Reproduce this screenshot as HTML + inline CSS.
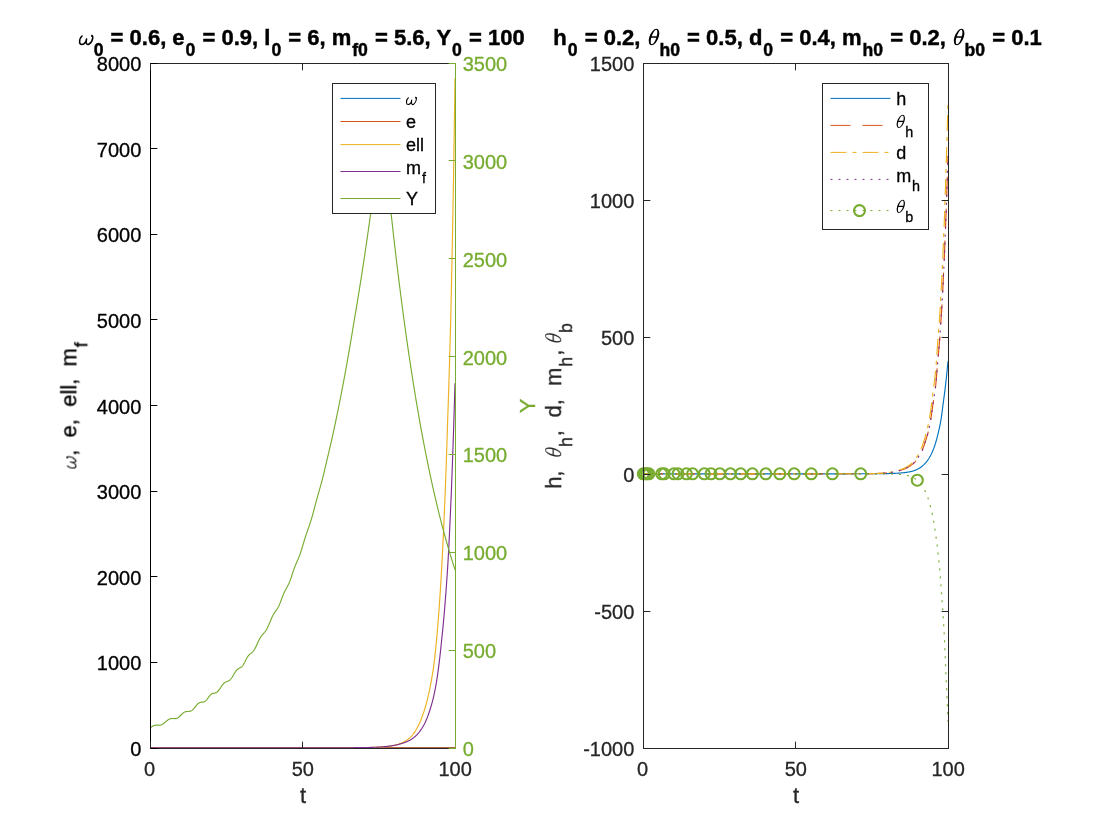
<!DOCTYPE html>
<html><head><meta charset="utf-8"><title>figure</title>
<style>html,body{margin:0;padding:0;background:#fff;}svg{display:block;will-change:transform;}text{font-family:"Liberation Sans",sans-serif;}</style></head><body>
<svg width="1120" height="840" viewBox="0 0 1120 840">
<rect x="0" y="0" width="1120" height="840" fill="#fff"/>
<defs><clipPath id="c1"><rect x="150.00" y="63.00" width="306.00" height="686.00"/></clipPath>
<clipPath id="c2"><rect x="643.00" y="63.00" width="306.00" height="686.00"/></clipPath>
<filter id="ga" color-interpolation-filters="sRGB" filterUnits="userSpaceOnUse" x="0" y="0" width="1120" height="840"><feOffset dx="0" dy="0"/></filter></defs>
<g clip-path="url(#c1)"><g fill="none" stroke-width="1.15" stroke-linejoin="round">
<polyline stroke="#0072BD" points="150.00,747.75 150.25,747.75 150.51,747.75 150.76,747.75 151.02,747.75 151.27,747.75 151.53,747.75 151.78,747.75 152.03,747.75 152.29,747.75 152.54,747.75 152.80,747.75 153.05,747.75 153.30,747.75 153.56,747.75 153.81,747.75 154.07,747.75 154.32,747.75 154.57,747.75 154.83,747.75 155.08,747.75 155.34,747.75 155.59,747.75 155.85,747.75 156.10,747.75 156.35,747.75 156.61,747.75 156.86,747.75 157.12,747.75 157.37,747.75 157.62,747.75 157.88,747.75 158.13,747.75 158.39,747.75 158.64,747.75 158.90,747.75 159.15,747.75 159.40,747.75 159.66,747.75 159.91,747.75 160.17,747.75 160.42,747.75 160.68,747.75 160.93,747.75 161.18,747.75 161.44,747.75 161.69,747.75 161.95,747.75 162.20,747.75 162.45,747.75 162.71,747.75 162.96,747.75 163.22,747.75 163.47,747.75 163.72,747.75 163.98,747.75 164.23,747.75 164.49,747.75 164.74,747.75 165.00,747.75 165.25,747.75 165.50,747.75 165.76,747.75 166.01,747.75 166.27,747.75 166.52,747.75 166.78,747.75 167.03,747.75 167.28,747.75 167.54,747.75 167.79,747.75 168.05,747.75 168.30,747.75 168.55,747.75 168.81,747.75 169.06,747.75 169.32,747.75 169.57,747.75 169.82,747.75 170.08,747.75 170.33,747.75 170.59,747.75 170.84,747.75 171.10,747.75 171.35,747.75 171.60,747.75 171.86,747.75 172.11,747.75 172.37,747.75 172.62,747.75 172.88,747.75 173.13,747.75 173.38,747.75 173.64,747.75 173.89,747.75 174.15,747.75 174.40,747.75 174.65,747.75 174.91,747.75 175.16,747.75 175.42,747.75 175.67,747.75 175.93,747.75 176.18,747.75 176.43,747.75 176.69,747.75 176.94,747.75 177.20,747.75 177.45,747.75 177.70,747.75 177.96,747.75 178.21,747.75 178.47,747.75 178.72,747.75 178.97,747.75 179.23,747.75 179.48,747.75 179.74,747.75 179.99,747.75 180.25,747.75 180.50,747.75 180.75,747.75 181.01,747.75 181.26,747.75 181.52,747.75 181.77,747.75 182.03,747.75 182.28,747.75 182.53,747.75 182.79,747.75 183.04,747.75 183.30,747.75 183.55,747.75 183.80,747.75 184.06,747.75 184.31,747.75 184.57,747.75 184.82,747.75 185.07,747.75 185.33,747.75 185.58,747.75 185.84,747.75 186.09,747.75 186.35,747.75 186.60,747.75 186.85,747.75 187.11,747.75 187.36,747.75 187.62,747.75 187.87,747.75 188.12,747.75 188.38,747.75 188.63,747.75 188.89,747.75 189.14,747.75 189.40,747.75 189.65,747.75 189.90,747.75 190.16,747.75 190.41,747.75 190.67,747.75 190.92,747.75 191.18,747.75 191.43,747.75 191.68,747.75 191.94,747.75 192.19,747.75 192.45,747.75 192.70,747.75 192.95,747.75 193.21,747.75 193.46,747.75 193.72,747.75 193.97,747.75 194.22,747.75 194.48,747.75 194.73,747.75 194.99,747.75 195.24,747.75 195.50,747.75 195.75,747.75 196.00,747.75 196.26,747.75 196.51,747.75 196.77,747.75 197.02,747.75 197.28,747.75 197.53,747.75 197.78,747.75 198.04,747.75 198.29,747.75 198.55,747.75 198.80,747.75 199.05,747.75 199.31,747.75 199.56,747.75 199.82,747.75 200.07,747.75 200.32,747.75 200.58,747.75 200.83,747.75 201.09,747.75 201.34,747.75 201.60,747.75 201.85,747.75 202.10,747.75 202.36,747.75 202.61,747.75 202.87,747.75 203.12,747.75 203.38,747.75 203.63,747.75 203.88,747.75 204.14,747.75 204.39,747.75 204.65,747.75 204.90,747.75 205.15,747.75 205.41,747.75 205.66,747.75 205.92,747.75 206.17,747.75 206.43,747.75 206.68,747.75 206.93,747.75 207.19,747.75 207.44,747.75 207.70,747.75 207.95,747.75 208.20,747.75 208.46,747.75 208.71,747.75 208.97,747.75 209.22,747.75 209.47,747.75 209.73,747.75 209.98,747.75 210.24,747.75 210.49,747.75 210.75,747.75 211.00,747.75 211.25,747.75 211.51,747.75 211.76,747.75 212.02,747.75 212.27,747.75 212.53,747.75 212.78,747.75 213.03,747.75 213.29,747.75 213.54,747.75 213.80,747.75 214.05,747.75 214.30,747.75 214.56,747.75 214.81,747.75 215.07,747.75 215.32,747.75 215.57,747.75 215.83,747.75 216.08,747.75 216.34,747.75 216.59,747.75 216.85,747.75 217.10,747.75 217.35,747.75 217.61,747.75 217.86,747.75 218.12,747.75 218.37,747.75 218.62,747.75 218.88,747.75 219.13,747.75 219.39,747.75 219.64,747.75 219.90,747.75 220.15,747.75 220.40,747.75 220.66,747.75 220.91,747.75 221.17,747.75 221.42,747.75 221.68,747.75 221.93,747.75 222.18,747.75 222.44,747.75 222.69,747.75 222.95,747.75 223.20,747.75 223.45,747.75 223.71,747.75 223.96,747.75 224.22,747.75 224.47,747.75 224.72,747.75 224.98,747.75 225.23,747.75 225.49,747.75 225.74,747.75 226.00,747.75 226.25,747.75 226.50,747.75 226.76,747.75 227.01,747.75 227.27,747.75 227.52,747.75 227.78,747.75 228.03,747.75 228.28,747.75 228.54,747.75 228.79,747.75 229.05,747.75 229.30,747.75 229.55,747.75 229.81,747.75 230.06,747.75 230.32,747.75 230.57,747.75 230.82,747.75 231.08,747.75 231.33,747.75 231.59,747.75 231.84,747.75 232.10,747.75 232.35,747.75 232.60,747.75 232.86,747.75 233.11,747.75 233.37,747.75 233.62,747.75 233.88,747.75 234.13,747.75 234.38,747.75 234.64,747.75 234.89,747.75 235.15,747.75 235.40,747.75 235.65,747.75 235.91,747.75 236.16,747.75 236.42,747.75 236.67,747.75 236.93,747.75 237.18,747.75 237.43,747.75 237.69,747.75 237.94,747.75 238.20,747.75 238.45,747.75 238.70,747.75 238.96,747.75 239.21,747.75 239.47,747.75 239.72,747.75 239.97,747.75 240.23,747.75 240.48,747.75 240.74,747.75 240.99,747.75 241.25,747.75 241.50,747.75 241.75,747.75 242.01,747.75 242.26,747.75 242.52,747.75 242.77,747.75 243.02,747.75 243.28,747.75 243.53,747.75 243.79,747.75 244.04,747.75 244.30,747.75 244.55,747.75 244.80,747.75 245.06,747.75 245.31,747.75 245.57,747.75 245.82,747.75 246.07,747.75 246.33,747.75 246.58,747.75 246.84,747.75 247.09,747.75 247.35,747.75 247.60,747.75 247.85,747.75 248.11,747.75 248.36,747.75 248.62,747.75 248.87,747.75 249.12,747.75 249.38,747.75 249.63,747.75 249.89,747.75 250.14,747.75 250.40,747.75 250.65,747.75 250.90,747.75 251.16,747.75 251.41,747.75 251.67,747.75 251.92,747.75 252.18,747.75 252.43,747.75 252.68,747.75 252.94,747.75 253.19,747.75 253.45,747.75 253.70,747.75 253.95,747.75 254.21,747.75 254.46,747.75 254.72,747.75 254.97,747.75 255.22,747.75 255.48,747.75 255.73,747.75 255.99,747.75 256.24,747.75 256.50,747.75 256.75,747.75 257.00,747.75 257.26,747.75 257.51,747.75 257.77,747.75 258.02,747.75 258.27,747.75 258.53,747.75 258.78,747.75 259.04,747.75 259.29,747.75 259.55,747.75 259.80,747.75 260.05,747.75 260.31,747.75 260.56,747.75 260.82,747.75 261.07,747.75 261.32,747.75 261.58,747.75 261.83,747.75 262.09,747.75 262.34,747.75 262.60,747.75 262.85,747.75 263.10,747.75 263.36,747.75 263.61,747.75 263.87,747.75 264.12,747.75 264.38,747.75 264.63,747.75 264.88,747.75 265.14,747.75 265.39,747.75 265.65,747.75 265.90,747.75 266.15,747.75 266.41,747.75 266.66,747.75 266.92,747.75 267.17,747.75 267.43,747.75 267.68,747.75 267.93,747.75 268.19,747.75 268.44,747.75 268.70,747.75 268.95,747.75 269.20,747.75 269.46,747.75 269.71,747.75 269.97,747.75 270.22,747.75 270.48,747.75 270.73,747.75 270.98,747.75 271.24,747.75 271.49,747.75 271.75,747.75 272.00,747.75 272.25,747.75 272.51,747.75 272.76,747.75 273.02,747.75 273.27,747.75 273.52,747.75 273.78,747.75 274.03,747.75 274.29,747.75 274.54,747.75 274.80,747.75 275.05,747.75 275.30,747.75 275.56,747.75 275.81,747.75 276.07,747.75 276.32,747.75 276.57,747.75 276.83,747.75 277.08,747.75 277.34,747.75 277.59,747.75 277.85,747.75 278.10,747.75 278.35,747.75 278.61,747.75 278.86,747.75 279.12,747.75 279.37,747.75 279.62,747.75 279.88,747.75 280.13,747.75 280.39,747.75 280.64,747.75 280.90,747.75 281.15,747.75 281.40,747.75 281.66,747.75 281.91,747.75 282.17,747.75 282.42,747.75 282.68,747.75 282.93,747.75 283.18,747.75 283.44,747.75 283.69,747.75 283.95,747.75 284.20,747.75 284.45,747.75 284.71,747.75 284.96,747.75 285.22,747.75 285.47,747.75 285.73,747.75 285.98,747.75 286.23,747.75 286.49,747.75 286.74,747.75 287.00,747.75 287.25,747.75 287.50,747.75 287.76,747.75 288.01,747.75 288.27,747.75 288.52,747.75 288.77,747.75 289.03,747.75 289.28,747.75 289.54,747.75 289.79,747.75 290.05,747.75 290.30,747.75 290.55,747.75 290.81,747.75 291.06,747.75 291.32,747.75 291.57,747.75 291.83,747.75 292.08,747.75 292.33,747.75 292.59,747.75 292.84,747.75 293.10,747.75 293.35,747.75 293.60,747.75 293.86,747.75 294.11,747.75 294.37,747.75 294.62,747.75 294.88,747.75 295.13,747.75 295.38,747.75 295.64,747.75 295.89,747.75 296.15,747.75 296.40,747.75 296.65,747.75 296.91,747.75 297.16,747.75 297.42,747.75 297.67,747.75 297.92,747.75 298.18,747.75 298.43,747.75 298.69,747.75 298.94,747.75 299.20,747.75 299.45,747.75 299.70,747.75 299.96,747.75 300.21,747.75 300.47,747.75 300.72,747.75 300.98,747.75 301.23,747.75 301.48,747.75 301.74,747.75 301.99,747.75 302.25,747.75 302.50,747.75 302.75,747.75 303.01,747.75 303.26,747.75 303.52,747.75 303.77,747.75 304.02,747.75 304.28,747.75 304.53,747.75 304.79,747.75 305.04,747.75 305.30,747.75 305.55,747.75 305.80,747.75 306.06,747.75 306.31,747.75 306.57,747.75 306.82,747.75 307.08,747.75 307.33,747.75 307.58,747.75 307.84,747.75 308.09,747.75 308.35,747.75 308.60,747.75 308.85,747.75 309.11,747.75 309.36,747.75 309.62,747.75 309.87,747.75 310.12,747.75 310.38,747.75 310.63,747.75 310.89,747.75 311.14,747.75 311.40,747.75 311.65,747.75 311.90,747.75 312.16,747.75 312.41,747.75 312.67,747.75 312.92,747.75 313.18,747.75 313.43,747.75 313.68,747.75 313.94,747.75 314.19,747.75 314.45,747.75 314.70,747.75 314.95,747.75 315.21,747.75 315.46,747.75 315.72,747.75 315.97,747.75 316.23,747.75 316.48,747.75 316.73,747.75 316.99,747.75 317.24,747.75 317.50,747.75 317.75,747.75 318.00,747.75 318.26,747.75 318.51,747.75 318.77,747.75 319.02,747.75 319.27,747.75 319.53,747.75 319.78,747.75 320.04,747.75 320.29,747.75 320.55,747.75 320.80,747.75 321.05,747.75 321.31,747.75 321.56,747.75 321.82,747.75 322.07,747.75 322.32,747.75 322.58,747.75 322.83,747.75 323.09,747.75 323.34,747.75 323.60,747.75 323.85,747.75 324.10,747.75 324.36,747.75 324.61,747.75 324.87,747.75 325.12,747.75 325.38,747.75 325.63,747.75 325.88,747.75 326.14,747.75 326.39,747.75 326.65,747.75 326.90,747.75 327.15,747.75 327.41,747.75 327.66,747.75 327.92,747.75 328.17,747.75 328.42,747.75 328.68,747.75 328.93,747.75 329.19,747.75 329.44,747.75 329.70,747.75 329.95,747.75 330.20,747.75 330.46,747.75 330.71,747.75 330.97,747.75 331.22,747.75 331.48,747.75 331.73,747.75 331.98,747.75 332.24,747.75 332.49,747.75 332.75,747.75 333.00,747.75 333.25,747.75 333.51,747.75 333.76,747.75 334.02,747.75 334.27,747.75 334.52,747.75 334.78,747.75 335.03,747.75 335.29,747.75 335.54,747.75 335.80,747.75 336.05,747.75 336.30,747.75 336.56,747.75 336.81,747.75 337.07,747.75 337.32,747.75 337.57,747.75 337.83,747.75 338.08,747.75 338.34,747.75 338.59,747.75 338.85,747.75 339.10,747.75 339.35,747.75 339.61,747.75 339.86,747.75 340.12,747.75 340.37,747.75 340.62,747.75 340.88,747.75 341.13,747.75 341.39,747.75 341.64,747.75 341.90,747.75 342.15,747.75 342.40,747.75 342.66,747.75 342.91,747.75 343.17,747.75 343.42,747.75 343.68,747.75 343.93,747.75 344.18,747.75 344.44,747.75 344.69,747.75 344.95,747.75 345.20,747.75 345.45,747.75 345.71,747.75 345.96,747.75 346.22,747.75 346.47,747.75 346.73,747.75 346.98,747.75 347.23,747.75 347.49,747.75 347.74,747.75 348.00,747.75 348.25,747.75 348.50,747.75 348.76,747.75 349.01,747.75 349.27,747.75 349.52,747.75 349.77,747.75 350.03,747.75 350.28,747.75 350.54,747.75 350.79,747.75 351.05,747.75 351.30,747.75 351.55,747.75 351.81,747.75 352.06,747.75 352.32,747.75 352.57,747.75 352.83,747.75 353.08,747.75 353.33,747.75 353.59,747.75 353.84,747.75 354.10,747.75 354.35,747.75 354.60,747.75 354.86,747.75 355.11,747.75 355.37,747.75 355.62,747.75 355.88,747.75 356.13,747.75 356.38,747.75 356.64,747.75 356.89,747.75 357.15,747.75 357.40,747.75 357.65,747.75 357.91,747.75 358.16,747.75 358.42,747.75 358.67,747.75 358.93,747.75 359.18,747.75 359.43,747.75 359.69,747.75 359.94,747.75 360.20,747.75 360.45,747.75 360.70,747.75 360.96,747.75 361.21,747.75 361.47,747.75 361.72,747.75 361.98,747.75 362.23,747.75 362.48,747.75 362.74,747.75 362.99,747.75 363.25,747.75 363.50,747.75 363.75,747.75 364.01,747.75 364.26,747.75 364.52,747.75 364.77,747.75 365.02,747.75 365.28,747.75 365.53,747.75 365.79,747.75 366.04,747.75 366.30,747.75 366.55,747.75 366.80,747.75 367.06,747.75 367.31,747.75 367.57,747.75 367.82,747.75 368.07,747.75 368.33,747.75 368.58,747.75 368.84,747.75 369.09,747.75 369.35,747.75 369.60,747.75 369.85,747.75 370.11,747.75 370.36,747.75 370.62,747.75 370.87,747.75 371.12,747.75 371.38,747.75 371.63,747.75 371.89,747.75 372.14,747.75 372.40,747.75 372.65,747.75 372.90,747.75 373.16,747.75 373.41,747.75 373.67,747.75 373.92,747.75 374.17,747.75 374.43,747.75 374.68,747.75 374.94,747.75 375.19,747.75 375.45,747.75 375.70,747.75 375.95,747.75 376.21,747.75 376.46,747.75 376.72,747.75 376.97,747.75 377.23,747.75 377.48,747.75 377.73,747.75 377.99,747.75 378.24,747.75 378.50,747.75 378.75,747.75 379.00,747.75 379.26,747.75 379.51,747.75 379.77,747.75 380.02,747.75 380.27,747.75 380.53,747.75 380.78,747.75 381.04,747.75 381.29,747.75 381.55,747.75 381.80,747.75 382.05,747.75 382.31,747.75 382.56,747.75 382.82,747.75 383.07,747.75 383.33,747.75 383.58,747.75 383.83,747.75 384.09,747.75 384.34,747.75 384.60,747.75 384.85,747.75 385.10,747.75 385.36,747.75 385.61,747.75 385.87,747.75 386.12,747.75 386.38,747.75 386.63,747.75 386.88,747.75 387.14,747.75 387.39,747.75 387.65,747.75 387.90,747.75 388.15,747.75 388.41,747.75 388.66,747.75 388.92,747.75 389.17,747.75 389.43,747.75 389.68,747.75 389.93,747.75 390.19,747.75 390.44,747.75 390.70,747.75 390.95,747.75 391.20,747.75 391.46,747.75 391.71,747.75 391.97,747.75 392.22,747.75 392.48,747.75 392.73,747.75 392.98,747.75 393.24,747.75 393.49,747.75 393.75,747.75 394.00,747.75 394.25,747.75 394.51,747.75 394.76,747.75 395.02,747.75 395.27,747.75 395.52,747.75 395.78,747.75 396.03,747.75 396.29,747.75 396.54,747.75 396.80,747.75 397.05,747.75 397.30,747.75 397.56,747.75 397.81,747.75 398.07,747.75 398.32,747.75 398.57,747.75 398.83,747.75 399.08,747.75 399.34,747.75 399.59,747.75 399.85,747.75 400.10,747.75 400.35,747.75 400.61,747.75 400.86,747.75 401.12,747.75 401.37,747.75 401.62,747.75 401.88,747.75 402.13,747.75 402.39,747.75 402.64,747.75 402.90,747.75 403.15,747.75 403.40,747.75 403.66,747.75 403.91,747.75 404.17,747.75 404.42,747.75 404.67,747.75 404.93,747.75 405.18,747.75 405.44,747.75 405.69,747.75 405.95,747.75 406.20,747.75 406.45,747.75 406.71,747.75 406.96,747.75 407.22,747.75 407.47,747.75 407.72,747.75 407.98,747.75 408.23,747.75 408.49,747.75 408.74,747.75 409.00,747.75 409.25,747.75 409.50,747.75 409.76,747.75 410.01,747.75 410.27,747.75 410.52,747.75 410.77,747.75 411.03,747.75 411.28,747.75 411.54,747.75 411.79,747.75 412.05,747.75 412.30,747.75 412.55,747.75 412.81,747.75 413.06,747.75 413.32,747.75 413.57,747.75 413.82,747.75 414.08,747.75 414.33,747.75 414.59,747.75 414.84,747.75 415.10,747.75 415.35,747.75 415.60,747.75 415.86,747.75 416.11,747.75 416.37,747.75 416.62,747.75 416.88,747.75 417.13,747.75 417.38,747.75 417.64,747.75 417.89,747.75 418.15,747.75 418.40,747.75 418.65,747.75 418.91,747.75 419.16,747.75 419.42,747.75 419.67,747.75 419.93,747.75 420.18,747.75 420.43,747.75 420.69,747.75 420.94,747.75 421.20,747.75 421.45,747.75 421.70,747.75 421.96,747.75 422.21,747.75 422.47,747.75 422.72,747.75 422.98,747.75 423.23,747.75 423.48,747.75 423.74,747.75 423.99,747.75 424.25,747.75 424.50,747.75 424.75,747.75 425.01,747.75 425.26,747.75 425.52,747.75 425.77,747.75 426.03,747.75 426.28,747.75 426.53,747.75 426.79,747.75 427.04,747.75 427.30,747.75 427.55,747.75 427.80,747.75 428.06,747.75 428.31,747.75 428.57,747.75 428.82,747.75 429.07,747.75 429.33,747.75 429.58,747.75 429.84,747.75 430.09,747.75 430.35,747.75 430.60,747.75 430.85,747.75 431.11,747.75 431.36,747.75 431.62,747.75 431.87,747.75 432.12,747.75 432.38,747.75 432.63,747.75 432.89,747.75 433.14,747.75 433.40,747.75 433.65,747.75 433.90,747.75 434.16,747.75 434.41,747.75 434.67,747.75 434.92,747.75 435.18,747.75 435.43,747.75 435.68,747.75 435.94,747.75 436.19,747.75 436.45,747.75 436.70,747.75 436.95,747.75 437.21,747.75 437.46,747.75 437.72,747.75 437.97,747.75 438.22,747.75 438.48,747.75 438.73,747.75 438.99,747.75 439.24,747.75 439.50,747.75 439.75,747.75 440.00,747.75 440.26,747.75 440.51,747.75 440.77,747.75 441.02,747.75 441.27,747.75 441.53,747.75 441.78,747.75 442.04,747.75 442.29,747.75 442.55,747.75 442.80,747.75 443.05,747.75 443.31,747.75 443.56,747.75 443.82,747.75 444.07,747.75 444.32,747.75 444.58,747.75 444.83,747.75 445.09,747.75 445.34,747.75 445.60,747.75 445.85,747.75 446.10,747.75 446.36,747.75 446.61,747.75 446.87,747.75 447.12,747.75 447.38,747.75 447.63,747.75 447.88,747.75 448.14,747.75 448.39,747.75 448.65,747.75 448.90,747.75 449.15,747.75 449.41,747.75 449.66,747.75 449.92,747.75 450.17,747.75 450.43,747.75 450.68,747.75 450.93,747.75 451.19,747.75 451.44,747.75 451.70,747.75 451.95,747.75 452.20,747.75 452.46,747.75 452.71,747.75 452.97,747.75 453.22,747.75 453.48,747.75 453.73,747.75 453.98,747.75 454.24,747.75 454.49,747.75 454.75,747.75 455.00,747.75"/>
<polyline stroke="#D95319" points="150.00,747.72 150.25,747.72 150.51,747.72 150.76,747.72 151.02,747.72 151.27,747.72 151.53,747.72 151.78,747.72 152.03,747.72 152.29,747.72 152.54,747.72 152.80,747.72 153.05,747.72 153.30,747.72 153.56,747.72 153.81,747.72 154.07,747.72 154.32,747.72 154.57,747.72 154.83,747.72 155.08,747.72 155.34,747.72 155.59,747.72 155.85,747.72 156.10,747.72 156.35,747.72 156.61,747.72 156.86,747.72 157.12,747.72 157.37,747.72 157.62,747.72 157.88,747.72 158.13,747.72 158.39,747.72 158.64,747.72 158.90,747.72 159.15,747.72 159.40,747.72 159.66,747.72 159.91,747.72 160.17,747.72 160.42,747.72 160.68,747.72 160.93,747.72 161.18,747.72 161.44,747.72 161.69,747.72 161.95,747.72 162.20,747.72 162.45,747.72 162.71,747.72 162.96,747.72 163.22,747.72 163.47,747.72 163.72,747.72 163.98,747.72 164.23,747.72 164.49,747.72 164.74,747.72 165.00,747.72 165.25,747.72 165.50,747.72 165.76,747.72 166.01,747.72 166.27,747.72 166.52,747.72 166.78,747.72 167.03,747.72 167.28,747.72 167.54,747.72 167.79,747.72 168.05,747.72 168.30,747.72 168.55,747.72 168.81,747.72 169.06,747.72 169.32,747.72 169.57,747.72 169.82,747.72 170.08,747.72 170.33,747.72 170.59,747.72 170.84,747.72 171.10,747.72 171.35,747.72 171.60,747.72 171.86,747.72 172.11,747.72 172.37,747.72 172.62,747.72 172.88,747.72 173.13,747.72 173.38,747.72 173.64,747.72 173.89,747.72 174.15,747.72 174.40,747.72 174.65,747.72 174.91,747.72 175.16,747.72 175.42,747.72 175.67,747.72 175.93,747.72 176.18,747.72 176.43,747.72 176.69,747.72 176.94,747.72 177.20,747.72 177.45,747.72 177.70,747.72 177.96,747.72 178.21,747.72 178.47,747.72 178.72,747.72 178.97,747.72 179.23,747.72 179.48,747.72 179.74,747.72 179.99,747.72 180.25,747.72 180.50,747.72 180.75,747.72 181.01,747.72 181.26,747.72 181.52,747.72 181.77,747.72 182.03,747.72 182.28,747.72 182.53,747.72 182.79,747.72 183.04,747.72 183.30,747.72 183.55,747.72 183.80,747.72 184.06,747.72 184.31,747.72 184.57,747.72 184.82,747.72 185.07,747.72 185.33,747.72 185.58,747.72 185.84,747.72 186.09,747.72 186.35,747.72 186.60,747.72 186.85,747.72 187.11,747.72 187.36,747.72 187.62,747.72 187.87,747.72 188.12,747.72 188.38,747.72 188.63,747.72 188.89,747.72 189.14,747.72 189.40,747.72 189.65,747.72 189.90,747.72 190.16,747.72 190.41,747.72 190.67,747.72 190.92,747.72 191.18,747.72 191.43,747.72 191.68,747.72 191.94,747.72 192.19,747.72 192.45,747.72 192.70,747.72 192.95,747.72 193.21,747.72 193.46,747.72 193.72,747.72 193.97,747.72 194.22,747.72 194.48,747.72 194.73,747.72 194.99,747.72 195.24,747.72 195.50,747.72 195.75,747.72 196.00,747.72 196.26,747.72 196.51,747.72 196.77,747.72 197.02,747.72 197.28,747.72 197.53,747.72 197.78,747.72 198.04,747.72 198.29,747.72 198.55,747.72 198.80,747.72 199.05,747.72 199.31,747.72 199.56,747.72 199.82,747.72 200.07,747.72 200.32,747.72 200.58,747.72 200.83,747.72 201.09,747.72 201.34,747.72 201.60,747.72 201.85,747.72 202.10,747.72 202.36,747.72 202.61,747.72 202.87,747.72 203.12,747.72 203.38,747.72 203.63,747.72 203.88,747.72 204.14,747.72 204.39,747.72 204.65,747.72 204.90,747.72 205.15,747.72 205.41,747.72 205.66,747.72 205.92,747.72 206.17,747.72 206.43,747.72 206.68,747.72 206.93,747.72 207.19,747.72 207.44,747.72 207.70,747.72 207.95,747.72 208.20,747.72 208.46,747.72 208.71,747.72 208.97,747.72 209.22,747.72 209.47,747.72 209.73,747.72 209.98,747.72 210.24,747.72 210.49,747.72 210.75,747.72 211.00,747.72 211.25,747.72 211.51,747.72 211.76,747.72 212.02,747.72 212.27,747.72 212.53,747.72 212.78,747.72 213.03,747.72 213.29,747.72 213.54,747.72 213.80,747.72 214.05,747.72 214.30,747.72 214.56,747.72 214.81,747.72 215.07,747.72 215.32,747.72 215.57,747.72 215.83,747.72 216.08,747.72 216.34,747.72 216.59,747.72 216.85,747.72 217.10,747.72 217.35,747.72 217.61,747.72 217.86,747.72 218.12,747.72 218.37,747.72 218.62,747.72 218.88,747.72 219.13,747.72 219.39,747.72 219.64,747.72 219.90,747.72 220.15,747.72 220.40,747.72 220.66,747.72 220.91,747.72 221.17,747.72 221.42,747.72 221.68,747.72 221.93,747.72 222.18,747.72 222.44,747.72 222.69,747.72 222.95,747.72 223.20,747.72 223.45,747.72 223.71,747.72 223.96,747.72 224.22,747.72 224.47,747.72 224.72,747.72 224.98,747.72 225.23,747.72 225.49,747.72 225.74,747.72 226.00,747.72 226.25,747.72 226.50,747.72 226.76,747.72 227.01,747.72 227.27,747.72 227.52,747.72 227.78,747.72 228.03,747.72 228.28,747.72 228.54,747.72 228.79,747.72 229.05,747.72 229.30,747.72 229.55,747.72 229.81,747.72 230.06,747.72 230.32,747.72 230.57,747.72 230.82,747.72 231.08,747.72 231.33,747.72 231.59,747.72 231.84,747.72 232.10,747.72 232.35,747.72 232.60,747.72 232.86,747.72 233.11,747.72 233.37,747.72 233.62,747.72 233.88,747.72 234.13,747.72 234.38,747.72 234.64,747.72 234.89,747.72 235.15,747.72 235.40,747.72 235.65,747.72 235.91,747.72 236.16,747.72 236.42,747.72 236.67,747.72 236.93,747.72 237.18,747.72 237.43,747.72 237.69,747.72 237.94,747.72 238.20,747.72 238.45,747.72 238.70,747.72 238.96,747.72 239.21,747.72 239.47,747.72 239.72,747.72 239.97,747.72 240.23,747.72 240.48,747.72 240.74,747.72 240.99,747.72 241.25,747.72 241.50,747.72 241.75,747.72 242.01,747.72 242.26,747.72 242.52,747.72 242.77,747.72 243.02,747.72 243.28,747.72 243.53,747.72 243.79,747.72 244.04,747.72 244.30,747.72 244.55,747.72 244.80,747.72 245.06,747.72 245.31,747.72 245.57,747.72 245.82,747.72 246.07,747.72 246.33,747.72 246.58,747.72 246.84,747.72 247.09,747.72 247.35,747.72 247.60,747.72 247.85,747.72 248.11,747.72 248.36,747.72 248.62,747.72 248.87,747.72 249.12,747.72 249.38,747.72 249.63,747.72 249.89,747.72 250.14,747.72 250.40,747.72 250.65,747.72 250.90,747.72 251.16,747.72 251.41,747.72 251.67,747.72 251.92,747.72 252.18,747.72 252.43,747.72 252.68,747.72 252.94,747.72 253.19,747.72 253.45,747.72 253.70,747.72 253.95,747.72 254.21,747.72 254.46,747.72 254.72,747.72 254.97,747.72 255.22,747.72 255.48,747.72 255.73,747.72 255.99,747.72 256.24,747.72 256.50,747.72 256.75,747.72 257.00,747.72 257.26,747.72 257.51,747.72 257.77,747.72 258.02,747.72 258.27,747.72 258.53,747.72 258.78,747.72 259.04,747.72 259.29,747.72 259.55,747.72 259.80,747.72 260.05,747.72 260.31,747.72 260.56,747.72 260.82,747.72 261.07,747.72 261.32,747.72 261.58,747.72 261.83,747.72 262.09,747.72 262.34,747.72 262.60,747.72 262.85,747.72 263.10,747.72 263.36,747.72 263.61,747.72 263.87,747.72 264.12,747.72 264.38,747.72 264.63,747.72 264.88,747.72 265.14,747.72 265.39,747.72 265.65,747.72 265.90,747.72 266.15,747.72 266.41,747.72 266.66,747.72 266.92,747.72 267.17,747.72 267.43,747.72 267.68,747.72 267.93,747.72 268.19,747.72 268.44,747.72 268.70,747.72 268.95,747.72 269.20,747.72 269.46,747.72 269.71,747.72 269.97,747.72 270.22,747.72 270.48,747.72 270.73,747.72 270.98,747.72 271.24,747.72 271.49,747.72 271.75,747.72 272.00,747.72 272.25,747.72 272.51,747.72 272.76,747.72 273.02,747.72 273.27,747.72 273.52,747.72 273.78,747.72 274.03,747.72 274.29,747.72 274.54,747.72 274.80,747.72 275.05,747.72 275.30,747.72 275.56,747.72 275.81,747.72 276.07,747.72 276.32,747.72 276.57,747.72 276.83,747.72 277.08,747.72 277.34,747.72 277.59,747.72 277.85,747.72 278.10,747.72 278.35,747.72 278.61,747.72 278.86,747.72 279.12,747.72 279.37,747.72 279.62,747.72 279.88,747.72 280.13,747.72 280.39,747.72 280.64,747.72 280.90,747.72 281.15,747.72 281.40,747.72 281.66,747.72 281.91,747.72 282.17,747.72 282.42,747.72 282.68,747.72 282.93,747.72 283.18,747.72 283.44,747.72 283.69,747.72 283.95,747.72 284.20,747.72 284.45,747.72 284.71,747.72 284.96,747.72 285.22,747.72 285.47,747.72 285.73,747.72 285.98,747.72 286.23,747.72 286.49,747.72 286.74,747.72 287.00,747.72 287.25,747.72 287.50,747.72 287.76,747.72 288.01,747.72 288.27,747.72 288.52,747.72 288.77,747.72 289.03,747.72 289.28,747.72 289.54,747.72 289.79,747.72 290.05,747.72 290.30,747.72 290.55,747.72 290.81,747.72 291.06,747.72 291.32,747.72 291.57,747.72 291.83,747.72 292.08,747.72 292.33,747.72 292.59,747.72 292.84,747.72 293.10,747.72 293.35,747.72 293.60,747.72 293.86,747.72 294.11,747.72 294.37,747.72 294.62,747.72 294.88,747.72 295.13,747.72 295.38,747.72 295.64,747.72 295.89,747.72 296.15,747.72 296.40,747.72 296.65,747.72 296.91,747.72 297.16,747.72 297.42,747.72 297.67,747.72 297.92,747.72 298.18,747.72 298.43,747.72 298.69,747.72 298.94,747.72 299.20,747.72 299.45,747.72 299.70,747.72 299.96,747.72 300.21,747.72 300.47,747.72 300.72,747.72 300.98,747.72 301.23,747.72 301.48,747.72 301.74,747.72 301.99,747.72 302.25,747.72 302.50,747.72 302.75,747.72 303.01,747.72 303.26,747.72 303.52,747.72 303.77,747.72 304.02,747.72 304.28,747.72 304.53,747.72 304.79,747.72 305.04,747.72 305.30,747.72 305.55,747.72 305.80,747.72 306.06,747.72 306.31,747.72 306.57,747.72 306.82,747.72 307.08,747.72 307.33,747.72 307.58,747.72 307.84,747.72 308.09,747.72 308.35,747.72 308.60,747.72 308.85,747.72 309.11,747.72 309.36,747.72 309.62,747.72 309.87,747.72 310.12,747.72 310.38,747.72 310.63,747.72 310.89,747.72 311.14,747.72 311.40,747.72 311.65,747.72 311.90,747.72 312.16,747.72 312.41,747.72 312.67,747.72 312.92,747.72 313.18,747.72 313.43,747.72 313.68,747.72 313.94,747.72 314.19,747.72 314.45,747.72 314.70,747.72 314.95,747.72 315.21,747.72 315.46,747.72 315.72,747.72 315.97,747.72 316.23,747.72 316.48,747.72 316.73,747.72 316.99,747.72 317.24,747.72 317.50,747.72 317.75,747.72 318.00,747.72 318.26,747.72 318.51,747.72 318.77,747.72 319.02,747.72 319.27,747.72 319.53,747.72 319.78,747.72 320.04,747.72 320.29,747.72 320.55,747.72 320.80,747.72 321.05,747.72 321.31,747.72 321.56,747.72 321.82,747.72 322.07,747.72 322.32,747.72 322.58,747.72 322.83,747.72 323.09,747.72 323.34,747.72 323.60,747.72 323.85,747.72 324.10,747.72 324.36,747.72 324.61,747.72 324.87,747.72 325.12,747.72 325.38,747.72 325.63,747.72 325.88,747.72 326.14,747.72 326.39,747.72 326.65,747.72 326.90,747.72 327.15,747.72 327.41,747.72 327.66,747.72 327.92,747.72 328.17,747.72 328.42,747.72 328.68,747.72 328.93,747.72 329.19,747.72 329.44,747.72 329.70,747.72 329.95,747.72 330.20,747.72 330.46,747.72 330.71,747.72 330.97,747.72 331.22,747.72 331.48,747.72 331.73,747.72 331.98,747.72 332.24,747.72 332.49,747.72 332.75,747.72 333.00,747.72 333.25,747.72 333.51,747.72 333.76,747.72 334.02,747.72 334.27,747.72 334.52,747.72 334.78,747.72 335.03,747.72 335.29,747.72 335.54,747.72 335.80,747.72 336.05,747.72 336.30,747.72 336.56,747.72 336.81,747.72 337.07,747.72 337.32,747.72 337.57,747.72 337.83,747.72 338.08,747.72 338.34,747.72 338.59,747.72 338.85,747.72 339.10,747.72 339.35,747.72 339.61,747.72 339.86,747.72 340.12,747.72 340.37,747.72 340.62,747.72 340.88,747.72 341.13,747.72 341.39,747.72 341.64,747.72 341.90,747.72 342.15,747.72 342.40,747.72 342.66,747.72 342.91,747.72 343.17,747.72 343.42,747.72 343.68,747.72 343.93,747.72 344.18,747.72 344.44,747.72 344.69,747.72 344.95,747.72 345.20,747.72 345.45,747.72 345.71,747.72 345.96,747.72 346.22,747.72 346.47,747.72 346.73,747.72 346.98,747.72 347.23,747.72 347.49,747.72 347.74,747.72 348.00,747.72 348.25,747.72 348.50,747.72 348.76,747.72 349.01,747.72 349.27,747.72 349.52,747.72 349.77,747.72 350.03,747.72 350.28,747.72 350.54,747.72 350.79,747.72 351.05,747.72 351.30,747.72 351.55,747.72 351.81,747.72 352.06,747.72 352.32,747.72 352.57,747.72 352.83,747.72 353.08,747.72 353.33,747.72 353.59,747.72 353.84,747.72 354.10,747.72 354.35,747.72 354.60,747.72 354.86,747.72 355.11,747.72 355.37,747.72 355.62,747.72 355.88,747.72 356.13,747.72 356.38,747.72 356.64,747.72 356.89,747.72 357.15,747.72 357.40,747.72 357.65,747.72 357.91,747.72 358.16,747.72 358.42,747.72 358.67,747.72 358.93,747.72 359.18,747.72 359.43,747.72 359.69,747.72 359.94,747.72 360.20,747.72 360.45,747.72 360.70,747.72 360.96,747.72 361.21,747.72 361.47,747.72 361.72,747.72 361.98,747.72 362.23,747.72 362.48,747.72 362.74,747.72 362.99,747.72 363.25,747.72 363.50,747.72 363.75,747.72 364.01,747.72 364.26,747.72 364.52,747.72 364.77,747.72 365.02,747.72 365.28,747.72 365.53,747.72 365.79,747.72 366.04,747.72 366.30,747.72 366.55,747.72 366.80,747.72 367.06,747.72 367.31,747.72 367.57,747.72 367.82,747.72 368.07,747.72 368.33,747.72 368.58,747.72 368.84,747.72 369.09,747.72 369.35,747.72 369.60,747.72 369.85,747.72 370.11,747.72 370.36,747.72 370.62,747.72 370.87,747.72 371.12,747.72 371.38,747.72 371.63,747.72 371.89,747.72 372.14,747.72 372.40,747.72 372.65,747.72 372.90,747.72 373.16,747.72 373.41,747.72 373.67,747.72 373.92,747.72 374.17,747.72 374.43,747.72 374.68,747.72 374.94,747.72 375.19,747.72 375.45,747.72 375.70,747.72 375.95,747.72 376.21,747.72 376.46,747.72 376.72,747.72 376.97,747.72 377.23,747.72 377.48,747.72 377.73,747.72 377.99,747.72 378.24,747.72 378.50,747.72 378.75,747.72 379.00,747.72 379.26,747.72 379.51,747.72 379.77,747.72 380.02,747.72 380.27,747.72 380.53,747.72 380.78,747.72 381.04,747.72 381.29,747.72 381.55,747.72 381.80,747.72 382.05,747.72 382.31,747.72 382.56,747.72 382.82,747.72 383.07,747.72 383.33,747.72 383.58,747.72 383.83,747.72 384.09,747.72 384.34,747.72 384.60,747.72 384.85,747.72 385.10,747.72 385.36,747.72 385.61,747.72 385.87,747.72 386.12,747.72 386.38,747.72 386.63,747.72 386.88,747.72 387.14,747.72 387.39,747.72 387.65,747.72 387.90,747.72 388.15,747.72 388.41,747.72 388.66,747.72 388.92,747.72 389.17,747.72 389.43,747.72 389.68,747.72 389.93,747.72 390.19,747.72 390.44,747.72 390.70,747.72 390.95,747.72 391.20,747.72 391.46,747.72 391.71,747.72 391.97,747.72 392.22,747.72 392.48,747.72 392.73,747.72 392.98,747.72 393.24,747.72 393.49,747.72 393.75,747.72 394.00,747.72 394.25,747.72 394.51,747.72 394.76,747.72 395.02,747.72 395.27,747.72 395.52,747.72 395.78,747.72 396.03,747.72 396.29,747.72 396.54,747.72 396.80,747.72 397.05,747.72 397.30,747.72 397.56,747.72 397.81,747.72 398.07,747.72 398.32,747.72 398.57,747.72 398.83,747.72 399.08,747.72 399.34,747.72 399.59,747.72 399.85,747.72 400.10,747.72 400.35,747.72 400.61,747.72 400.86,747.72 401.12,747.72 401.37,747.72 401.62,747.72 401.88,747.72 402.13,747.72 402.39,747.72 402.64,747.72 402.90,747.72 403.15,747.72 403.40,747.72 403.66,747.72 403.91,747.72 404.17,747.72 404.42,747.72 404.67,747.72 404.93,747.72 405.18,747.72 405.44,747.72 405.69,747.72 405.95,747.72 406.20,747.72 406.45,747.72 406.71,747.72 406.96,747.72 407.22,747.72 407.47,747.72 407.72,747.72 407.98,747.72 408.23,747.72 408.49,747.72 408.74,747.72 409.00,747.72 409.25,747.72 409.50,747.72 409.76,747.72 410.01,747.72 410.27,747.72 410.52,747.72 410.77,747.72 411.03,747.72 411.28,747.72 411.54,747.72 411.79,747.72 412.05,747.72 412.30,747.72 412.55,747.72 412.81,747.72 413.06,747.72 413.32,747.72 413.57,747.72 413.82,747.72 414.08,747.72 414.33,747.72 414.59,747.72 414.84,747.72 415.10,747.72 415.35,747.72 415.60,747.72 415.86,747.72 416.11,747.72 416.37,747.72 416.62,747.72 416.88,747.72 417.13,747.72 417.38,747.72 417.64,747.72 417.89,747.72 418.15,747.72 418.40,747.72 418.65,747.72 418.91,747.72 419.16,747.72 419.42,747.72 419.67,747.72 419.93,747.72 420.18,747.72 420.43,747.72 420.69,747.72 420.94,747.72 421.20,747.72 421.45,747.72 421.70,747.72 421.96,747.72 422.21,747.72 422.47,747.72 422.72,747.72 422.98,747.72 423.23,747.72 423.48,747.72 423.74,747.72 423.99,747.72 424.25,747.72 424.50,747.72 424.75,747.72 425.01,747.72 425.26,747.72 425.52,747.72 425.77,747.72 426.03,747.72 426.28,747.72 426.53,747.72 426.79,747.72 427.04,747.72 427.30,747.72 427.55,747.72 427.80,747.72 428.06,747.72 428.31,747.72 428.57,747.72 428.82,747.72 429.07,747.72 429.33,747.72 429.58,747.72 429.84,747.72 430.09,747.72 430.35,747.72 430.60,747.72 430.85,747.72 431.11,747.72 431.36,747.72 431.62,747.72 431.87,747.72 432.12,747.72 432.38,747.72 432.63,747.72 432.89,747.72 433.14,747.72 433.40,747.72 433.65,747.72 433.90,747.72 434.16,747.72 434.41,747.72 434.67,747.72 434.92,747.72 435.18,747.72 435.43,747.72 435.68,747.72 435.94,747.72 436.19,747.72 436.45,747.72 436.70,747.72 436.95,747.72 437.21,747.72 437.46,747.72 437.72,747.72 437.97,747.72 438.22,747.72 438.48,747.72 438.73,747.72 438.99,747.72 439.24,747.72 439.50,747.72 439.75,747.72 440.00,747.72 440.26,747.72 440.51,747.72 440.77,747.72 441.02,747.72 441.27,747.72 441.53,747.72 441.78,747.72 442.04,747.72 442.29,747.72 442.55,747.72 442.80,747.72 443.05,747.72 443.31,747.72 443.56,747.72 443.82,747.72 444.07,747.72 444.32,747.72 444.58,747.72 444.83,747.72 445.09,747.72 445.34,747.72 445.60,747.72 445.85,747.72 446.10,747.72 446.36,747.72 446.61,747.72 446.87,747.72 447.12,747.72 447.38,747.72 447.63,747.72 447.88,747.72 448.14,747.72 448.39,747.72 448.65,747.72 448.90,747.72 449.15,747.72 449.41,747.72 449.66,747.72 449.92,747.72 450.17,747.72 450.43,747.72 450.68,747.72 450.93,747.72 451.19,747.72 451.44,747.72 451.70,747.72 451.95,747.72 452.20,747.72 452.46,747.72 452.71,747.72 452.97,747.72 453.22,747.72 453.48,747.72 453.73,747.72 453.98,747.72 454.24,747.72 454.49,747.72 454.75,747.72 455.00,747.72"/>
<polyline stroke="#EDB120" points="150.00,747.80 150.25,747.80 150.51,747.80 150.76,747.80 151.02,747.80 151.27,747.80 151.53,747.80 151.78,747.80 152.03,747.80 152.29,747.80 152.54,747.80 152.80,747.80 153.05,747.80 153.30,747.80 153.56,747.80 153.81,747.80 154.07,747.80 154.32,747.80 154.57,747.80 154.83,747.80 155.08,747.80 155.34,747.80 155.59,747.80 155.85,747.80 156.10,747.80 156.35,747.80 156.61,747.80 156.86,747.80 157.12,747.80 157.37,747.80 157.62,747.80 157.88,747.80 158.13,747.80 158.39,747.80 158.64,747.80 158.90,747.80 159.15,747.80 159.40,747.80 159.66,747.80 159.91,747.80 160.17,747.80 160.42,747.80 160.68,747.80 160.93,747.80 161.18,747.80 161.44,747.80 161.69,747.80 161.95,747.80 162.20,747.80 162.45,747.80 162.71,747.80 162.96,747.80 163.22,747.80 163.47,747.80 163.72,747.80 163.98,747.80 164.23,747.80 164.49,747.80 164.74,747.80 165.00,747.80 165.25,747.80 165.50,747.80 165.76,747.80 166.01,747.80 166.27,747.80 166.52,747.80 166.78,747.80 167.03,747.80 167.28,747.80 167.54,747.80 167.79,747.80 168.05,747.80 168.30,747.80 168.55,747.80 168.81,747.80 169.06,747.80 169.32,747.80 169.57,747.80 169.82,747.80 170.08,747.80 170.33,747.80 170.59,747.80 170.84,747.80 171.10,747.80 171.35,747.80 171.60,747.80 171.86,747.80 172.11,747.80 172.37,747.80 172.62,747.80 172.88,747.80 173.13,747.80 173.38,747.80 173.64,747.80 173.89,747.80 174.15,747.80 174.40,747.80 174.65,747.80 174.91,747.80 175.16,747.80 175.42,747.80 175.67,747.80 175.93,747.80 176.18,747.80 176.43,747.80 176.69,747.80 176.94,747.80 177.20,747.80 177.45,747.80 177.70,747.80 177.96,747.80 178.21,747.80 178.47,747.80 178.72,747.80 178.97,747.80 179.23,747.80 179.48,747.80 179.74,747.80 179.99,747.80 180.25,747.80 180.50,747.80 180.75,747.80 181.01,747.80 181.26,747.80 181.52,747.80 181.77,747.80 182.03,747.80 182.28,747.80 182.53,747.80 182.79,747.80 183.04,747.80 183.30,747.80 183.55,747.80 183.80,747.80 184.06,747.80 184.31,747.80 184.57,747.80 184.82,747.80 185.07,747.80 185.33,747.80 185.58,747.80 185.84,747.80 186.09,747.80 186.35,747.80 186.60,747.80 186.85,747.80 187.11,747.80 187.36,747.80 187.62,747.80 187.87,747.80 188.12,747.80 188.38,747.80 188.63,747.80 188.89,747.80 189.14,747.80 189.40,747.80 189.65,747.80 189.90,747.80 190.16,747.80 190.41,747.80 190.67,747.80 190.92,747.80 191.18,747.80 191.43,747.80 191.68,747.80 191.94,747.80 192.19,747.80 192.45,747.80 192.70,747.80 192.95,747.80 193.21,747.80 193.46,747.80 193.72,747.80 193.97,747.80 194.22,747.80 194.48,747.80 194.73,747.80 194.99,747.80 195.24,747.80 195.50,747.80 195.75,747.80 196.00,747.80 196.26,747.80 196.51,747.80 196.77,747.80 197.02,747.80 197.28,747.80 197.53,747.80 197.78,747.80 198.04,747.80 198.29,747.80 198.55,747.80 198.80,747.80 199.05,747.80 199.31,747.80 199.56,747.80 199.82,747.80 200.07,747.80 200.32,747.80 200.58,747.80 200.83,747.80 201.09,747.80 201.34,747.80 201.60,747.80 201.85,747.80 202.10,747.80 202.36,747.80 202.61,747.80 202.87,747.80 203.12,747.80 203.38,747.80 203.63,747.80 203.88,747.80 204.14,747.80 204.39,747.80 204.65,747.80 204.90,747.80 205.15,747.80 205.41,747.80 205.66,747.80 205.92,747.80 206.17,747.80 206.43,747.80 206.68,747.80 206.93,747.80 207.19,747.80 207.44,747.80 207.70,747.80 207.95,747.80 208.20,747.80 208.46,747.80 208.71,747.80 208.97,747.80 209.22,747.80 209.47,747.80 209.73,747.80 209.98,747.80 210.24,747.80 210.49,747.80 210.75,747.80 211.00,747.80 211.25,747.80 211.51,747.80 211.76,747.80 212.02,747.80 212.27,747.80 212.53,747.80 212.78,747.80 213.03,747.80 213.29,747.80 213.54,747.80 213.80,747.80 214.05,747.80 214.30,747.80 214.56,747.80 214.81,747.80 215.07,747.80 215.32,747.80 215.57,747.80 215.83,747.80 216.08,747.80 216.34,747.80 216.59,747.80 216.85,747.80 217.10,747.80 217.35,747.80 217.61,747.80 217.86,747.80 218.12,747.80 218.37,747.80 218.62,747.80 218.88,747.80 219.13,747.80 219.39,747.80 219.64,747.80 219.90,747.80 220.15,747.80 220.40,747.80 220.66,747.80 220.91,747.80 221.17,747.80 221.42,747.80 221.68,747.80 221.93,747.80 222.18,747.80 222.44,747.80 222.69,747.80 222.95,747.80 223.20,747.80 223.45,747.80 223.71,747.80 223.96,747.80 224.22,747.80 224.47,747.80 224.72,747.80 224.98,747.80 225.23,747.80 225.49,747.80 225.74,747.80 226.00,747.80 226.25,747.80 226.50,747.80 226.76,747.80 227.01,747.80 227.27,747.80 227.52,747.80 227.78,747.80 228.03,747.80 228.28,747.80 228.54,747.80 228.79,747.80 229.05,747.80 229.30,747.80 229.55,747.80 229.81,747.80 230.06,747.80 230.32,747.80 230.57,747.80 230.82,747.80 231.08,747.80 231.33,747.80 231.59,747.80 231.84,747.80 232.10,747.80 232.35,747.80 232.60,747.80 232.86,747.80 233.11,747.80 233.37,747.80 233.62,747.80 233.88,747.80 234.13,747.80 234.38,747.80 234.64,747.80 234.89,747.80 235.15,747.80 235.40,747.80 235.65,747.80 235.91,747.80 236.16,747.80 236.42,747.80 236.67,747.80 236.93,747.80 237.18,747.80 237.43,747.80 237.69,747.80 237.94,747.80 238.20,747.80 238.45,747.80 238.70,747.80 238.96,747.80 239.21,747.80 239.47,747.80 239.72,747.80 239.97,747.80 240.23,747.80 240.48,747.80 240.74,747.80 240.99,747.80 241.25,747.80 241.50,747.80 241.75,747.80 242.01,747.80 242.26,747.80 242.52,747.80 242.77,747.80 243.02,747.80 243.28,747.80 243.53,747.80 243.79,747.80 244.04,747.80 244.30,747.80 244.55,747.80 244.80,747.80 245.06,747.80 245.31,747.80 245.57,747.80 245.82,747.80 246.07,747.80 246.33,747.80 246.58,747.80 246.84,747.80 247.09,747.80 247.35,747.80 247.60,747.80 247.85,747.80 248.11,747.80 248.36,747.80 248.62,747.80 248.87,747.80 249.12,747.80 249.38,747.80 249.63,747.80 249.89,747.80 250.14,747.80 250.40,747.80 250.65,747.80 250.90,747.80 251.16,747.80 251.41,747.80 251.67,747.80 251.92,747.80 252.18,747.80 252.43,747.80 252.68,747.80 252.94,747.80 253.19,747.80 253.45,747.80 253.70,747.80 253.95,747.80 254.21,747.80 254.46,747.80 254.72,747.80 254.97,747.80 255.22,747.80 255.48,747.80 255.73,747.80 255.99,747.80 256.24,747.80 256.50,747.80 256.75,747.80 257.00,747.80 257.26,747.80 257.51,747.80 257.77,747.80 258.02,747.80 258.27,747.80 258.53,747.80 258.78,747.80 259.04,747.80 259.29,747.80 259.55,747.80 259.80,747.80 260.05,747.80 260.31,747.80 260.56,747.80 260.82,747.80 261.07,747.80 261.32,747.80 261.58,747.80 261.83,747.80 262.09,747.80 262.34,747.80 262.60,747.80 262.85,747.80 263.10,747.80 263.36,747.80 263.61,747.80 263.87,747.80 264.12,747.80 264.38,747.80 264.63,747.80 264.88,747.80 265.14,747.80 265.39,747.80 265.65,747.80 265.90,747.80 266.15,747.80 266.41,747.80 266.66,747.80 266.92,747.80 267.17,747.80 267.43,747.80 267.68,747.80 267.93,747.80 268.19,747.80 268.44,747.80 268.70,747.80 268.95,747.80 269.20,747.80 269.46,747.80 269.71,747.80 269.97,747.80 270.22,747.80 270.48,747.80 270.73,747.80 270.98,747.80 271.24,747.80 271.49,747.80 271.75,747.80 272.00,747.80 272.25,747.80 272.51,747.80 272.76,747.80 273.02,747.80 273.27,747.80 273.52,747.80 273.78,747.80 274.03,747.80 274.29,747.80 274.54,747.80 274.80,747.80 275.05,747.80 275.30,747.80 275.56,747.80 275.81,747.80 276.07,747.80 276.32,747.80 276.57,747.80 276.83,747.80 277.08,747.80 277.34,747.80 277.59,747.80 277.85,747.80 278.10,747.80 278.35,747.80 278.61,747.80 278.86,747.80 279.12,747.80 279.37,747.80 279.62,747.80 279.88,747.80 280.13,747.80 280.39,747.80 280.64,747.80 280.90,747.80 281.15,747.80 281.40,747.80 281.66,747.80 281.91,747.80 282.17,747.80 282.42,747.80 282.68,747.80 282.93,747.80 283.18,747.80 283.44,747.80 283.69,747.80 283.95,747.80 284.20,747.80 284.45,747.80 284.71,747.80 284.96,747.80 285.22,747.80 285.47,747.80 285.73,747.80 285.98,747.80 286.23,747.80 286.49,747.80 286.74,747.80 287.00,747.80 287.25,747.80 287.50,747.80 287.76,747.80 288.01,747.80 288.27,747.80 288.52,747.80 288.77,747.80 289.03,747.80 289.28,747.80 289.54,747.80 289.79,747.80 290.05,747.80 290.30,747.80 290.55,747.80 290.81,747.80 291.06,747.80 291.32,747.80 291.57,747.80 291.83,747.80 292.08,747.80 292.33,747.80 292.59,747.80 292.84,747.80 293.10,747.80 293.35,747.80 293.60,747.80 293.86,747.80 294.11,747.80 294.37,747.80 294.62,747.80 294.88,747.80 295.13,747.80 295.38,747.80 295.64,747.80 295.89,747.80 296.15,747.80 296.40,747.80 296.65,747.80 296.91,747.80 297.16,747.80 297.42,747.80 297.67,747.80 297.92,747.80 298.18,747.80 298.43,747.80 298.69,747.80 298.94,747.80 299.20,747.80 299.45,747.80 299.70,747.80 299.96,747.80 300.21,747.80 300.47,747.80 300.72,747.80 300.98,747.80 301.23,747.80 301.48,747.80 301.74,747.80 301.99,747.80 302.25,747.80 302.50,747.80 302.75,747.80 303.01,747.80 303.26,747.80 303.52,747.80 303.77,747.80 304.02,747.80 304.28,747.80 304.53,747.80 304.79,747.80 305.04,747.80 305.30,747.80 305.55,747.80 305.80,747.80 306.06,747.80 306.31,747.80 306.57,747.80 306.82,747.80 307.08,747.80 307.33,747.80 307.58,747.80 307.84,747.80 308.09,747.80 308.35,747.80 308.60,747.80 308.85,747.80 309.11,747.80 309.36,747.80 309.62,747.80 309.87,747.80 310.12,747.80 310.38,747.80 310.63,747.80 310.89,747.80 311.14,747.80 311.40,747.80 311.65,747.80 311.90,747.80 312.16,747.80 312.41,747.80 312.67,747.80 312.92,747.80 313.18,747.80 313.43,747.80 313.68,747.80 313.94,747.80 314.19,747.80 314.45,747.80 314.70,747.80 314.95,747.80 315.21,747.80 315.46,747.80 315.72,747.80 315.97,747.80 316.23,747.80 316.48,747.80 316.73,747.80 316.99,747.80 317.24,747.80 317.50,747.80 317.75,747.80 318.00,747.80 318.26,747.80 318.51,747.80 318.77,747.80 319.02,747.80 319.27,747.80 319.53,747.80 319.78,747.80 320.04,747.80 320.29,747.80 320.55,747.80 320.80,747.80 321.05,747.80 321.31,747.80 321.56,747.80 321.82,747.80 322.07,747.80 322.32,747.80 322.58,747.80 322.83,747.80 323.09,747.80 323.34,747.80 323.60,747.80 323.85,747.80 324.10,747.80 324.36,747.80 324.61,747.79 324.87,747.79 325.12,747.79 325.38,747.79 325.63,747.79 325.88,747.79 326.14,747.79 326.39,747.79 326.65,747.79 326.90,747.79 327.15,747.79 327.41,747.79 327.66,747.79 327.92,747.79 328.17,747.79 328.42,747.79 328.68,747.79 328.93,747.79 329.19,747.79 329.44,747.79 329.70,747.79 329.95,747.79 330.20,747.79 330.46,747.79 330.71,747.79 330.97,747.79 331.22,747.79 331.48,747.79 331.73,747.79 331.98,747.79 332.24,747.79 332.49,747.79 332.75,747.79 333.00,747.79 333.25,747.79 333.51,747.79 333.76,747.79 334.02,747.79 334.27,747.79 334.52,747.79 334.78,747.79 335.03,747.79 335.29,747.79 335.54,747.79 335.80,747.79 336.05,747.79 336.30,747.79 336.56,747.79 336.81,747.79 337.07,747.78 337.32,747.78 337.57,747.78 337.83,747.78 338.08,747.78 338.34,747.78 338.59,747.78 338.85,747.78 339.10,747.78 339.35,747.78 339.61,747.78 339.86,747.78 340.12,747.78 340.37,747.78 340.62,747.78 340.88,747.78 341.13,747.78 341.39,747.78 341.64,747.78 341.90,747.78 342.15,747.78 342.40,747.78 342.66,747.77 342.91,747.77 343.17,747.77 343.42,747.77 343.68,747.77 343.93,747.77 344.18,747.77 344.44,747.77 344.69,747.77 344.95,747.77 345.20,747.77 345.45,747.77 345.71,747.77 345.96,747.77 346.22,747.77 346.47,747.76 346.73,747.76 346.98,747.76 347.23,747.76 347.49,747.76 347.74,747.76 348.00,747.76 348.25,747.76 348.50,747.76 348.76,747.76 349.01,747.76 349.27,747.75 349.52,747.75 349.77,747.75 350.03,747.75 350.28,747.75 350.54,747.75 350.79,747.75 351.05,747.75 351.30,747.75 351.55,747.74 351.81,747.74 352.06,747.74 352.32,747.74 352.57,747.74 352.83,747.74 353.08,747.74 353.33,747.74 353.59,747.73 353.84,747.73 354.10,747.73 354.35,747.73 354.60,747.73 354.86,747.73 355.11,747.72 355.37,747.72 355.62,747.72 355.88,747.72 356.13,747.72 356.38,747.71 356.64,747.71 356.89,747.71 357.15,747.71 357.40,747.71 357.65,747.70 357.91,747.70 358.16,747.70 358.42,747.70 358.67,747.70 358.93,747.69 359.18,747.69 359.43,747.69 359.69,747.69 359.94,747.68 360.20,747.68 360.45,747.68 360.70,747.67 360.96,747.67 361.21,747.67 361.47,747.67 361.72,747.66 361.98,747.66 362.23,747.66 362.48,747.65 362.74,747.65 362.99,747.65 363.25,747.64 363.50,747.64 363.75,747.64 364.01,747.63 364.26,747.63 364.52,747.62 364.77,747.62 365.02,747.62 365.28,747.61 365.53,747.61 365.79,747.60 366.04,747.60 366.30,747.59 366.55,747.59 366.80,747.58 367.06,747.58 367.31,747.57 367.57,747.57 367.82,747.56 368.07,747.56 368.33,747.55 368.58,747.55 368.84,747.54 369.09,747.54 369.35,747.53 369.60,747.52 369.85,747.52 370.11,747.51 370.36,747.50 370.62,747.50 370.87,747.49 371.12,747.48 371.38,747.48 371.63,747.47 371.89,747.46 372.14,747.45 372.40,747.45 372.65,747.44 372.90,747.43 373.16,747.42 373.41,747.41 373.67,747.40 373.92,747.39 374.17,747.38 374.43,747.37 374.68,747.36 374.94,747.35 375.19,747.34 375.45,747.33 375.70,747.32 375.95,747.31 376.21,747.30 376.46,747.29 376.72,747.28 376.97,747.27 377.23,747.25 377.48,747.24 377.73,747.23 377.99,747.22 378.24,747.20 378.50,747.19 378.75,747.17 379.00,747.16 379.26,747.15 379.51,747.13 379.77,747.12 380.02,747.10 380.27,747.08 380.53,747.07 380.78,747.05 381.04,747.03 381.29,747.02 381.55,747.00 381.80,746.98 382.05,746.96 382.31,746.94 382.56,746.92 382.82,746.90 383.07,746.88 383.33,746.86 383.58,746.84 383.83,746.82 384.09,746.79 384.34,746.77 384.60,746.75 384.85,746.72 385.10,746.70 385.36,746.67 385.61,746.65 385.87,746.62 386.12,746.59 386.38,746.57 386.63,746.54 386.88,746.51 387.14,746.48 387.39,746.45 387.65,746.42 387.90,746.39 388.15,746.35 388.41,746.32 388.66,746.29 388.92,746.25 389.17,746.22 389.43,746.18 389.68,746.14 389.93,746.10 390.19,746.07 390.44,746.03 390.70,745.98 390.95,745.94 391.20,745.90 391.46,745.86 391.71,745.81 391.97,745.77 392.22,745.72 392.48,745.67 392.73,745.62 392.98,745.57 393.24,745.52 393.49,745.47 393.75,745.42 394.00,745.36 394.25,745.31 394.51,745.25 394.76,745.19 395.02,745.13 395.27,745.07 395.52,745.01 395.78,744.94 396.03,744.88 396.29,744.81 396.54,744.74 396.80,744.67 397.05,744.60 397.30,744.53 397.56,744.45 397.81,744.38 398.07,744.30 398.32,744.22 398.57,744.14 398.83,744.05 399.08,743.97 399.34,743.88 399.59,743.79 399.85,743.70 400.10,743.60 400.35,743.51 400.61,743.41 400.86,743.31 401.12,743.21 401.37,743.10 401.62,742.99 401.88,742.88 402.13,742.77 402.39,742.65 402.64,742.54 402.90,742.41 403.15,742.29 403.40,742.16 403.66,742.03 403.91,741.90 404.17,741.76 404.42,741.62 404.67,741.48 404.93,741.33 405.18,741.18 405.44,741.03 405.69,740.87 405.95,740.71 406.20,740.55 406.45,740.38 406.71,740.21 406.96,740.03 407.22,739.86 407.47,739.67 407.72,739.48 407.98,739.29 408.23,739.09 408.49,738.89 408.74,738.69 409.00,738.48 409.25,738.26 409.50,738.04 409.76,737.81 410.01,737.58 410.27,737.34 410.52,737.09 410.77,736.84 411.03,736.58 411.28,736.31 411.54,736.04 411.79,735.76 412.05,735.47 412.30,735.18 412.55,734.87 412.81,734.57 413.06,734.25 413.32,733.93 413.57,733.60 413.82,733.26 414.08,732.91 414.33,732.56 414.59,732.20 414.84,731.82 415.10,731.44 415.35,731.05 415.60,730.65 415.86,730.25 416.11,729.83 416.37,729.40 416.62,728.96 416.88,728.52 417.13,728.06 417.38,727.60 417.64,727.12 417.89,726.63 418.15,726.13 418.40,725.62 418.65,725.10 418.91,724.56 419.16,724.01 419.42,723.45 419.67,722.88 419.93,722.29 420.18,721.69 420.43,721.07 420.69,720.44 420.94,719.79 421.20,719.13 421.45,718.46 421.70,717.76 421.96,717.07 422.21,716.41 422.47,715.73 422.72,715.04 422.98,714.34 423.23,713.62 423.48,712.88 423.74,712.13 423.99,711.37 424.25,710.58 424.50,709.78 424.75,708.96 425.01,708.13 425.26,707.28 425.52,706.40 425.77,705.51 426.03,704.60 426.28,703.68 426.53,702.73 426.79,701.77 427.04,700.79 427.30,699.79 427.55,698.77 427.80,697.73 428.06,696.67 428.31,695.58 428.57,694.47 428.82,693.34 429.07,692.18 429.33,691.00 429.58,689.79 429.84,688.56 430.09,687.30 430.35,686.02 430.60,684.70 430.85,683.36 431.11,682.00 431.36,680.60 431.62,679.17 431.87,677.71 432.12,676.23 432.38,674.71 432.63,673.15 432.89,671.57 433.14,669.95 433.40,668.30 433.65,666.61 433.90,664.63 434.16,662.53 434.41,660.37 434.67,658.15 434.92,655.88 435.18,653.55 435.43,651.17 435.68,648.72 435.94,646.21 436.19,643.63 436.45,640.97 436.70,638.23 436.95,635.42 437.21,632.53 437.46,629.57 437.72,626.53 437.97,623.42 438.22,620.22 438.48,616.94 438.73,613.58 438.99,610.14 439.24,606.60 439.50,602.97 439.75,599.25 440.00,595.44 440.26,591.52 440.51,587.51 440.77,583.39 441.02,579.17 441.27,574.84 441.53,570.39 441.78,565.84 442.04,561.16 442.29,556.37 442.55,551.45 442.80,546.41 443.05,541.23 443.31,535.92 443.56,530.48 443.82,524.90 444.07,519.17 444.32,513.30 444.58,507.27 444.83,501.09 445.09,494.75 445.34,488.25 445.60,481.58 445.85,474.75 446.10,467.73 446.36,460.53 446.61,453.15 446.87,445.58 447.12,437.82 447.38,429.85 447.63,421.69 447.88,414.10 448.14,406.53 448.39,398.80 448.65,390.88 448.90,382.79 449.15,374.52 449.41,366.06 449.66,357.40 449.92,348.55 450.17,339.50 450.43,330.25 450.68,320.78 450.93,309.77 451.19,298.34 451.44,286.62 451.70,274.60 451.95,262.26 452.20,249.59 452.46,236.60 452.71,223.27 452.97,209.59 453.22,195.56 453.48,181.16 453.73,165.71 453.98,149.21 454.24,132.24 454.49,114.79 454.75,96.84 455.00,78.38"/>
<polyline stroke="#7E2F8E" points="150.00,747.80 150.25,747.80 150.51,747.80 150.76,747.80 151.02,747.80 151.27,747.80 151.53,747.80 151.78,747.80 152.03,747.80 152.29,747.80 152.54,747.80 152.80,747.80 153.05,747.80 153.30,747.80 153.56,747.80 153.81,747.80 154.07,747.80 154.32,747.80 154.57,747.80 154.83,747.80 155.08,747.80 155.34,747.80 155.59,747.80 155.85,747.80 156.10,747.80 156.35,747.80 156.61,747.80 156.86,747.80 157.12,747.80 157.37,747.80 157.62,747.80 157.88,747.80 158.13,747.80 158.39,747.80 158.64,747.80 158.90,747.80 159.15,747.80 159.40,747.80 159.66,747.80 159.91,747.80 160.17,747.80 160.42,747.80 160.68,747.80 160.93,747.80 161.18,747.80 161.44,747.80 161.69,747.80 161.95,747.80 162.20,747.80 162.45,747.80 162.71,747.80 162.96,747.80 163.22,747.80 163.47,747.80 163.72,747.80 163.98,747.80 164.23,747.80 164.49,747.80 164.74,747.80 165.00,747.80 165.25,747.80 165.50,747.80 165.76,747.80 166.01,747.80 166.27,747.80 166.52,747.80 166.78,747.80 167.03,747.80 167.28,747.80 167.54,747.80 167.79,747.80 168.05,747.80 168.30,747.80 168.55,747.80 168.81,747.80 169.06,747.80 169.32,747.80 169.57,747.80 169.82,747.80 170.08,747.80 170.33,747.80 170.59,747.80 170.84,747.80 171.10,747.80 171.35,747.80 171.60,747.80 171.86,747.80 172.11,747.80 172.37,747.80 172.62,747.80 172.88,747.80 173.13,747.80 173.38,747.80 173.64,747.80 173.89,747.80 174.15,747.80 174.40,747.80 174.65,747.80 174.91,747.80 175.16,747.80 175.42,747.80 175.67,747.80 175.93,747.80 176.18,747.80 176.43,747.80 176.69,747.80 176.94,747.80 177.20,747.80 177.45,747.80 177.70,747.80 177.96,747.80 178.21,747.80 178.47,747.80 178.72,747.80 178.97,747.80 179.23,747.80 179.48,747.80 179.74,747.80 179.99,747.80 180.25,747.80 180.50,747.80 180.75,747.80 181.01,747.80 181.26,747.80 181.52,747.80 181.77,747.80 182.03,747.80 182.28,747.80 182.53,747.80 182.79,747.80 183.04,747.80 183.30,747.80 183.55,747.80 183.80,747.80 184.06,747.80 184.31,747.80 184.57,747.80 184.82,747.80 185.07,747.80 185.33,747.80 185.58,747.80 185.84,747.80 186.09,747.80 186.35,747.80 186.60,747.80 186.85,747.80 187.11,747.80 187.36,747.80 187.62,747.80 187.87,747.80 188.12,747.80 188.38,747.80 188.63,747.80 188.89,747.80 189.14,747.80 189.40,747.80 189.65,747.80 189.90,747.80 190.16,747.80 190.41,747.80 190.67,747.80 190.92,747.80 191.18,747.80 191.43,747.80 191.68,747.80 191.94,747.80 192.19,747.80 192.45,747.80 192.70,747.80 192.95,747.80 193.21,747.80 193.46,747.80 193.72,747.80 193.97,747.80 194.22,747.80 194.48,747.80 194.73,747.80 194.99,747.80 195.24,747.80 195.50,747.80 195.75,747.80 196.00,747.80 196.26,747.80 196.51,747.80 196.77,747.80 197.02,747.80 197.28,747.80 197.53,747.80 197.78,747.80 198.04,747.80 198.29,747.80 198.55,747.80 198.80,747.80 199.05,747.80 199.31,747.80 199.56,747.80 199.82,747.80 200.07,747.80 200.32,747.80 200.58,747.80 200.83,747.80 201.09,747.80 201.34,747.80 201.60,747.80 201.85,747.80 202.10,747.80 202.36,747.80 202.61,747.80 202.87,747.80 203.12,747.80 203.38,747.80 203.63,747.80 203.88,747.80 204.14,747.80 204.39,747.80 204.65,747.80 204.90,747.80 205.15,747.80 205.41,747.80 205.66,747.80 205.92,747.80 206.17,747.80 206.43,747.80 206.68,747.80 206.93,747.80 207.19,747.80 207.44,747.80 207.70,747.80 207.95,747.80 208.20,747.80 208.46,747.80 208.71,747.80 208.97,747.80 209.22,747.80 209.47,747.80 209.73,747.80 209.98,747.80 210.24,747.80 210.49,747.80 210.75,747.80 211.00,747.80 211.25,747.80 211.51,747.80 211.76,747.80 212.02,747.80 212.27,747.80 212.53,747.80 212.78,747.80 213.03,747.80 213.29,747.80 213.54,747.80 213.80,747.80 214.05,747.80 214.30,747.80 214.56,747.80 214.81,747.80 215.07,747.80 215.32,747.80 215.57,747.80 215.83,747.80 216.08,747.80 216.34,747.80 216.59,747.80 216.85,747.80 217.10,747.80 217.35,747.80 217.61,747.80 217.86,747.80 218.12,747.80 218.37,747.80 218.62,747.80 218.88,747.80 219.13,747.80 219.39,747.80 219.64,747.80 219.90,747.80 220.15,747.80 220.40,747.80 220.66,747.80 220.91,747.80 221.17,747.80 221.42,747.80 221.68,747.80 221.93,747.80 222.18,747.80 222.44,747.80 222.69,747.80 222.95,747.80 223.20,747.80 223.45,747.80 223.71,747.80 223.96,747.80 224.22,747.80 224.47,747.80 224.72,747.80 224.98,747.80 225.23,747.80 225.49,747.80 225.74,747.80 226.00,747.80 226.25,747.80 226.50,747.80 226.76,747.80 227.01,747.80 227.27,747.80 227.52,747.80 227.78,747.80 228.03,747.80 228.28,747.80 228.54,747.80 228.79,747.80 229.05,747.80 229.30,747.80 229.55,747.80 229.81,747.80 230.06,747.80 230.32,747.80 230.57,747.80 230.82,747.80 231.08,747.80 231.33,747.80 231.59,747.80 231.84,747.80 232.10,747.80 232.35,747.80 232.60,747.80 232.86,747.80 233.11,747.80 233.37,747.80 233.62,747.80 233.88,747.80 234.13,747.80 234.38,747.80 234.64,747.80 234.89,747.80 235.15,747.80 235.40,747.80 235.65,747.80 235.91,747.80 236.16,747.80 236.42,747.80 236.67,747.80 236.93,747.80 237.18,747.80 237.43,747.80 237.69,747.80 237.94,747.80 238.20,747.80 238.45,747.80 238.70,747.80 238.96,747.80 239.21,747.80 239.47,747.80 239.72,747.80 239.97,747.80 240.23,747.80 240.48,747.80 240.74,747.80 240.99,747.80 241.25,747.80 241.50,747.80 241.75,747.80 242.01,747.80 242.26,747.80 242.52,747.80 242.77,747.80 243.02,747.80 243.28,747.80 243.53,747.80 243.79,747.80 244.04,747.80 244.30,747.80 244.55,747.80 244.80,747.80 245.06,747.80 245.31,747.80 245.57,747.80 245.82,747.80 246.07,747.80 246.33,747.80 246.58,747.80 246.84,747.80 247.09,747.80 247.35,747.80 247.60,747.80 247.85,747.80 248.11,747.80 248.36,747.80 248.62,747.80 248.87,747.80 249.12,747.80 249.38,747.80 249.63,747.80 249.89,747.80 250.14,747.80 250.40,747.80 250.65,747.80 250.90,747.80 251.16,747.80 251.41,747.80 251.67,747.80 251.92,747.80 252.18,747.80 252.43,747.80 252.68,747.80 252.94,747.80 253.19,747.80 253.45,747.80 253.70,747.80 253.95,747.80 254.21,747.80 254.46,747.80 254.72,747.80 254.97,747.80 255.22,747.80 255.48,747.80 255.73,747.80 255.99,747.80 256.24,747.80 256.50,747.80 256.75,747.80 257.00,747.80 257.26,747.80 257.51,747.80 257.77,747.80 258.02,747.80 258.27,747.80 258.53,747.80 258.78,747.80 259.04,747.80 259.29,747.80 259.55,747.80 259.80,747.80 260.05,747.80 260.31,747.80 260.56,747.80 260.82,747.80 261.07,747.80 261.32,747.80 261.58,747.80 261.83,747.80 262.09,747.80 262.34,747.80 262.60,747.80 262.85,747.80 263.10,747.80 263.36,747.80 263.61,747.80 263.87,747.80 264.12,747.80 264.38,747.80 264.63,747.80 264.88,747.80 265.14,747.80 265.39,747.80 265.65,747.80 265.90,747.80 266.15,747.80 266.41,747.80 266.66,747.80 266.92,747.80 267.17,747.80 267.43,747.80 267.68,747.80 267.93,747.80 268.19,747.80 268.44,747.80 268.70,747.80 268.95,747.80 269.20,747.80 269.46,747.80 269.71,747.80 269.97,747.80 270.22,747.80 270.48,747.80 270.73,747.80 270.98,747.80 271.24,747.80 271.49,747.80 271.75,747.80 272.00,747.80 272.25,747.80 272.51,747.80 272.76,747.80 273.02,747.80 273.27,747.80 273.52,747.80 273.78,747.80 274.03,747.80 274.29,747.80 274.54,747.80 274.80,747.80 275.05,747.80 275.30,747.80 275.56,747.80 275.81,747.80 276.07,747.80 276.32,747.80 276.57,747.80 276.83,747.80 277.08,747.80 277.34,747.80 277.59,747.80 277.85,747.80 278.10,747.80 278.35,747.80 278.61,747.80 278.86,747.80 279.12,747.80 279.37,747.80 279.62,747.80 279.88,747.80 280.13,747.80 280.39,747.80 280.64,747.80 280.90,747.80 281.15,747.80 281.40,747.80 281.66,747.80 281.91,747.80 282.17,747.80 282.42,747.80 282.68,747.80 282.93,747.80 283.18,747.80 283.44,747.80 283.69,747.80 283.95,747.80 284.20,747.80 284.45,747.80 284.71,747.80 284.96,747.80 285.22,747.80 285.47,747.80 285.73,747.80 285.98,747.80 286.23,747.80 286.49,747.80 286.74,747.80 287.00,747.80 287.25,747.80 287.50,747.80 287.76,747.80 288.01,747.80 288.27,747.80 288.52,747.80 288.77,747.80 289.03,747.80 289.28,747.80 289.54,747.80 289.79,747.80 290.05,747.80 290.30,747.80 290.55,747.80 290.81,747.80 291.06,747.80 291.32,747.80 291.57,747.80 291.83,747.80 292.08,747.80 292.33,747.80 292.59,747.80 292.84,747.80 293.10,747.80 293.35,747.80 293.60,747.80 293.86,747.80 294.11,747.80 294.37,747.80 294.62,747.80 294.88,747.80 295.13,747.80 295.38,747.80 295.64,747.80 295.89,747.80 296.15,747.80 296.40,747.80 296.65,747.80 296.91,747.80 297.16,747.80 297.42,747.80 297.67,747.80 297.92,747.80 298.18,747.80 298.43,747.80 298.69,747.80 298.94,747.80 299.20,747.80 299.45,747.80 299.70,747.80 299.96,747.80 300.21,747.80 300.47,747.80 300.72,747.80 300.98,747.80 301.23,747.80 301.48,747.80 301.74,747.80 301.99,747.80 302.25,747.80 302.50,747.80 302.75,747.80 303.01,747.80 303.26,747.80 303.52,747.80 303.77,747.80 304.02,747.80 304.28,747.80 304.53,747.80 304.79,747.80 305.04,747.80 305.30,747.80 305.55,747.80 305.80,747.80 306.06,747.80 306.31,747.80 306.57,747.80 306.82,747.80 307.08,747.80 307.33,747.80 307.58,747.80 307.84,747.80 308.09,747.80 308.35,747.80 308.60,747.80 308.85,747.80 309.11,747.80 309.36,747.80 309.62,747.80 309.87,747.80 310.12,747.80 310.38,747.80 310.63,747.80 310.89,747.80 311.14,747.80 311.40,747.80 311.65,747.80 311.90,747.80 312.16,747.80 312.41,747.80 312.67,747.80 312.92,747.80 313.18,747.80 313.43,747.80 313.68,747.80 313.94,747.79 314.19,747.79 314.45,747.79 314.70,747.79 314.95,747.79 315.21,747.79 315.46,747.79 315.72,747.79 315.97,747.79 316.23,747.79 316.48,747.79 316.73,747.79 316.99,747.79 317.24,747.79 317.50,747.79 317.75,747.79 318.00,747.79 318.26,747.79 318.51,747.79 318.77,747.79 319.02,747.79 319.27,747.79 319.53,747.79 319.78,747.79 320.04,747.79 320.29,747.79 320.55,747.79 320.80,747.79 321.05,747.79 321.31,747.79 321.56,747.79 321.82,747.79 322.07,747.79 322.32,747.79 322.58,747.79 322.83,747.79 323.09,747.79 323.34,747.79 323.60,747.79 323.85,747.79 324.10,747.79 324.36,747.79 324.61,747.79 324.87,747.79 325.12,747.79 325.38,747.79 325.63,747.79 325.88,747.79 326.14,747.79 326.39,747.79 326.65,747.79 326.90,747.79 327.15,747.79 327.41,747.79 327.66,747.79 327.92,747.79 328.17,747.78 328.42,747.78 328.68,747.78 328.93,747.78 329.19,747.78 329.44,747.78 329.70,747.78 329.95,747.78 330.20,747.78 330.46,747.78 330.71,747.78 330.97,747.78 331.22,747.78 331.48,747.78 331.73,747.78 331.98,747.78 332.24,747.78 332.49,747.78 332.75,747.78 333.00,747.78 333.25,747.78 333.51,747.78 333.76,747.78 334.02,747.78 334.27,747.78 334.52,747.78 334.78,747.77 335.03,747.77 335.29,747.77 335.54,747.77 335.80,747.77 336.05,747.77 336.30,747.77 336.56,747.77 336.81,747.77 337.07,747.77 337.32,747.77 337.57,747.77 337.83,747.77 338.08,747.77 338.34,747.77 338.59,747.77 338.85,747.77 339.10,747.77 339.35,747.76 339.61,747.76 339.86,747.76 340.12,747.76 340.37,747.76 340.62,747.76 340.88,747.76 341.13,747.76 341.39,747.76 341.64,747.76 341.90,747.76 342.15,747.76 342.40,747.75 342.66,747.75 342.91,747.75 343.17,747.75 343.42,747.75 343.68,747.75 343.93,747.75 344.18,747.75 344.44,747.75 344.69,747.75 344.95,747.75 345.20,747.74 345.45,747.74 345.71,747.74 345.96,747.74 346.22,747.74 346.47,747.74 346.73,747.74 346.98,747.74 347.23,747.73 347.49,747.73 347.74,747.73 348.00,747.73 348.25,747.73 348.50,747.73 348.76,747.73 349.01,747.73 349.27,747.72 349.52,747.72 349.77,747.72 350.03,747.72 350.28,747.72 350.54,747.72 350.79,747.71 351.05,747.71 351.30,747.71 351.55,747.71 351.81,747.71 352.06,747.71 352.32,747.70 352.57,747.70 352.83,747.70 353.08,747.70 353.33,747.70 353.59,747.69 353.84,747.69 354.10,747.69 354.35,747.69 354.60,747.68 354.86,747.68 355.11,747.68 355.37,747.68 355.62,747.68 355.88,747.67 356.13,747.67 356.38,747.67 356.64,747.67 356.89,747.66 357.15,747.66 357.40,747.66 357.65,747.65 357.91,747.65 358.16,747.65 358.42,747.65 358.67,747.64 358.93,747.64 359.18,747.64 359.43,747.63 359.69,747.63 359.94,747.63 360.20,747.62 360.45,747.62 360.70,747.62 360.96,747.61 361.21,747.61 361.47,747.60 361.72,747.60 361.98,747.60 362.23,747.59 362.48,747.59 362.74,747.58 362.99,747.58 363.25,747.58 363.50,747.57 363.75,747.57 364.01,747.56 364.26,747.56 364.52,747.55 364.77,747.55 365.02,747.54 365.28,747.54 365.53,747.53 365.79,747.53 366.04,747.52 366.30,747.52 366.55,747.51 366.80,747.51 367.06,747.50 367.31,747.49 367.57,747.49 367.82,747.48 368.07,747.47 368.33,747.47 368.58,747.46 368.84,747.46 369.09,747.45 369.35,747.44 369.60,747.43 369.85,747.43 370.11,747.42 370.36,747.41 370.62,747.40 370.87,747.40 371.12,747.39 371.38,747.38 371.63,747.37 371.89,747.36 372.14,747.36 372.40,747.35 372.65,747.34 372.90,747.33 373.16,747.32 373.41,747.31 373.67,747.30 373.92,747.29 374.17,747.28 374.43,747.27 374.68,747.26 374.94,747.25 375.19,747.24 375.45,747.23 375.70,747.21 375.95,747.20 376.21,747.19 376.46,747.18 376.72,747.17 376.97,747.15 377.23,747.14 377.48,747.13 377.73,747.12 377.99,747.10 378.24,747.09 378.50,747.07 378.75,747.06 379.00,747.04 379.26,747.03 379.51,747.01 379.77,747.00 380.02,746.98 380.27,746.97 380.53,746.95 380.78,746.93 381.04,746.92 381.29,746.90 381.55,746.88 381.80,746.86 382.05,746.84 382.31,746.83 382.56,746.81 382.82,746.79 383.07,746.77 383.33,746.75 383.58,746.73 383.83,746.70 384.09,746.68 384.34,746.66 384.60,746.64 384.85,746.62 385.10,746.59 385.36,746.57 385.61,746.54 385.87,746.52 386.12,746.49 386.38,746.47 386.63,746.44 386.88,746.41 387.14,746.39 387.39,746.36 387.65,746.33 387.90,746.30 388.15,746.27 388.41,746.24 388.66,746.21 388.92,746.18 389.17,746.15 389.43,746.11 389.68,746.08 389.93,746.05 390.19,746.01 390.44,745.98 390.70,745.94 390.95,745.90 391.20,745.87 391.46,745.83 391.71,745.79 391.97,745.75 392.22,745.71 392.48,745.67 392.73,745.63 392.98,745.58 393.24,745.54 393.49,745.49 393.75,745.45 394.00,745.40 394.25,745.35 394.51,745.30 394.76,745.26 395.02,745.21 395.27,745.15 395.52,745.10 395.78,745.05 396.03,744.99 396.29,744.94 396.54,744.88 396.80,744.82 397.05,744.76 397.30,744.70 397.56,744.64 397.81,744.58 398.07,744.52 398.32,744.45 398.57,744.39 398.83,744.32 399.08,744.25 399.34,744.18 399.59,744.11 399.85,744.04 400.10,743.97 400.35,743.90 400.61,743.83 400.86,743.76 401.12,743.69 401.37,743.62 401.62,743.54 401.88,743.47 402.13,743.39 402.39,743.31 402.64,743.23 402.90,743.15 403.15,743.06 403.40,742.98 403.66,742.89 403.91,742.80 404.17,742.72 404.42,742.62 404.67,742.53 404.93,742.44 405.18,742.34 405.44,742.24 405.69,742.14 405.95,742.04 406.20,741.94 406.45,741.83 406.71,741.73 406.96,741.62 407.22,741.51 407.47,741.40 407.72,741.28 407.98,741.16 408.23,741.05 408.49,740.92 408.74,740.80 409.00,740.68 409.25,740.55 409.50,740.42 409.76,740.29 410.01,740.15 410.27,740.00 410.52,739.85 410.77,739.69 411.03,739.53 411.28,739.37 411.54,739.20 411.79,739.03 412.05,738.85 412.30,738.67 412.55,738.49 412.81,738.31 413.06,738.12 413.32,737.93 413.57,737.73 413.82,737.53 414.08,737.33 414.33,737.12 414.59,736.90 414.84,736.69 415.10,736.47 415.35,736.24 415.60,736.01 415.86,735.78 416.11,735.54 416.37,735.29 416.62,735.05 416.88,734.79 417.13,734.53 417.38,734.27 417.64,734.00 417.89,733.73 418.15,733.44 418.40,733.14 418.65,732.84 418.91,732.53 419.16,732.21 419.42,731.89 419.67,731.56 419.93,731.22 420.18,730.87 420.43,730.52 420.69,730.16 420.94,729.80 421.20,729.42 421.45,729.04 421.70,728.65 421.96,728.26 422.21,727.85 422.47,727.44 422.72,727.01 422.98,726.58 423.23,726.14 423.48,725.69 423.74,725.23 423.99,724.77 424.25,724.29 424.50,723.80 424.75,723.28 425.01,722.75 425.26,722.21 425.52,721.66 425.77,721.10 426.03,720.52 426.28,719.93 426.53,719.33 426.79,718.71 427.04,718.09 427.30,717.45 427.55,716.79 427.80,716.12 428.06,715.44 428.31,714.74 428.57,714.03 428.82,713.30 429.07,712.55 429.33,711.79 429.58,711.01 429.84,710.23 430.09,709.45 430.35,708.65 430.60,707.83 430.85,706.99 431.11,706.14 431.36,705.27 431.62,704.38 431.87,703.47 432.12,702.54 432.38,701.59 432.63,700.63 432.89,699.64 433.14,698.63 433.40,697.60 433.65,696.55 433.90,695.40 434.16,694.20 434.41,692.98 434.67,691.72 434.92,690.44 435.18,689.12 435.43,687.78 435.68,686.41 435.94,685.00 436.19,683.56 436.45,682.09 436.70,680.59 436.95,679.03 437.21,677.33 437.46,675.58 437.72,673.79 437.97,671.95 438.22,670.07 438.48,668.15 438.73,666.17 438.99,664.15 439.24,662.08 439.50,659.95 439.75,657.80 440.00,655.60 440.26,653.34 440.51,651.03 440.77,648.67 441.02,646.24 441.27,643.76 441.53,641.25 441.78,638.89 442.04,636.48 442.29,634.02 442.55,631.50 442.80,628.93 443.05,626.29 443.31,623.60 443.56,620.85 443.82,618.04 444.07,615.17 444.32,612.24 444.58,609.24 444.83,606.17 445.09,603.03 445.34,599.83 445.60,596.55 445.85,593.20 446.10,589.78 446.36,586.28 446.61,582.71 446.87,579.05 447.12,575.32 447.38,571.50 447.63,567.60 447.88,563.61 448.14,559.47 448.39,554.81 448.65,550.03 448.90,545.13 449.15,540.11 449.41,534.97 449.66,529.69 449.92,524.29 450.17,518.76 450.43,513.08 450.68,507.27 450.93,501.31 451.19,495.21 451.44,488.95 451.70,482.54 451.95,475.97 452.20,469.24 452.46,462.34 452.71,455.27 452.97,448.02 453.22,440.60 453.48,432.99 453.73,425.19 453.98,417.20 454.24,409.01 454.49,400.62 454.75,392.02 455.00,383.21"/>
<polyline stroke="#77AC30" points="150.00,728.18 150.25,727.96 150.51,727.74 150.76,727.53 151.02,727.33 151.27,727.13 151.53,726.94 151.78,726.76 152.03,726.58 152.29,726.42 152.54,726.26 152.80,726.12 153.05,725.99 153.30,725.86 153.56,725.75 153.81,725.65 154.07,725.56 154.32,725.48 154.57,725.41 154.83,725.35 155.08,725.30 155.34,725.25 155.59,725.22 155.85,725.19 156.10,725.17 156.35,725.15 156.61,725.13 156.86,725.12 157.12,725.11 157.37,725.10 157.62,725.13 157.88,725.15 158.13,725.18 158.39,725.19 158.64,725.21 158.90,725.21 159.15,725.21 159.40,725.21 159.66,725.19 159.91,725.16 160.17,725.13 160.42,725.08 160.68,725.02 160.93,724.95 161.18,724.87 161.44,724.78 161.69,724.67 161.95,724.55 162.20,724.42 162.45,724.28 162.71,724.13 162.96,723.97 163.22,723.79 163.47,723.61 163.72,723.42 163.98,723.22 164.23,723.02 164.49,722.81 164.74,722.59 165.00,722.37 165.25,722.15 165.50,721.93 165.76,721.71 166.01,721.49 166.27,721.27 166.52,721.05 166.78,720.84 167.03,720.63 167.28,720.43 167.54,720.24 167.79,720.06 168.05,719.88 168.30,719.72 168.55,719.56 168.81,719.42 169.06,719.29 169.32,719.17 169.57,719.06 169.82,718.96 170.08,718.87 170.33,718.79 170.59,718.73 170.84,718.67 171.10,718.62 171.35,718.59 171.60,718.56 171.86,718.54 172.11,718.53 172.37,718.52 172.62,718.51 172.88,718.51 173.13,718.52 173.38,718.52 173.64,718.54 173.89,718.56 174.15,718.58 174.40,718.59 174.65,718.60 174.91,718.61 175.16,718.60 175.42,718.58 175.67,718.56 175.93,718.52 176.18,718.47 176.43,718.40 176.69,718.32 176.94,718.22 177.20,718.11 177.45,717.99 177.70,717.85 177.96,717.69 178.21,717.52 178.47,717.34 178.72,717.14 178.97,716.94 179.23,716.72 179.48,716.49 179.74,716.25 179.99,716.01 180.25,715.76 180.50,715.50 180.75,715.25 181.01,714.99 181.26,714.73 181.52,714.48 181.77,714.23 182.03,713.99 182.28,713.75 182.53,713.52 182.79,713.30 183.04,713.09 183.30,712.89 183.55,712.70 183.80,712.53 184.06,712.37 184.31,712.23 184.57,712.10 184.82,711.98 185.07,711.88 185.33,711.79 185.58,711.72 185.84,711.65 186.09,711.60 186.35,711.57 186.60,711.54 186.85,711.52 187.11,711.50 187.36,711.50 187.62,711.49 187.87,711.49 188.12,711.50 188.38,711.48 188.63,711.47 188.89,711.45 189.14,711.42 189.40,711.39 189.65,711.35 189.90,711.30 190.16,711.23 190.41,711.15 190.67,711.06 190.92,710.95 191.18,710.83 191.43,710.68 191.68,710.53 191.94,710.35 192.19,710.16 192.45,709.95 192.70,709.72 192.95,709.48 193.21,709.23 193.46,708.96 193.72,708.68 193.97,708.39 194.22,708.09 194.48,707.78 194.73,707.47 194.99,707.15 195.24,706.84 195.50,706.52 195.75,706.20 196.00,705.89 196.26,705.58 196.51,705.28 196.77,704.99 197.02,704.71 197.28,704.44 197.53,704.18 197.78,703.93 198.04,703.71 198.29,703.49 198.55,703.29 198.80,703.11 199.05,702.94 199.31,702.81 199.56,702.69 199.82,702.59 200.07,702.50 200.32,702.42 200.58,702.36 200.83,702.31 201.09,702.26 201.34,702.22 201.60,702.19 201.85,702.16 202.10,702.13 202.36,702.12 202.61,702.11 202.87,702.10 203.12,702.08 203.38,702.05 203.63,702.00 203.88,701.94 204.14,701.85 204.39,701.75 204.65,701.62 204.90,701.47 205.15,701.30 205.41,701.11 205.66,700.89 205.92,700.65 206.17,700.38 206.43,700.10 206.68,699.80 206.93,699.48 207.19,699.15 207.44,698.81 207.70,698.45 207.95,698.10 208.20,697.74 208.46,697.38 208.71,697.02 208.97,696.67 209.22,696.33 209.47,696.00 209.73,695.69 209.98,695.39 210.24,695.11 210.49,694.86 210.75,694.62 211.00,694.40 211.25,694.21 211.51,694.04 211.76,693.89 212.02,693.76 212.27,693.65 212.53,693.56 212.78,693.48 213.03,693.42 213.29,693.36 213.54,693.32 213.80,693.28 214.05,693.24 214.30,693.19 214.56,693.13 214.81,693.07 215.07,693.00 215.32,692.92 215.57,692.83 215.83,692.73 216.08,692.61 216.34,692.48 216.59,692.32 216.85,692.15 217.10,691.96 217.35,691.75 217.61,691.52 217.86,691.27 218.12,691.01 218.37,690.72 218.62,690.41 218.88,690.09 219.13,689.76 219.39,689.41 219.64,689.05 219.90,688.69 220.15,688.31 220.40,687.93 220.66,687.55 220.91,687.16 221.17,686.78 221.42,686.40 221.68,686.03 221.93,685.67 222.18,685.32 222.44,684.98 222.69,684.65 222.95,684.34 223.20,684.04 223.45,683.76 223.71,683.50 223.96,683.26 224.22,683.03 224.47,682.82 224.72,682.63 224.98,682.46 225.23,682.30 225.49,682.16 225.74,682.03 226.00,681.91 226.25,681.81 226.50,681.70 226.76,681.61 227.01,681.51 227.27,681.42 227.52,681.33 227.78,681.24 228.03,681.14 228.28,681.03 228.54,680.91 228.79,680.77 229.05,680.62 229.30,680.45 229.55,680.26 229.81,680.05 230.06,679.82 230.32,679.57 230.57,679.30 230.82,679.00 231.08,678.69 231.33,678.35 231.59,678.00 231.84,677.62 232.10,677.24 232.35,676.83 232.60,676.42 232.86,676.00 233.11,675.57 233.37,675.13 233.62,674.70 233.88,674.27 234.13,673.83 234.38,673.41 234.64,672.99 234.89,672.59 235.15,672.20 235.40,671.82 235.65,671.46 235.91,671.12 236.16,670.79 236.42,670.49 236.67,670.20 236.93,669.94 237.18,669.69 237.43,669.46 237.69,669.25 237.94,669.05 238.20,668.87 238.45,668.70 238.70,668.54 238.96,668.39 239.21,668.25 239.47,668.11 239.72,667.98 239.97,667.85 240.23,667.72 240.48,667.59 240.74,667.44 240.99,667.27 241.25,667.09 241.50,666.88 241.75,666.66 242.01,666.41 242.26,666.13 242.52,665.82 242.77,665.49 243.02,665.14 243.28,664.76 243.53,664.35 243.79,663.92 244.04,663.47 244.30,663.00 244.55,662.52 244.80,662.03 245.06,661.53 245.31,661.02 245.57,660.51 245.82,660.01 246.07,659.51 246.33,659.02 246.58,658.54 246.84,658.08 247.09,657.63 247.35,657.21 247.60,656.80 247.85,656.42 248.11,656.07 248.36,655.74 248.62,655.43 248.87,655.14 249.12,654.88 249.38,654.64 249.63,654.41 249.89,654.20 250.14,654.01 250.40,653.82 250.65,653.64 250.90,653.46 251.16,653.25 251.41,653.05 251.67,652.83 251.92,652.61 252.18,652.37 252.43,652.13 252.68,651.86 252.94,651.58 253.19,651.28 253.45,650.96 253.70,650.62 253.95,650.26 254.21,649.88 254.46,649.47 254.72,649.04 254.97,648.59 255.22,648.12 255.48,647.63 255.73,647.13 255.99,646.61 256.24,646.07 256.50,645.52 256.75,644.97 257.00,644.41 257.26,643.84 257.51,643.28 257.77,642.72 258.02,642.16 258.27,641.61 258.53,641.07 258.78,640.54 259.04,640.02 259.29,639.52 259.55,639.03 259.80,638.56 260.05,638.11 260.31,637.68 260.56,637.27 260.82,636.88 261.07,636.50 261.32,636.14 261.58,635.79 261.83,635.46 262.09,635.14 262.34,634.84 262.60,634.56 262.85,634.28 263.10,634.00 263.36,633.73 263.61,633.46 263.87,633.18 264.12,632.89 264.38,632.60 264.63,632.30 264.88,631.98 265.14,631.65 265.39,631.30 265.65,630.93 265.90,630.55 266.15,630.14 266.41,629.72 266.66,629.27 266.92,628.81 267.17,628.32 267.43,627.81 267.68,627.29 267.93,626.74 268.19,626.18 268.44,625.61 268.70,625.03 268.95,624.43 269.20,623.83 269.46,623.22 269.71,622.61 269.97,621.99 270.22,621.38 270.48,620.77 270.73,620.17 270.98,619.57 271.24,618.99 271.49,618.41 271.75,617.85 272.00,617.30 272.25,616.77 272.51,616.25 272.76,615.75 273.02,615.27 273.27,614.80 273.52,614.35 273.78,613.91 274.03,613.48 274.29,613.07 274.54,612.67 274.80,612.27 275.05,611.89 275.30,611.52 275.56,611.16 275.81,610.80 276.07,610.45 276.32,610.10 276.57,609.75 276.83,609.39 277.08,609.01 277.34,608.62 277.59,608.21 277.85,607.78 278.10,607.32 278.35,606.85 278.61,606.35 278.86,605.83 279.12,605.28 279.37,604.71 279.62,604.12 279.88,603.51 280.13,602.88 280.39,602.23 280.64,601.57 280.90,600.90 281.15,600.23 281.40,599.54 281.66,598.86 281.91,598.17 282.17,597.49 282.42,596.82 282.68,596.16 282.93,595.51 283.18,594.87 283.44,594.25 283.69,593.65 283.95,593.07 284.20,592.50 284.45,591.95 284.71,591.42 284.96,590.91 285.22,590.41 285.47,589.93 285.73,589.47 285.98,589.01 286.23,588.56 286.49,588.11 286.74,587.67 287.00,587.22 287.25,586.77 287.50,586.31 287.76,585.83 288.01,585.35 288.27,584.84 288.52,584.32 288.77,583.78 289.03,583.22 289.28,582.63 289.54,582.02 289.79,581.38 290.05,580.72 290.30,580.04 290.55,579.33 290.81,578.61 291.06,577.87 291.32,577.11 291.57,576.35 291.83,575.57 292.08,574.79 292.33,574.01 292.59,573.22 292.84,572.44 293.10,571.67 293.35,570.91 293.60,570.16 293.86,569.43 294.11,568.71 294.37,568.01 294.62,567.32 294.88,566.66 295.13,566.01 295.38,565.38 295.64,564.76 295.89,564.16 296.15,563.57 296.40,562.99 296.65,562.42 296.91,561.85 297.16,561.29 297.42,560.72 297.67,560.14 297.92,559.55 298.18,558.96 298.43,558.36 298.69,557.74 298.94,557.11 299.20,556.47 299.45,555.81 299.70,555.12 299.96,554.43 300.21,553.71 300.47,552.97 300.72,552.21 300.98,551.44 301.23,550.65 301.48,549.85 301.74,549.03 301.99,548.20 302.25,547.36 302.50,546.51 302.75,545.65 303.01,544.79 303.26,543.93 303.52,543.08 303.77,542.22 304.02,541.37 304.28,540.53 304.53,539.69 304.79,538.87 305.04,538.06 305.30,537.25 305.55,536.46 305.80,535.68 306.06,534.91 306.31,534.15 306.57,533.41 306.82,532.67 307.08,531.94 307.33,531.21 307.58,530.49 307.84,529.77 308.09,529.06 308.35,528.34 308.60,527.62 308.85,526.90 309.11,526.17 309.36,525.43 309.62,524.68 309.87,523.92 310.12,523.15 310.38,522.37 310.63,521.57 310.89,520.75 311.14,519.92 311.40,519.08 311.65,518.22 311.90,517.35 312.16,516.46 312.41,515.56 312.67,514.65 312.92,513.72 313.18,512.79 313.43,511.85 313.68,510.90 313.94,509.95 314.19,508.99 314.45,508.03 314.70,507.07 314.95,506.11 315.21,505.16 315.46,504.20 315.72,503.25 315.97,502.31 316.23,501.37 316.48,500.44 316.73,499.51 316.99,498.59 317.24,497.68 317.50,496.77 317.75,495.87 318.00,494.97 318.26,494.08 318.51,493.18 318.77,492.29 319.02,491.40 319.27,490.51 319.53,489.62 319.78,488.72 320.04,487.82 320.29,486.91 320.55,486.00 320.80,485.08 321.05,484.15 321.31,483.21 321.56,482.26 321.82,481.30 322.07,480.33 322.32,479.34 322.58,478.35 322.83,477.35 323.09,476.33 323.34,475.31 323.60,474.27 323.85,473.23 324.10,472.18 324.36,471.12 324.61,470.05 324.87,468.98 325.12,467.91 325.38,466.83 325.63,465.75 325.88,464.67 326.14,463.58 326.39,462.50 326.65,461.41 326.90,460.33 327.15,459.24 327.41,458.16 327.66,457.08 327.92,455.99 328.17,454.92 328.42,453.84 328.68,452.76 328.93,451.68 329.19,450.60 329.44,449.52 329.70,448.44 329.95,447.36 330.20,446.27 330.46,445.18 330.71,444.09 330.97,442.99 331.22,441.88 331.48,440.77 331.73,439.66 331.98,438.53 332.24,437.40 332.49,436.27 332.75,435.12 333.00,433.97 333.25,432.81 333.51,431.65 333.76,430.47 334.02,429.29 334.27,428.11 334.52,426.92 334.78,425.72 335.03,424.51 335.29,423.31 335.54,422.09 335.80,420.87 336.05,419.65 336.30,418.43 336.56,417.20 336.81,415.97 337.07,414.73 337.32,413.50 337.57,412.25 337.83,411.01 338.08,409.77 338.34,408.52 338.59,407.26 338.85,406.01 339.10,404.75 339.35,403.48 339.61,402.20 339.86,400.92 340.12,399.64 340.37,398.35 340.62,397.05 340.88,395.76 341.13,394.45 341.39,393.14 341.64,391.83 341.90,390.51 342.15,389.19 342.40,387.86 342.66,386.53 342.91,385.19 343.17,383.85 343.42,382.50 343.68,381.15 343.93,379.79 344.18,378.43 344.44,377.06 344.69,375.69 344.95,374.31 345.20,372.93 345.45,371.54 345.71,370.15 345.96,368.75 346.22,367.35 346.47,365.94 346.73,364.53 346.98,363.11 347.23,361.68 347.49,360.25 347.74,358.82 348.00,357.38 348.25,355.93 348.50,354.48 348.76,353.02 349.01,351.56 349.27,350.10 349.52,348.62 349.77,347.15 350.03,345.66 350.28,344.17 350.54,342.68 350.79,341.18 351.05,339.67 351.30,338.16 351.55,336.65 351.81,335.12 352.06,333.60 352.32,332.06 352.57,330.52 352.83,328.98 353.08,327.43 353.33,325.87 353.59,324.31 353.84,322.74 354.10,321.17 354.35,319.61 354.60,318.14 354.86,316.65 355.11,315.16 355.37,313.67 355.62,312.17 355.88,310.66 356.13,309.15 356.38,307.64 356.64,306.12 356.89,304.59 357.15,303.06 357.40,301.53 357.65,299.99 357.91,298.44 358.16,296.89 358.42,295.33 358.67,293.77 358.93,292.20 359.18,290.62 359.43,289.05 359.69,287.46 359.94,285.87 360.20,284.28 360.45,282.68 360.70,281.07 360.96,279.46 361.21,277.84 361.47,276.22 361.72,274.59 361.98,272.95 362.23,271.31 362.48,269.67 362.74,268.02 362.99,266.36 363.25,264.70 363.50,263.03 363.75,261.35 364.01,259.67 364.26,257.99 364.52,256.30 364.77,254.60 365.02,252.89 365.28,251.18 365.53,249.47 365.79,247.75 366.04,246.02 366.30,244.29 366.55,242.55 366.80,240.80 367.06,239.05 367.31,237.30 367.57,235.53 367.82,233.76 368.07,231.99 368.33,230.21 368.58,228.42 368.84,226.63 369.09,224.83 369.35,223.02 369.60,221.21 369.85,219.39 370.11,217.56 370.36,215.73 370.62,213.89 370.87,212.05 371.12,210.19 371.38,208.33 371.63,206.47 371.89,204.59 372.14,202.71 372.40,200.83 372.65,198.93 372.90,197.03 373.16,195.13 373.41,193.22 373.67,191.30 373.92,189.37 374.17,187.44 374.43,185.50 374.68,183.55 374.94,181.60 375.19,179.64 375.45,177.68 375.70,175.70 375.95,173.72 376.21,171.74 376.46,169.74 376.72,167.74 376.97,165.74 377.23,163.72 377.48,161.70 377.73,159.67 377.99,157.64 378.24,155.59 378.50,153.54 378.75,151.49 379.00,149.42 379.26,147.35 379.51,145.28 379.77,143.19 380.02,141.10 380.27,139.00 380.53,136.89 380.78,134.78 381.04,132.66 381.29,130.53 381.55,128.39 381.80,126.25 382.05,124.10 382.31,125.85 382.56,128.57 382.82,131.27 383.07,133.97 383.33,136.65 383.58,139.32 383.83,141.98 384.09,144.63 384.34,147.26 384.60,149.89 384.85,152.50 385.10,155.10 385.36,157.69 385.61,160.27 385.87,162.84 386.12,165.40 386.38,167.94 386.63,170.47 386.88,173.00 387.14,175.51 387.39,178.01 387.65,180.50 387.90,182.98 388.15,185.45 388.41,187.91 388.66,190.35 388.92,192.79 389.17,195.21 389.43,197.63 389.68,200.03 389.93,202.43 390.19,204.81 390.44,207.18 390.70,209.55 390.95,211.90 391.20,214.24 391.46,216.57 391.71,218.89 391.97,221.20 392.22,223.50 392.48,225.79 392.73,228.07 392.98,230.34 393.24,232.60 393.49,234.85 393.75,237.09 394.00,239.32 394.25,241.54 394.51,243.76 394.76,245.96 395.02,248.15 395.27,250.33 395.52,252.50 395.78,254.67 396.03,256.82 396.29,258.97 396.54,261.10 396.80,263.23 397.05,265.34 397.30,267.45 397.56,269.55 397.81,271.64 398.07,273.72 398.32,275.79 398.57,277.85 398.83,279.90 399.08,281.95 399.34,283.98 399.59,286.01 399.85,288.03 400.10,290.03 400.35,292.03 400.61,294.02 400.86,296.01 401.12,297.98 401.37,299.94 401.62,301.90 401.88,303.85 402.13,305.79 402.39,307.72 402.64,309.64 402.90,311.55 403.15,313.46 403.40,315.36 403.66,317.25 403.91,319.13 404.17,321.00 404.42,322.86 404.67,324.72 404.93,326.57 405.18,328.40 405.44,330.23 405.69,332.06 405.95,333.87 406.20,335.68 406.45,337.48 406.71,339.27 406.96,341.05 407.22,342.83 407.47,344.59 407.72,346.35 407.98,348.11 408.23,349.85 408.49,351.59 408.74,353.32 409.00,355.04 409.25,356.75 409.50,358.46 409.76,360.16 410.01,361.85 410.27,363.54 410.52,365.21 410.77,366.88 411.03,368.55 411.28,370.20 411.54,371.85 411.79,373.49 412.05,375.12 412.30,376.75 412.55,378.37 412.81,379.98 413.06,381.59 413.32,383.19 413.57,384.78 413.82,386.36 414.08,387.94 414.33,389.51 414.59,391.08 414.84,392.63 415.10,394.18 415.35,395.73 415.60,397.26 415.86,398.79 416.11,400.32 416.37,401.83 416.62,403.34 416.88,404.85 417.13,406.34 417.38,407.83 417.64,409.32 417.89,410.80 418.15,412.27 418.40,413.73 418.65,415.19 418.91,416.64 419.16,418.09 419.42,419.53 419.67,420.96 419.93,422.38 420.18,423.81 420.43,425.22 420.69,426.63 420.94,428.03 421.20,429.42 421.45,430.81 421.70,432.19 421.96,433.57 422.21,434.94 422.47,436.30 422.72,437.66 422.98,439.02 423.23,440.36 423.48,441.70 423.74,443.04 423.99,444.37 424.25,445.69 424.50,447.01 424.75,448.32 425.01,449.63 425.26,450.93 425.52,452.22 425.77,453.51 426.03,454.80 426.28,456.07 426.53,457.35 426.79,458.61 427.04,459.87 427.30,461.13 427.55,462.38 427.80,463.63 428.06,464.86 428.31,466.10 428.57,467.33 428.82,468.55 429.07,469.77 429.33,470.98 429.58,472.19 429.84,473.39 430.09,474.59 430.35,475.78 430.60,476.97 430.85,478.15 431.11,479.32 431.36,480.49 431.62,481.66 431.87,482.82 432.12,483.98 432.38,485.13 432.63,486.27 432.89,487.41 433.14,488.55 433.40,489.68 433.65,490.81 433.90,491.93 434.16,493.04 434.41,494.15 434.67,495.26 434.92,496.36 435.18,497.46 435.43,498.55 435.68,499.64 435.94,500.72 436.19,501.80 436.45,502.87 436.70,503.94 436.95,505.00 437.21,506.06 437.46,507.11 437.72,508.16 437.97,509.20 438.22,510.24 438.48,511.28 438.73,512.31 438.99,513.33 439.24,514.35 439.50,515.37 439.75,516.38 440.00,517.39 440.26,518.39 440.51,519.39 440.77,520.39 441.02,521.38 441.27,522.36 441.53,523.35 441.78,524.32 442.04,525.30 442.29,526.27 442.55,527.23 442.80,528.19 443.05,529.15 443.31,530.10 443.56,531.05 443.82,531.99 444.07,532.93 444.32,533.87 444.58,534.80 444.83,535.73 445.09,536.65 445.34,537.57 445.60,538.49 445.85,539.40 446.10,540.31 446.36,541.21 446.61,542.11 446.87,543.00 447.12,543.90 447.38,544.78 447.63,545.67 447.88,546.55 448.14,547.43 448.39,548.30 448.65,549.17 448.90,550.03 449.15,550.89 449.41,551.75 449.66,552.60 449.92,553.45 450.17,554.30 450.43,555.14 450.68,555.98 450.93,556.82 451.19,557.65 451.44,558.48 451.70,559.30 451.95,560.12 452.20,560.94 452.46,561.75 452.71,562.56 452.97,563.37 453.22,564.17 453.48,564.97 453.73,565.77 453.98,566.56 454.24,567.35 454.49,568.14 454.75,568.92 455.00,569.70"/>
</g></g>
<g stroke-width="1" fill="none">
<path stroke="#000" d="M150.5 63.0V749.0"/>
<path stroke="#262626" d="M150.5 748.5H455.5 M150.5 63.5H455.5"/>
<path stroke="#262626" d="M150.5 748.5V741.65 M150.5 63.5V70.35 M302.5 748.5V741.65 M302.5 63.5V70.35 M455.5 748.5V741.65 M455.5 63.5V70.35 "/>
<path stroke="#000" d="M150.5 748.5H157.35 M150.5 662.5H157.35 M150.5 576.5H157.35 M150.5 491.5H157.35 M150.5 405.5H157.35 M150.5 319.5H157.35 M150.5 234.5H157.35 M150.5 148.5H157.35 M150.5 63.5H157.35 "/>
<path stroke="#77AC30" d="M455.5 748.5H448.65 M455.5 650.5H448.65 M455.5 552.5H448.65 M455.5 454.5H448.65 M455.5 356.5H448.65 M455.5 258.5H448.65 M455.5 160.5H448.65 M455.5 63.5H448.65 "/>
<path stroke="#77AC30" d="M455.5 63.0V749.0"/>
</g>
<g filter="url(#ga)">
<g font-size="20" fill="#000" stroke="#000" stroke-width="0.3" text-anchor="end">
<text x="141.3" y="756.0">0</text>
<text x="141.3" y="670.4">1000</text>
<text x="141.3" y="584.8">2000</text>
<text x="141.3" y="499.1">3000</text>
<text x="141.3" y="413.5">4000</text>
<text x="141.3" y="327.9">5000</text>
<text x="141.3" y="242.2">6000</text>
<text x="141.3" y="156.6">7000</text>
<text x="141.3" y="71.0">8000</text>
</g>
<g font-size="20" fill="#77AC30" stroke="#77AC30" stroke-width="0.3" text-anchor="start">
<text x="462.7" y="756.0">0</text>
<text x="462.7" y="658.1">500</text>
<text x="462.7" y="560.3">1000</text>
<text x="462.7" y="462.4">1500</text>
<text x="462.7" y="364.6">2000</text>
<text x="462.7" y="266.7">2500</text>
<text x="462.7" y="168.9">3000</text>
<text x="462.7" y="71.0">3500</text>
</g>
<g font-size="20" fill="#262626" stroke="#262626" stroke-width="0.3" text-anchor="middle">
<text x="149.5" y="775.9">0</text>
<text x="642.5" y="775.9">0</text>
<text x="302.8" y="775.9">50</text>
<text x="795.8" y="775.9">50</text>
<text x="455.1" y="775.9">100</text>
<text x="948.1" y="775.9">100</text>
</g>
<g font-size="22" fill="#262626" stroke="#262626" stroke-width="0.3" text-anchor="middle">
<text x="303.0" y="803.4">t</text>
<text x="796.0" y="803.4">t</text>
</g>
<g transform="translate(76.30,405.50) rotate(-90)">
<g transform="translate(-63.21,0.00) scale(0.860,1.000)" fill="none" stroke="#000" stroke-linecap="round" stroke-linejoin="round"><path d="M3.3,-8.9C1.6,-7.6 0.7,-4.6 0.8,-2.6C0.9,-0.9 2.0,-0.4 3.2,-0.45C5.4,-0.55 7.2,-3.0 7.8,-5.9C7.3,-4.2 7.2,-2.0 8.0,-0.9C8.6,-0.3 9.6,-0.4 10.4,-0.9C12.2,-2.0 13.7,-4.6 14.0,-7.0C14.15,-8.2 13.8,-9.0 13.2,-9.4" stroke-width="1.15"/><circle cx="13.25" cy="-8.9" r="0.55" stroke-width="1.1"/></g>
<text xml:space="preserve" x="-50.26" y="0.00" font-size="22" fill="#000" stroke="#000" stroke-width="0.3">,  e,  ell,  m</text>
<text xml:space="preserve" x="58.32" y="10.52" font-size="17.6" fill="#000" stroke="#000" stroke-width="0.3">f</text>
</g>
<text font-size="22" fill="#77AC30" stroke="#77AC30" stroke-width="0.3" text-anchor="middle" transform="translate(534.6,406) rotate(-90)">Y</text>
<g>
<g transform="translate(78.80,44.90) scale(1.000,1.000)" fill="none" stroke="#000" stroke-linecap="round" stroke-linejoin="round"><path d="M3.3,-8.9C1.6,-7.6 0.7,-4.6 0.8,-2.6C0.9,-0.9 2.0,-0.4 3.2,-0.45C5.4,-0.55 7.2,-3.0 7.8,-5.9C7.3,-4.2 7.2,-2.0 8.0,-0.9C8.6,-0.3 9.6,-0.4 10.4,-0.9C12.2,-2.0 13.7,-4.6 14.0,-7.0C14.15,-8.2 13.8,-9.0 13.2,-9.4" stroke-width="1.50"/><circle cx="13.25" cy="-8.9" r="0.55" stroke-width="1.1"/></g>
<text xml:space="preserve" x="93.70" y="56.45" font-size="17.6" fill="#000" font-weight="bold" stroke="#000" stroke-width="0.45">0</text>
<text xml:space="preserve" x="104.49" y="44.90" font-size="22" fill="#000" font-weight="bold" stroke="#000" stroke-width="0.45"> = 0.6, e</text>
<text xml:space="preserve" x="185.60" y="56.45" font-size="17.6" fill="#000" font-weight="bold" stroke="#000" stroke-width="0.45">0</text>
<text xml:space="preserve" x="196.39" y="44.90" font-size="22" fill="#000" font-weight="bold" stroke="#000" stroke-width="0.45"> = 0.9, l</text>
<text xml:space="preserve" x="271.38" y="56.45" font-size="17.6" fill="#000" font-weight="bold" stroke="#000" stroke-width="0.45">0</text>
<text xml:space="preserve" x="282.17" y="44.90" font-size="22" fill="#000" font-weight="bold" stroke="#000" stroke-width="0.45"> = 6, m</text>
<text xml:space="preserve" x="352.27" y="56.45" font-size="17.6" fill="#000" font-weight="bold" stroke="#000" stroke-width="0.45">f0</text>
<text xml:space="preserve" x="368.91" y="44.90" font-size="22" fill="#000" font-weight="bold" stroke="#000" stroke-width="0.45"> = 5.6, Y</text>
<text xml:space="preserve" x="452.07" y="56.45" font-size="17.6" fill="#000" font-weight="bold" stroke="#000" stroke-width="0.45">0</text>
<text xml:space="preserve" x="462.86" y="44.90" font-size="22" fill="#000" font-weight="bold" stroke="#000" stroke-width="0.45"> = 100</text>
</g>
</g>
<rect x="332.5" y="83.5" width="103" height="130" fill="#fff" stroke="#262626" stroke-width="1" shape-rendering="crispEdges"/>
<path d="M340.5 98.4H400.5" stroke="#0072BD" stroke-width="1" fill="none"/>
<path d="M340.5 121.5H400.5" stroke="#D95319" stroke-width="1" fill="none"/>
<path d="M340.5 144.6H400.5" stroke="#EDB120" stroke-width="1" fill="none"/>
<path d="M340.5 171.5H400.5" stroke="#7E2F8E" stroke-width="1" fill="none"/>
<path d="M340.5 198.5H400.5" stroke="#77AC30" stroke-width="1" fill="none"/>
<g filter="url(#ga)">
<g>
<g transform="translate(405.90,104.90) scale(0.750,0.800)" fill="none" stroke="#000" stroke-linecap="round" stroke-linejoin="round"><path d="M3.3,-8.9C1.6,-7.6 0.7,-4.6 0.8,-2.6C0.9,-0.9 2.0,-0.4 3.2,-0.45C5.4,-0.55 7.2,-3.0 7.8,-5.9C7.3,-4.2 7.2,-2.0 8.0,-0.9C8.6,-0.3 9.6,-0.4 10.4,-0.9C12.2,-2.0 13.7,-4.6 14.0,-7.0C14.15,-8.2 13.8,-9.0 13.2,-9.4" stroke-width="1.45"/><circle cx="13.25" cy="-8.9" r="0.55" stroke-width="1.1"/></g>
</g>
<g>
<text xml:space="preserve" x="406.10" y="127.80" font-size="18" fill="#000" stroke="#000" stroke-width="0.3">e</text>
</g>
<g>
<text xml:space="preserve" x="406.10" y="150.90" font-size="18" fill="#000" stroke="#000" stroke-width="0.3">ell</text>
</g>
<g>
<text xml:space="preserve" x="406.10" y="173.80" font-size="18" fill="#000" stroke="#000" stroke-width="0.3">m</text>
<text xml:space="preserve" x="421.91" y="183.07" font-size="14.4" fill="#000" stroke="#000" stroke-width="0.3">f</text>
</g>
<g>
<text xml:space="preserve" x="406.10" y="204.60" font-size="18" fill="#000" stroke="#000" stroke-width="0.3">Y</text>
</g>
</g>
<g clip-path="url(#c2)"><g fill="none" stroke-width="1.15" stroke-linejoin="round">
<polyline stroke="#0072BD" points="643.00,473.80 643.25,473.80 643.51,473.80 643.76,473.80 644.02,473.80 644.27,473.80 644.52,473.80 644.78,473.80 645.03,473.80 645.29,473.80 645.54,473.80 645.80,473.80 646.05,473.80 646.30,473.80 646.56,473.80 646.81,473.80 647.07,473.80 647.32,473.80 647.58,473.80 647.83,473.80 648.08,473.80 648.34,473.80 648.59,473.80 648.85,473.80 649.10,473.80 649.35,473.80 649.61,473.80 649.86,473.80 650.12,473.80 650.37,473.80 650.62,473.80 650.88,473.80 651.13,473.80 651.39,473.80 651.64,473.80 651.90,473.80 652.15,473.80 652.40,473.80 652.66,473.80 652.91,473.80 653.17,473.80 653.42,473.80 653.67,473.80 653.93,473.80 654.18,473.80 654.44,473.80 654.69,473.80 654.95,473.80 655.20,473.80 655.45,473.80 655.71,473.80 655.96,473.80 656.22,473.80 656.47,473.80 656.73,473.80 656.98,473.80 657.23,473.80 657.49,473.80 657.74,473.80 658.00,473.80 658.25,473.80 658.50,473.80 658.76,473.80 659.01,473.80 659.27,473.80 659.52,473.80 659.77,473.80 660.03,473.80 660.28,473.80 660.54,473.80 660.79,473.80 661.05,473.80 661.30,473.80 661.55,473.80 661.81,473.80 662.06,473.80 662.32,473.80 662.57,473.80 662.83,473.80 663.08,473.80 663.33,473.80 663.59,473.80 663.84,473.80 664.10,473.80 664.35,473.80 664.60,473.80 664.86,473.80 665.11,473.80 665.37,473.80 665.62,473.80 665.88,473.80 666.13,473.80 666.38,473.80 666.64,473.80 666.89,473.80 667.15,473.80 667.40,473.80 667.65,473.80 667.91,473.80 668.16,473.80 668.42,473.80 668.67,473.80 668.92,473.80 669.18,473.80 669.43,473.80 669.69,473.80 669.94,473.80 670.20,473.80 670.45,473.80 670.70,473.80 670.96,473.80 671.21,473.80 671.47,473.80 671.72,473.80 671.98,473.80 672.23,473.80 672.48,473.80 672.74,473.80 672.99,473.80 673.25,473.80 673.50,473.80 673.75,473.80 674.01,473.80 674.26,473.80 674.52,473.80 674.77,473.80 675.02,473.80 675.28,473.80 675.53,473.80 675.79,473.80 676.04,473.80 676.30,473.80 676.55,473.80 676.80,473.80 677.06,473.80 677.31,473.80 677.57,473.80 677.82,473.80 678.08,473.80 678.33,473.80 678.58,473.80 678.84,473.80 679.09,473.80 679.35,473.80 679.60,473.80 679.85,473.80 680.11,473.80 680.36,473.80 680.62,473.80 680.87,473.80 681.12,473.80 681.38,473.80 681.63,473.80 681.89,473.80 682.14,473.80 682.40,473.80 682.65,473.80 682.90,473.80 683.16,473.80 683.41,473.80 683.67,473.80 683.92,473.80 684.17,473.80 684.43,473.80 684.68,473.80 684.94,473.80 685.19,473.80 685.45,473.80 685.70,473.80 685.95,473.80 686.21,473.80 686.46,473.80 686.72,473.80 686.97,473.80 687.23,473.80 687.48,473.80 687.73,473.80 687.99,473.80 688.24,473.80 688.50,473.80 688.75,473.80 689.00,473.80 689.26,473.80 689.51,473.80 689.77,473.80 690.02,473.80 690.27,473.80 690.53,473.80 690.78,473.80 691.04,473.80 691.29,473.80 691.55,473.80 691.80,473.80 692.05,473.80 692.31,473.80 692.56,473.80 692.82,473.80 693.07,473.80 693.33,473.80 693.58,473.80 693.83,473.80 694.09,473.80 694.34,473.80 694.60,473.80 694.85,473.80 695.10,473.80 695.36,473.80 695.61,473.80 695.87,473.80 696.12,473.80 696.38,473.80 696.63,473.80 696.88,473.80 697.14,473.80 697.39,473.80 697.65,473.80 697.90,473.80 698.15,473.80 698.41,473.80 698.66,473.80 698.92,473.80 699.17,473.80 699.42,473.80 699.68,473.80 699.93,473.80 700.19,473.80 700.44,473.80 700.70,473.80 700.95,473.80 701.20,473.80 701.46,473.80 701.71,473.80 701.97,473.80 702.22,473.80 702.48,473.80 702.73,473.80 702.98,473.80 703.24,473.80 703.49,473.80 703.75,473.80 704.00,473.80 704.25,473.80 704.51,473.80 704.76,473.80 705.02,473.80 705.27,473.80 705.52,473.80 705.78,473.80 706.03,473.80 706.29,473.80 706.54,473.80 706.80,473.80 707.05,473.80 707.30,473.80 707.56,473.80 707.81,473.80 708.07,473.80 708.32,473.80 708.58,473.80 708.83,473.80 709.08,473.80 709.34,473.80 709.59,473.80 709.85,473.80 710.10,473.80 710.35,473.80 710.61,473.80 710.86,473.80 711.12,473.80 711.37,473.80 711.62,473.80 711.88,473.80 712.13,473.80 712.39,473.80 712.64,473.80 712.90,473.80 713.15,473.80 713.40,473.80 713.66,473.80 713.91,473.80 714.17,473.80 714.42,473.80 714.67,473.80 714.93,473.80 715.18,473.80 715.44,473.80 715.69,473.80 715.95,473.80 716.20,473.80 716.45,473.80 716.71,473.80 716.96,473.80 717.22,473.80 717.47,473.80 717.73,473.80 717.98,473.80 718.23,473.80 718.49,473.80 718.74,473.80 719.00,473.80 719.25,473.80 719.50,473.80 719.76,473.80 720.01,473.80 720.27,473.80 720.52,473.80 720.77,473.80 721.03,473.80 721.28,473.80 721.54,473.80 721.79,473.80 722.05,473.80 722.30,473.80 722.55,473.80 722.81,473.80 723.06,473.80 723.32,473.80 723.57,473.80 723.83,473.80 724.08,473.80 724.33,473.80 724.59,473.80 724.84,473.80 725.10,473.80 725.35,473.80 725.60,473.80 725.86,473.80 726.11,473.80 726.37,473.80 726.62,473.80 726.88,473.80 727.13,473.80 727.38,473.80 727.64,473.80 727.89,473.80 728.15,473.80 728.40,473.80 728.65,473.80 728.91,473.80 729.16,473.80 729.42,473.80 729.67,473.80 729.92,473.80 730.18,473.80 730.43,473.80 730.69,473.80 730.94,473.80 731.20,473.80 731.45,473.80 731.70,473.80 731.96,473.80 732.21,473.80 732.47,473.80 732.72,473.80 732.98,473.80 733.23,473.80 733.48,473.80 733.74,473.80 733.99,473.80 734.25,473.80 734.50,473.80 734.75,473.80 735.01,473.80 735.26,473.80 735.52,473.80 735.77,473.80 736.02,473.80 736.28,473.80 736.53,473.80 736.79,473.80 737.04,473.80 737.30,473.80 737.55,473.80 737.80,473.80 738.06,473.80 738.31,473.80 738.57,473.80 738.82,473.80 739.08,473.80 739.33,473.80 739.58,473.80 739.84,473.80 740.09,473.80 740.35,473.80 740.60,473.80 740.85,473.80 741.11,473.80 741.36,473.80 741.62,473.80 741.87,473.80 742.12,473.80 742.38,473.80 742.63,473.80 742.89,473.80 743.14,473.80 743.40,473.80 743.65,473.80 743.90,473.80 744.16,473.80 744.41,473.80 744.67,473.80 744.92,473.80 745.17,473.80 745.43,473.80 745.68,473.80 745.94,473.80 746.19,473.80 746.45,473.80 746.70,473.80 746.95,473.80 747.21,473.80 747.46,473.80 747.72,473.80 747.97,473.80 748.23,473.80 748.48,473.80 748.73,473.80 748.99,473.80 749.24,473.80 749.50,473.80 749.75,473.80 750.00,473.80 750.26,473.80 750.51,473.80 750.77,473.80 751.02,473.80 751.27,473.80 751.53,473.80 751.78,473.80 752.04,473.80 752.29,473.80 752.55,473.80 752.80,473.80 753.05,473.80 753.31,473.80 753.56,473.80 753.82,473.80 754.07,473.80 754.33,473.80 754.58,473.80 754.83,473.80 755.09,473.80 755.34,473.80 755.60,473.80 755.85,473.80 756.10,473.80 756.36,473.80 756.61,473.80 756.87,473.80 757.12,473.80 757.38,473.80 757.63,473.80 757.88,473.80 758.14,473.80 758.39,473.80 758.65,473.80 758.90,473.80 759.15,473.80 759.41,473.80 759.66,473.80 759.92,473.80 760.17,473.80 760.42,473.80 760.68,473.80 760.93,473.80 761.19,473.80 761.44,473.80 761.70,473.80 761.95,473.80 762.20,473.80 762.46,473.80 762.71,473.80 762.97,473.80 763.22,473.80 763.48,473.80 763.73,473.80 763.98,473.80 764.24,473.80 764.49,473.80 764.75,473.80 765.00,473.80 765.25,473.80 765.51,473.80 765.76,473.80 766.02,473.80 766.27,473.80 766.52,473.80 766.78,473.80 767.03,473.80 767.29,473.80 767.54,473.80 767.80,473.80 768.05,473.80 768.30,473.80 768.56,473.80 768.81,473.80 769.07,473.80 769.32,473.80 769.58,473.80 769.83,473.80 770.08,473.80 770.34,473.80 770.59,473.80 770.85,473.80 771.10,473.80 771.35,473.80 771.61,473.80 771.86,473.80 772.12,473.80 772.37,473.80 772.62,473.80 772.88,473.80 773.13,473.80 773.39,473.80 773.64,473.80 773.90,473.80 774.15,473.80 774.40,473.80 774.66,473.80 774.91,473.80 775.17,473.80 775.42,473.80 775.67,473.80 775.93,473.80 776.18,473.80 776.44,473.80 776.69,473.80 776.95,473.80 777.20,473.80 777.45,473.80 777.71,473.80 777.96,473.80 778.22,473.80 778.47,473.80 778.73,473.80 778.98,473.80 779.23,473.80 779.49,473.80 779.74,473.80 780.00,473.80 780.25,473.80 780.50,473.80 780.76,473.80 781.01,473.80 781.27,473.80 781.52,473.80 781.77,473.80 782.03,473.80 782.28,473.80 782.54,473.80 782.79,473.80 783.05,473.80 783.30,473.80 783.55,473.80 783.81,473.80 784.06,473.80 784.32,473.80 784.57,473.80 784.83,473.80 785.08,473.80 785.33,473.80 785.59,473.80 785.84,473.80 786.10,473.80 786.35,473.80 786.60,473.80 786.86,473.80 787.11,473.80 787.37,473.80 787.62,473.80 787.88,473.80 788.13,473.80 788.38,473.80 788.64,473.80 788.89,473.80 789.15,473.80 789.40,473.80 789.65,473.80 789.91,473.80 790.16,473.80 790.42,473.80 790.67,473.80 790.92,473.80 791.18,473.80 791.43,473.80 791.69,473.80 791.94,473.80 792.20,473.80 792.45,473.80 792.70,473.80 792.96,473.80 793.21,473.80 793.47,473.80 793.72,473.80 793.98,473.80 794.23,473.80 794.48,473.80 794.74,473.80 794.99,473.80 795.25,473.80 795.50,473.80 795.75,473.80 796.01,473.80 796.26,473.80 796.52,473.80 796.77,473.80 797.02,473.80 797.28,473.80 797.53,473.80 797.79,473.80 798.04,473.80 798.30,473.80 798.55,473.80 798.80,473.80 799.06,473.80 799.31,473.80 799.57,473.80 799.82,473.80 800.08,473.80 800.33,473.80 800.58,473.80 800.84,473.80 801.09,473.80 801.35,473.80 801.60,473.80 801.85,473.80 802.11,473.80 802.36,473.80 802.62,473.80 802.87,473.80 803.12,473.80 803.38,473.80 803.63,473.80 803.89,473.80 804.14,473.80 804.40,473.80 804.65,473.80 804.90,473.80 805.16,473.80 805.41,473.80 805.67,473.80 805.92,473.80 806.17,473.80 806.43,473.80 806.68,473.80 806.94,473.80 807.19,473.80 807.45,473.80 807.70,473.80 807.95,473.80 808.21,473.80 808.46,473.80 808.72,473.80 808.97,473.80 809.23,473.80 809.48,473.80 809.73,473.80 809.99,473.80 810.24,473.80 810.50,473.80 810.75,473.80 811.00,473.80 811.26,473.80 811.51,473.80 811.77,473.80 812.02,473.80 812.27,473.80 812.53,473.80 812.78,473.80 813.04,473.80 813.29,473.80 813.55,473.80 813.80,473.80 814.05,473.80 814.31,473.80 814.56,473.80 814.82,473.80 815.07,473.80 815.33,473.80 815.58,473.80 815.83,473.80 816.09,473.80 816.34,473.80 816.60,473.80 816.85,473.80 817.10,473.80 817.36,473.80 817.61,473.80 817.87,473.80 818.12,473.80 818.38,473.80 818.63,473.80 818.88,473.80 819.14,473.80 819.39,473.80 819.65,473.80 819.90,473.80 820.15,473.80 820.41,473.80 820.66,473.80 820.92,473.80 821.17,473.80 821.42,473.80 821.68,473.80 821.93,473.80 822.19,473.80 822.44,473.80 822.70,473.80 822.95,473.80 823.20,473.80 823.46,473.80 823.71,473.80 823.97,473.80 824.22,473.80 824.48,473.80 824.73,473.80 824.98,473.80 825.24,473.80 825.49,473.80 825.75,473.80 826.00,473.80 826.25,473.80 826.51,473.80 826.76,473.80 827.02,473.80 827.27,473.80 827.52,473.80 827.78,473.80 828.03,473.80 828.29,473.80 828.54,473.80 828.80,473.80 829.05,473.80 829.30,473.80 829.56,473.80 829.81,473.80 830.07,473.80 830.32,473.80 830.58,473.80 830.83,473.80 831.08,473.80 831.34,473.80 831.59,473.80 831.85,473.80 832.10,473.80 832.35,473.80 832.61,473.80 832.86,473.80 833.12,473.80 833.37,473.80 833.62,473.80 833.88,473.80 834.13,473.80 834.39,473.80 834.64,473.80 834.90,473.80 835.15,473.80 835.40,473.80 835.66,473.80 835.91,473.80 836.17,473.80 836.42,473.80 836.67,473.80 836.93,473.80 837.18,473.80 837.44,473.80 837.69,473.80 837.95,473.80 838.20,473.80 838.45,473.80 838.71,473.80 838.96,473.80 839.22,473.80 839.47,473.80 839.73,473.80 839.98,473.80 840.23,473.80 840.49,473.80 840.74,473.80 841.00,473.80 841.25,473.80 841.50,473.80 841.76,473.80 842.01,473.80 842.27,473.80 842.52,473.80 842.77,473.80 843.03,473.80 843.28,473.80 843.54,473.80 843.79,473.80 844.05,473.80 844.30,473.80 844.55,473.80 844.81,473.80 845.06,473.80 845.32,473.80 845.57,473.80 845.83,473.80 846.08,473.80 846.33,473.80 846.59,473.80 846.84,473.80 847.10,473.80 847.35,473.80 847.60,473.80 847.86,473.80 848.11,473.80 848.37,473.80 848.62,473.80 848.88,473.79 849.13,473.79 849.38,473.79 849.64,473.79 849.89,473.79 850.15,473.79 850.40,473.79 850.65,473.79 850.91,473.79 851.16,473.79 851.42,473.79 851.67,473.79 851.92,473.79 852.18,473.79 852.43,473.79 852.69,473.79 852.94,473.79 853.20,473.79 853.45,473.79 853.70,473.79 853.96,473.79 854.21,473.79 854.47,473.79 854.72,473.79 854.98,473.79 855.23,473.79 855.48,473.79 855.74,473.79 855.99,473.79 856.25,473.79 856.50,473.79 856.75,473.79 857.01,473.79 857.26,473.79 857.52,473.79 857.77,473.79 858.02,473.79 858.28,473.79 858.53,473.79 858.79,473.79 859.04,473.79 859.30,473.79 859.55,473.79 859.80,473.79 860.06,473.78 860.31,473.78 860.57,473.78 860.82,473.78 861.08,473.78 861.33,473.78 861.58,473.78 861.84,473.78 862.09,473.78 862.35,473.78 862.60,473.78 862.85,473.78 863.11,473.78 863.36,473.78 863.62,473.78 863.87,473.78 864.12,473.78 864.38,473.78 864.63,473.78 864.89,473.78 865.14,473.78 865.40,473.77 865.65,473.77 865.90,473.77 866.16,473.77 866.41,473.77 866.67,473.77 866.92,473.77 867.17,473.77 867.43,473.77 867.68,473.77 867.94,473.77 868.19,473.77 868.45,473.77 868.70,473.76 868.95,473.76 869.21,473.76 869.46,473.76 869.72,473.76 869.97,473.76 870.23,473.76 870.48,473.76 870.73,473.76 870.99,473.76 871.24,473.75 871.50,473.75 871.75,473.75 872.00,473.75 872.26,473.75 872.51,473.75 872.77,473.75 873.02,473.75 873.27,473.74 873.53,473.74 873.78,473.74 874.04,473.74 874.29,473.74 874.55,473.74 874.80,473.74 875.05,473.73 875.31,473.73 875.56,473.73 875.82,473.73 876.07,473.73 876.33,473.73 876.58,473.72 876.83,473.72 877.09,473.72 877.34,473.72 877.60,473.72 877.85,473.71 878.10,473.71 878.36,473.71 878.61,473.71 878.87,473.70 879.12,473.70 879.38,473.70 879.63,473.70 879.88,473.69 880.14,473.69 880.39,473.69 880.65,473.69 880.90,473.68 881.15,473.68 881.41,473.68 881.66,473.67 881.92,473.67 882.17,473.67 882.42,473.66 882.68,473.66 882.93,473.66 883.19,473.65 883.44,473.65 883.70,473.65 883.95,473.64 884.20,473.64 884.46,473.63 884.71,473.63 884.97,473.63 885.22,473.62 885.48,473.62 885.73,473.61 885.98,473.61 886.24,473.60 886.49,473.60 886.75,473.59 887.00,473.59 887.25,473.58 887.51,473.58 887.76,473.57 888.02,473.56 888.27,473.56 888.52,473.55 888.78,473.55 889.03,473.54 889.29,473.53 889.54,473.53 889.80,473.52 890.05,473.51 890.30,473.50 890.56,473.50 890.81,473.49 891.07,473.48 891.32,473.47 891.58,473.46 891.83,473.46 892.08,473.45 892.34,473.44 892.59,473.43 892.85,473.42 893.10,473.41 893.35,473.40 893.61,473.39 893.86,473.38 894.12,473.37 894.37,473.36 894.62,473.35 894.88,473.34 895.13,473.32 895.39,473.31 895.64,473.30 895.90,473.29 896.15,473.27 896.40,473.26 896.66,473.25 896.91,473.23 897.17,473.22 897.42,473.20 897.67,473.19 897.93,473.17 898.18,473.16 898.44,473.14 898.69,473.13 898.95,473.11 899.20,473.09 899.45,473.07 899.71,473.05 899.96,473.04 900.22,473.02 900.47,473.00 900.72,472.98 900.98,472.95 901.23,472.93 901.49,472.91 901.74,472.89 902.00,472.87 902.25,472.84 902.50,472.82 902.76,472.79 903.01,472.77 903.27,472.74 903.52,472.71 903.77,472.69 904.03,472.66 904.28,472.63 904.54,472.60 904.79,472.57 905.05,472.54 905.30,472.51 905.55,472.47 905.81,472.44 906.06,472.41 906.32,472.37 906.57,472.33 906.83,472.30 907.08,472.26 907.33,472.22 907.59,472.18 907.84,472.14 908.10,472.10 908.35,472.05 908.60,472.01 908.86,471.96 909.11,471.92 909.37,471.87 909.62,471.82 909.88,471.77 910.13,471.72 910.38,471.67 910.64,471.61 910.89,471.56 911.15,471.50 911.40,471.44 911.65,471.38 911.91,471.32 912.16,471.26 912.42,471.19 912.67,471.12 912.92,471.04 913.18,470.97 913.43,470.89 913.69,470.80 913.94,470.72 914.20,470.63 914.45,470.54 914.70,470.45 914.96,470.35 915.21,470.25 915.47,470.15 915.72,470.05 915.98,469.94 916.23,469.83 916.48,469.72 916.74,469.61 916.99,469.49 917.25,469.36 917.50,469.24 917.75,469.11 918.01,468.98 918.26,468.84 918.52,468.70 918.77,468.55 919.03,468.40 919.28,468.25 919.53,468.09 919.79,467.93 920.04,467.77 920.30,467.59 920.55,467.42 920.80,467.24 921.06,467.05 921.31,466.86 921.57,466.66 921.82,466.46 922.08,466.26 922.33,466.05 922.58,465.85 922.84,465.63 923.09,465.41 923.35,465.18 923.60,464.95 923.85,464.71 924.11,464.47 924.36,464.21 924.62,463.95 924.87,463.69 925.12,463.41 925.38,463.13 925.63,462.85 925.89,462.55 926.14,462.25 926.40,461.93 926.65,461.61 926.90,461.28 927.16,460.94 927.41,460.60 927.67,460.24 927.92,459.87 928.17,459.50 928.43,459.11 928.68,458.71 928.94,458.31 929.19,457.89 929.45,457.46 929.70,457.02 929.95,456.58 930.21,456.13 930.46,455.66 930.72,455.18 930.97,454.69 931.22,454.18 931.48,453.67 931.73,453.13 931.99,452.59 932.24,452.03 932.50,451.45 932.75,450.86 933.00,450.26 933.26,449.63 933.51,449.00 933.77,448.34 934.02,447.67 934.27,446.98 934.53,446.25 934.78,445.49 935.04,444.72 935.29,443.92 935.55,443.11 935.80,442.27 936.05,441.41 936.31,440.52 936.56,439.61 936.82,438.68 937.07,437.72 937.33,436.73 937.58,435.72 937.83,434.67 938.09,433.60 938.34,432.55 938.60,431.47 938.85,430.36 939.10,429.22 939.36,428.06 939.61,426.86 939.87,425.63 940.12,424.37 940.38,423.07 940.63,421.74 940.88,420.38 941.14,418.80 941.39,417.06 941.65,415.26 941.90,413.41 942.15,411.50 942.41,409.52 942.66,407.49 942.92,405.38 943.17,403.31 943.42,401.55 943.68,399.76 943.93,397.91 944.19,396.02 944.44,394.09 944.70,392.10 944.95,390.07 945.20,387.98 945.46,385.84 945.71,383.65 945.97,381.40 946.22,379.08 946.48,376.71 946.73,374.28 946.98,371.79 947.24,369.24 947.49,366.62 947.75,363.94 948.00,361.19"/>
<polyline stroke="#D95319" stroke-dasharray="20 12" points="643.00,473.80 643.25,473.80 643.51,473.80 643.76,473.80 644.02,473.80 644.27,473.80 644.52,473.80 644.78,473.80 645.03,473.80 645.29,473.80 645.54,473.80 645.80,473.80 646.05,473.80 646.30,473.80 646.56,473.80 646.81,473.80 647.07,473.80 647.32,473.80 647.58,473.80 647.83,473.80 648.08,473.80 648.34,473.80 648.59,473.80 648.85,473.80 649.10,473.80 649.35,473.80 649.61,473.80 649.86,473.80 650.12,473.80 650.37,473.80 650.62,473.80 650.88,473.80 651.13,473.80 651.39,473.80 651.64,473.80 651.90,473.80 652.15,473.80 652.40,473.80 652.66,473.80 652.91,473.80 653.17,473.80 653.42,473.80 653.67,473.80 653.93,473.80 654.18,473.80 654.44,473.80 654.69,473.80 654.95,473.80 655.20,473.80 655.45,473.80 655.71,473.80 655.96,473.80 656.22,473.80 656.47,473.80 656.73,473.80 656.98,473.80 657.23,473.80 657.49,473.80 657.74,473.80 658.00,473.80 658.25,473.80 658.50,473.80 658.76,473.80 659.01,473.80 659.27,473.80 659.52,473.80 659.77,473.80 660.03,473.80 660.28,473.80 660.54,473.80 660.79,473.80 661.05,473.80 661.30,473.80 661.55,473.80 661.81,473.80 662.06,473.80 662.32,473.80 662.57,473.80 662.83,473.80 663.08,473.80 663.33,473.80 663.59,473.80 663.84,473.80 664.10,473.80 664.35,473.80 664.60,473.80 664.86,473.80 665.11,473.80 665.37,473.80 665.62,473.80 665.88,473.80 666.13,473.80 666.38,473.80 666.64,473.80 666.89,473.80 667.15,473.80 667.40,473.80 667.65,473.80 667.91,473.80 668.16,473.80 668.42,473.80 668.67,473.80 668.92,473.80 669.18,473.80 669.43,473.80 669.69,473.80 669.94,473.80 670.20,473.80 670.45,473.80 670.70,473.80 670.96,473.80 671.21,473.80 671.47,473.80 671.72,473.80 671.98,473.80 672.23,473.80 672.48,473.80 672.74,473.80 672.99,473.80 673.25,473.80 673.50,473.80 673.75,473.80 674.01,473.80 674.26,473.80 674.52,473.80 674.77,473.80 675.02,473.80 675.28,473.80 675.53,473.80 675.79,473.80 676.04,473.80 676.30,473.80 676.55,473.80 676.80,473.80 677.06,473.80 677.31,473.80 677.57,473.80 677.82,473.80 678.08,473.80 678.33,473.80 678.58,473.80 678.84,473.80 679.09,473.80 679.35,473.80 679.60,473.80 679.85,473.80 680.11,473.80 680.36,473.80 680.62,473.80 680.87,473.80 681.12,473.80 681.38,473.80 681.63,473.80 681.89,473.80 682.14,473.80 682.40,473.80 682.65,473.80 682.90,473.80 683.16,473.80 683.41,473.80 683.67,473.80 683.92,473.80 684.17,473.80 684.43,473.80 684.68,473.80 684.94,473.80 685.19,473.80 685.45,473.80 685.70,473.80 685.95,473.80 686.21,473.80 686.46,473.80 686.72,473.80 686.97,473.80 687.23,473.80 687.48,473.80 687.73,473.80 687.99,473.80 688.24,473.80 688.50,473.80 688.75,473.80 689.00,473.80 689.26,473.80 689.51,473.80 689.77,473.80 690.02,473.80 690.27,473.80 690.53,473.80 690.78,473.80 691.04,473.80 691.29,473.80 691.55,473.80 691.80,473.80 692.05,473.80 692.31,473.80 692.56,473.80 692.82,473.80 693.07,473.80 693.33,473.80 693.58,473.80 693.83,473.80 694.09,473.80 694.34,473.80 694.60,473.80 694.85,473.80 695.10,473.80 695.36,473.80 695.61,473.80 695.87,473.80 696.12,473.80 696.38,473.80 696.63,473.80 696.88,473.80 697.14,473.80 697.39,473.80 697.65,473.80 697.90,473.80 698.15,473.80 698.41,473.80 698.66,473.80 698.92,473.80 699.17,473.80 699.42,473.80 699.68,473.80 699.93,473.80 700.19,473.80 700.44,473.80 700.70,473.80 700.95,473.80 701.20,473.80 701.46,473.80 701.71,473.80 701.97,473.80 702.22,473.80 702.48,473.80 702.73,473.80 702.98,473.80 703.24,473.80 703.49,473.80 703.75,473.80 704.00,473.80 704.25,473.80 704.51,473.80 704.76,473.80 705.02,473.80 705.27,473.80 705.52,473.80 705.78,473.80 706.03,473.80 706.29,473.80 706.54,473.80 706.80,473.80 707.05,473.80 707.30,473.80 707.56,473.80 707.81,473.80 708.07,473.80 708.32,473.80 708.58,473.80 708.83,473.80 709.08,473.80 709.34,473.80 709.59,473.80 709.85,473.80 710.10,473.80 710.35,473.80 710.61,473.80 710.86,473.80 711.12,473.80 711.37,473.80 711.62,473.80 711.88,473.80 712.13,473.80 712.39,473.80 712.64,473.80 712.90,473.80 713.15,473.80 713.40,473.80 713.66,473.80 713.91,473.80 714.17,473.80 714.42,473.80 714.67,473.80 714.93,473.80 715.18,473.80 715.44,473.80 715.69,473.80 715.95,473.80 716.20,473.80 716.45,473.80 716.71,473.80 716.96,473.80 717.22,473.80 717.47,473.80 717.73,473.80 717.98,473.80 718.23,473.80 718.49,473.80 718.74,473.80 719.00,473.80 719.25,473.80 719.50,473.80 719.76,473.80 720.01,473.80 720.27,473.80 720.52,473.80 720.77,473.80 721.03,473.80 721.28,473.80 721.54,473.80 721.79,473.80 722.05,473.80 722.30,473.80 722.55,473.80 722.81,473.80 723.06,473.80 723.32,473.80 723.57,473.80 723.83,473.80 724.08,473.80 724.33,473.80 724.59,473.80 724.84,473.80 725.10,473.80 725.35,473.80 725.60,473.80 725.86,473.80 726.11,473.80 726.37,473.80 726.62,473.80 726.88,473.80 727.13,473.80 727.38,473.80 727.64,473.80 727.89,473.80 728.15,473.80 728.40,473.80 728.65,473.80 728.91,473.80 729.16,473.80 729.42,473.80 729.67,473.80 729.92,473.80 730.18,473.80 730.43,473.80 730.69,473.80 730.94,473.80 731.20,473.80 731.45,473.80 731.70,473.80 731.96,473.80 732.21,473.80 732.47,473.80 732.72,473.80 732.98,473.80 733.23,473.80 733.48,473.80 733.74,473.80 733.99,473.80 734.25,473.80 734.50,473.80 734.75,473.80 735.01,473.80 735.26,473.80 735.52,473.80 735.77,473.80 736.02,473.80 736.28,473.80 736.53,473.80 736.79,473.80 737.04,473.80 737.30,473.80 737.55,473.80 737.80,473.80 738.06,473.80 738.31,473.80 738.57,473.80 738.82,473.80 739.08,473.80 739.33,473.80 739.58,473.80 739.84,473.80 740.09,473.80 740.35,473.80 740.60,473.80 740.85,473.80 741.11,473.80 741.36,473.80 741.62,473.80 741.87,473.80 742.12,473.80 742.38,473.80 742.63,473.80 742.89,473.80 743.14,473.80 743.40,473.80 743.65,473.80 743.90,473.80 744.16,473.80 744.41,473.80 744.67,473.80 744.92,473.80 745.17,473.80 745.43,473.80 745.68,473.80 745.94,473.80 746.19,473.80 746.45,473.80 746.70,473.80 746.95,473.80 747.21,473.80 747.46,473.80 747.72,473.80 747.97,473.80 748.23,473.80 748.48,473.80 748.73,473.80 748.99,473.80 749.24,473.80 749.50,473.80 749.75,473.80 750.00,473.80 750.26,473.80 750.51,473.80 750.77,473.80 751.02,473.80 751.27,473.80 751.53,473.80 751.78,473.80 752.04,473.80 752.29,473.80 752.55,473.80 752.80,473.80 753.05,473.80 753.31,473.80 753.56,473.80 753.82,473.80 754.07,473.80 754.33,473.80 754.58,473.80 754.83,473.80 755.09,473.80 755.34,473.80 755.60,473.80 755.85,473.80 756.10,473.80 756.36,473.80 756.61,473.80 756.87,473.80 757.12,473.80 757.38,473.80 757.63,473.80 757.88,473.80 758.14,473.80 758.39,473.80 758.65,473.80 758.90,473.80 759.15,473.80 759.41,473.80 759.66,473.80 759.92,473.80 760.17,473.80 760.42,473.80 760.68,473.80 760.93,473.80 761.19,473.80 761.44,473.80 761.70,473.80 761.95,473.80 762.20,473.80 762.46,473.80 762.71,473.80 762.97,473.80 763.22,473.80 763.48,473.80 763.73,473.80 763.98,473.80 764.24,473.80 764.49,473.80 764.75,473.80 765.00,473.80 765.25,473.80 765.51,473.80 765.76,473.80 766.02,473.80 766.27,473.80 766.52,473.80 766.78,473.80 767.03,473.80 767.29,473.80 767.54,473.80 767.80,473.80 768.05,473.80 768.30,473.80 768.56,473.80 768.81,473.80 769.07,473.80 769.32,473.80 769.58,473.80 769.83,473.80 770.08,473.80 770.34,473.80 770.59,473.80 770.85,473.80 771.10,473.80 771.35,473.80 771.61,473.80 771.86,473.80 772.12,473.80 772.37,473.80 772.62,473.80 772.88,473.80 773.13,473.80 773.39,473.80 773.64,473.80 773.90,473.80 774.15,473.80 774.40,473.80 774.66,473.80 774.91,473.80 775.17,473.80 775.42,473.80 775.67,473.80 775.93,473.80 776.18,473.80 776.44,473.80 776.69,473.80 776.95,473.80 777.20,473.80 777.45,473.80 777.71,473.80 777.96,473.80 778.22,473.80 778.47,473.80 778.73,473.80 778.98,473.80 779.23,473.80 779.49,473.80 779.74,473.80 780.00,473.80 780.25,473.80 780.50,473.80 780.76,473.80 781.01,473.80 781.27,473.80 781.52,473.80 781.77,473.80 782.03,473.80 782.28,473.80 782.54,473.80 782.79,473.80 783.05,473.80 783.30,473.80 783.55,473.80 783.81,473.80 784.06,473.80 784.32,473.80 784.57,473.80 784.83,473.80 785.08,473.80 785.33,473.80 785.59,473.80 785.84,473.80 786.10,473.80 786.35,473.80 786.60,473.80 786.86,473.80 787.11,473.80 787.37,473.80 787.62,473.80 787.88,473.80 788.13,473.80 788.38,473.80 788.64,473.80 788.89,473.80 789.15,473.80 789.40,473.80 789.65,473.80 789.91,473.80 790.16,473.80 790.42,473.80 790.67,473.80 790.92,473.80 791.18,473.80 791.43,473.80 791.69,473.80 791.94,473.80 792.20,473.80 792.45,473.80 792.70,473.80 792.96,473.80 793.21,473.80 793.47,473.80 793.72,473.80 793.98,473.80 794.23,473.80 794.48,473.80 794.74,473.80 794.99,473.80 795.25,473.80 795.50,473.80 795.75,473.80 796.01,473.80 796.26,473.80 796.52,473.80 796.77,473.80 797.02,473.80 797.28,473.80 797.53,473.80 797.79,473.80 798.04,473.80 798.30,473.80 798.55,473.80 798.80,473.80 799.06,473.80 799.31,473.80 799.57,473.80 799.82,473.80 800.08,473.80 800.33,473.80 800.58,473.80 800.84,473.80 801.09,473.80 801.35,473.80 801.60,473.80 801.85,473.80 802.11,473.80 802.36,473.80 802.62,473.80 802.87,473.80 803.12,473.80 803.38,473.80 803.63,473.80 803.89,473.80 804.14,473.80 804.40,473.80 804.65,473.80 804.90,473.80 805.16,473.80 805.41,473.80 805.67,473.80 805.92,473.80 806.17,473.80 806.43,473.80 806.68,473.80 806.94,473.80 807.19,473.80 807.45,473.80 807.70,473.80 807.95,473.80 808.21,473.80 808.46,473.80 808.72,473.80 808.97,473.80 809.23,473.80 809.48,473.80 809.73,473.80 809.99,473.80 810.24,473.80 810.50,473.80 810.75,473.80 811.00,473.80 811.26,473.80 811.51,473.80 811.77,473.80 812.02,473.80 812.27,473.80 812.53,473.80 812.78,473.80 813.04,473.80 813.29,473.80 813.55,473.80 813.80,473.80 814.05,473.80 814.31,473.80 814.56,473.80 814.82,473.80 815.07,473.80 815.33,473.80 815.58,473.80 815.83,473.80 816.09,473.80 816.34,473.80 816.60,473.80 816.85,473.80 817.10,473.80 817.36,473.80 817.61,473.80 817.87,473.80 818.12,473.80 818.38,473.80 818.63,473.80 818.88,473.80 819.14,473.80 819.39,473.80 819.65,473.80 819.90,473.80 820.15,473.80 820.41,473.80 820.66,473.80 820.92,473.80 821.17,473.80 821.42,473.80 821.68,473.80 821.93,473.80 822.19,473.80 822.44,473.80 822.70,473.80 822.95,473.80 823.20,473.80 823.46,473.80 823.71,473.80 823.97,473.80 824.22,473.80 824.48,473.80 824.73,473.80 824.98,473.80 825.24,473.80 825.49,473.80 825.75,473.80 826.00,473.80 826.25,473.80 826.51,473.80 826.76,473.80 827.02,473.80 827.27,473.80 827.52,473.80 827.78,473.80 828.03,473.80 828.29,473.80 828.54,473.80 828.80,473.80 829.05,473.80 829.30,473.80 829.56,473.80 829.81,473.80 830.07,473.80 830.32,473.80 830.58,473.80 830.83,473.80 831.08,473.80 831.34,473.80 831.59,473.80 831.85,473.80 832.10,473.80 832.35,473.80 832.61,473.80 832.86,473.80 833.12,473.80 833.37,473.80 833.62,473.80 833.88,473.80 834.13,473.80 834.39,473.80 834.64,473.80 834.90,473.80 835.15,473.80 835.40,473.79 835.66,473.79 835.91,473.79 836.17,473.79 836.42,473.79 836.67,473.79 836.93,473.79 837.18,473.79 837.44,473.79 837.69,473.79 837.95,473.79 838.20,473.79 838.45,473.79 838.71,473.79 838.96,473.79 839.22,473.79 839.47,473.79 839.73,473.79 839.98,473.79 840.23,473.79 840.49,473.79 840.74,473.79 841.00,473.79 841.25,473.79 841.50,473.79 841.76,473.79 842.01,473.79 842.27,473.79 842.52,473.79 842.77,473.79 843.03,473.79 843.28,473.79 843.54,473.79 843.79,473.79 844.05,473.79 844.30,473.79 844.55,473.79 844.81,473.79 845.06,473.79 845.32,473.79 845.57,473.79 845.83,473.79 846.08,473.79 846.33,473.78 846.59,473.78 846.84,473.78 847.10,473.78 847.35,473.78 847.60,473.78 847.86,473.78 848.11,473.78 848.37,473.78 848.62,473.78 848.88,473.78 849.13,473.78 849.38,473.78 849.64,473.78 849.89,473.78 850.15,473.78 850.40,473.78 850.65,473.78 850.91,473.78 851.16,473.78 851.42,473.78 851.67,473.77 851.92,473.77 852.18,473.77 852.43,473.77 852.69,473.77 852.94,473.77 853.20,473.77 853.45,473.77 853.70,473.77 853.96,473.77 854.21,473.77 854.47,473.77 854.72,473.77 854.98,473.76 855.23,473.76 855.48,473.76 855.74,473.76 855.99,473.76 856.25,473.76 856.50,473.76 856.75,473.76 857.01,473.76 857.26,473.76 857.52,473.75 857.77,473.75 858.02,473.75 858.28,473.75 858.53,473.75 858.79,473.75 859.04,473.75 859.30,473.75 859.55,473.74 859.80,473.74 860.06,473.74 860.31,473.74 860.57,473.74 860.82,473.74 861.08,473.74 861.33,473.73 861.58,473.73 861.84,473.73 862.09,473.73 862.35,473.73 862.60,473.73 862.85,473.72 863.11,473.72 863.36,473.72 863.62,473.72 863.87,473.72 864.12,473.71 864.38,473.71 864.63,473.71 864.89,473.71 865.14,473.70 865.40,473.70 865.65,473.70 865.90,473.70 866.16,473.69 866.41,473.69 866.67,473.69 866.92,473.69 867.17,473.68 867.43,473.68 867.68,473.68 867.94,473.67 868.19,473.67 868.45,473.67 868.70,473.66 868.95,473.66 869.21,473.66 869.46,473.65 869.72,473.65 869.97,473.65 870.23,473.64 870.48,473.64 870.73,473.63 870.99,473.63 871.24,473.63 871.50,473.62 871.75,473.62 872.00,473.61 872.26,473.61 872.51,473.60 872.77,473.60 873.02,473.59 873.27,473.59 873.53,473.58 873.78,473.58 874.04,473.57 874.29,473.57 874.55,473.56 874.80,473.55 875.05,473.55 875.31,473.54 875.56,473.53 875.82,473.53 876.07,473.52 876.33,473.51 876.58,473.51 876.83,473.50 877.09,473.49 877.34,473.48 877.60,473.48 877.85,473.47 878.10,473.46 878.36,473.45 878.61,473.44 878.87,473.43 879.12,473.42 879.38,473.41 879.63,473.40 879.88,473.39 880.14,473.38 880.39,473.37 880.65,473.36 880.90,473.34 881.15,473.33 881.41,473.32 881.66,473.30 881.92,473.29 882.17,473.27 882.42,473.26 882.68,473.24 882.93,473.23 883.19,473.21 883.44,473.19 883.70,473.17 883.95,473.15 884.20,473.14 884.46,473.12 884.71,473.10 884.97,473.08 885.22,473.05 885.48,473.03 885.73,473.01 885.98,472.99 886.24,472.96 886.49,472.94 886.75,472.91 887.00,472.89 887.25,472.86 887.51,472.83 887.76,472.80 888.02,472.77 888.27,472.74 888.52,472.71 888.78,472.68 889.03,472.65 889.29,472.62 889.54,472.58 889.80,472.55 890.05,472.52 890.30,472.49 890.56,472.45 890.81,472.42 891.07,472.39 891.32,472.35 891.58,472.31 891.83,472.28 892.08,472.24 892.34,472.20 892.59,472.16 892.85,472.12 893.10,472.07 893.35,472.03 893.61,471.98 893.86,471.94 894.12,471.89 894.37,471.84 894.62,471.79 894.88,471.74 895.13,471.69 895.39,471.64 895.64,471.58 895.90,471.53 896.15,471.47 896.40,471.41 896.66,471.35 896.91,471.29 897.17,471.23 897.42,471.16 897.67,471.09 897.93,471.03 898.18,470.96 898.44,470.88 898.69,470.81 898.95,470.73 899.20,470.66 899.45,470.60 899.71,470.53 899.96,470.46 900.22,470.38 900.47,470.31 900.72,470.23 900.98,470.16 901.23,470.08 901.49,470.00 901.74,469.91 902.00,469.83 902.25,469.74 902.50,469.66 902.76,469.57 903.01,469.48 903.27,469.38 903.52,469.29 903.77,469.19 904.03,469.09 904.28,468.99 904.54,468.88 904.79,468.78 905.05,468.67 905.30,468.56 905.55,468.44 905.81,468.33 906.06,468.21 906.32,468.09 906.57,467.96 906.83,467.84 907.08,467.71 907.33,467.58 907.59,467.44 907.84,467.30 908.10,467.16 908.35,467.02 908.60,466.87 908.86,466.72 909.11,466.57 909.37,466.41 909.62,466.25 909.88,466.09 910.13,465.92 910.38,465.75 910.64,465.58 910.89,465.40 911.15,465.22 911.40,465.03 911.65,464.85 911.91,464.65 912.16,464.45 912.42,464.25 912.67,464.05 912.92,463.83 913.18,463.62 913.43,463.40 913.69,463.17 913.94,462.94 914.20,462.71 914.45,462.47 914.70,462.23 914.96,461.98 915.21,461.72 915.47,461.40 915.72,461.07 915.98,460.73 916.23,460.38 916.48,460.02 916.74,459.66 916.99,459.28 917.25,458.89 917.50,458.49 917.75,458.08 918.01,457.66 918.26,457.23 918.52,456.78 918.77,456.33 919.03,455.86 919.28,455.38 919.53,454.89 919.79,454.38 920.04,453.91 920.30,453.50 920.55,453.08 920.80,452.65 921.06,452.22 921.31,451.77 921.57,451.32 921.82,450.85 922.08,450.38 922.33,449.90 922.58,449.30 922.84,448.67 923.09,448.02 923.35,447.36 923.60,446.68 923.85,445.98 924.11,445.26 924.36,444.52 924.62,443.77 924.87,442.99 925.12,442.20 925.38,441.38 925.63,440.55 925.89,439.75 926.14,438.99 926.40,438.20 926.65,437.40 926.90,436.57 927.16,435.73 927.41,434.87 927.67,433.99 927.92,433.09 928.17,432.18 928.43,431.24 928.68,430.18 928.94,428.96 929.19,427.72 929.45,426.44 929.70,425.12 929.95,423.77 930.21,422.38 930.46,420.95 930.72,419.48 930.97,417.97 931.22,416.38 931.48,414.72 931.73,413.01 931.99,411.25 932.24,409.44 932.50,407.57 932.75,405.66 933.00,403.86 933.26,402.31 933.51,400.72 933.77,399.09 934.02,397.42 934.27,395.72 934.53,393.99 934.78,392.21 935.04,390.39 935.29,388.53 935.55,386.64 935.80,384.70 936.05,381.80 936.31,378.81 936.56,375.72 936.82,372.53 937.07,369.24 937.33,366.21 937.58,363.48 937.83,360.69 938.09,357.83 938.34,354.90 938.60,351.95 938.85,349.14 939.10,346.27 939.36,343.34 939.61,340.14 939.87,336.63 940.12,333.03 940.38,329.34 940.63,325.56 940.88,321.67 941.14,317.84 941.39,313.93 941.65,309.92 941.90,305.81 942.15,301.43 942.41,296.84 942.66,292.12 942.92,287.27 943.17,281.86 943.42,276.30 943.68,270.81 943.93,265.81 944.19,260.69 944.44,254.80 944.70,248.12 944.95,241.77 945.20,235.61 945.46,229.28 945.71,222.78 945.97,216.11 946.22,209.26 946.48,202.23 946.73,195.02 946.98,187.61 947.24,180.01 947.49,172.20 947.75,164.19 948.00,155.96"/>
<polyline stroke="#EDB120" stroke-dasharray="16 6 4 6" points="643.00,473.80 643.25,473.80 643.51,473.80 643.76,473.80 644.02,473.80 644.27,473.80 644.52,473.80 644.78,473.80 645.03,473.80 645.29,473.80 645.54,473.80 645.80,473.80 646.05,473.80 646.30,473.80 646.56,473.80 646.81,473.80 647.07,473.80 647.32,473.80 647.58,473.80 647.83,473.80 648.08,473.80 648.34,473.80 648.59,473.80 648.85,473.80 649.10,473.80 649.35,473.80 649.61,473.80 649.86,473.80 650.12,473.80 650.37,473.80 650.62,473.80 650.88,473.80 651.13,473.80 651.39,473.80 651.64,473.80 651.90,473.80 652.15,473.80 652.40,473.80 652.66,473.80 652.91,473.80 653.17,473.80 653.42,473.80 653.67,473.80 653.93,473.80 654.18,473.80 654.44,473.80 654.69,473.80 654.95,473.80 655.20,473.80 655.45,473.80 655.71,473.80 655.96,473.80 656.22,473.80 656.47,473.80 656.73,473.80 656.98,473.80 657.23,473.80 657.49,473.80 657.74,473.80 658.00,473.80 658.25,473.80 658.50,473.80 658.76,473.80 659.01,473.80 659.27,473.80 659.52,473.80 659.77,473.80 660.03,473.80 660.28,473.80 660.54,473.80 660.79,473.80 661.05,473.80 661.30,473.80 661.55,473.80 661.81,473.80 662.06,473.80 662.32,473.80 662.57,473.80 662.83,473.80 663.08,473.80 663.33,473.80 663.59,473.80 663.84,473.80 664.10,473.80 664.35,473.80 664.60,473.80 664.86,473.80 665.11,473.80 665.37,473.80 665.62,473.80 665.88,473.80 666.13,473.80 666.38,473.80 666.64,473.80 666.89,473.80 667.15,473.80 667.40,473.80 667.65,473.80 667.91,473.80 668.16,473.80 668.42,473.80 668.67,473.80 668.92,473.80 669.18,473.80 669.43,473.80 669.69,473.80 669.94,473.80 670.20,473.80 670.45,473.80 670.70,473.80 670.96,473.80 671.21,473.80 671.47,473.80 671.72,473.80 671.98,473.80 672.23,473.80 672.48,473.80 672.74,473.80 672.99,473.80 673.25,473.80 673.50,473.80 673.75,473.80 674.01,473.80 674.26,473.80 674.52,473.80 674.77,473.80 675.02,473.80 675.28,473.80 675.53,473.80 675.79,473.80 676.04,473.80 676.30,473.80 676.55,473.80 676.80,473.80 677.06,473.80 677.31,473.80 677.57,473.80 677.82,473.80 678.08,473.80 678.33,473.80 678.58,473.80 678.84,473.80 679.09,473.80 679.35,473.80 679.60,473.80 679.85,473.80 680.11,473.80 680.36,473.80 680.62,473.80 680.87,473.80 681.12,473.80 681.38,473.80 681.63,473.80 681.89,473.80 682.14,473.80 682.40,473.80 682.65,473.80 682.90,473.80 683.16,473.80 683.41,473.80 683.67,473.80 683.92,473.80 684.17,473.80 684.43,473.80 684.68,473.80 684.94,473.80 685.19,473.80 685.45,473.80 685.70,473.80 685.95,473.80 686.21,473.80 686.46,473.80 686.72,473.80 686.97,473.80 687.23,473.80 687.48,473.80 687.73,473.80 687.99,473.80 688.24,473.80 688.50,473.80 688.75,473.80 689.00,473.80 689.26,473.80 689.51,473.80 689.77,473.80 690.02,473.80 690.27,473.80 690.53,473.80 690.78,473.80 691.04,473.80 691.29,473.80 691.55,473.80 691.80,473.80 692.05,473.80 692.31,473.80 692.56,473.80 692.82,473.80 693.07,473.80 693.33,473.80 693.58,473.80 693.83,473.80 694.09,473.80 694.34,473.80 694.60,473.80 694.85,473.80 695.10,473.80 695.36,473.80 695.61,473.80 695.87,473.80 696.12,473.80 696.38,473.80 696.63,473.80 696.88,473.80 697.14,473.80 697.39,473.80 697.65,473.80 697.90,473.80 698.15,473.80 698.41,473.80 698.66,473.80 698.92,473.80 699.17,473.80 699.42,473.80 699.68,473.80 699.93,473.80 700.19,473.80 700.44,473.80 700.70,473.80 700.95,473.80 701.20,473.80 701.46,473.80 701.71,473.80 701.97,473.80 702.22,473.80 702.48,473.80 702.73,473.80 702.98,473.80 703.24,473.80 703.49,473.80 703.75,473.80 704.00,473.80 704.25,473.80 704.51,473.80 704.76,473.80 705.02,473.80 705.27,473.80 705.52,473.80 705.78,473.80 706.03,473.80 706.29,473.80 706.54,473.80 706.80,473.80 707.05,473.80 707.30,473.80 707.56,473.80 707.81,473.80 708.07,473.80 708.32,473.80 708.58,473.80 708.83,473.80 709.08,473.80 709.34,473.80 709.59,473.80 709.85,473.80 710.10,473.80 710.35,473.80 710.61,473.80 710.86,473.80 711.12,473.80 711.37,473.80 711.62,473.80 711.88,473.80 712.13,473.80 712.39,473.80 712.64,473.80 712.90,473.80 713.15,473.80 713.40,473.80 713.66,473.80 713.91,473.80 714.17,473.80 714.42,473.80 714.67,473.80 714.93,473.80 715.18,473.80 715.44,473.80 715.69,473.80 715.95,473.80 716.20,473.80 716.45,473.80 716.71,473.80 716.96,473.80 717.22,473.80 717.47,473.80 717.73,473.80 717.98,473.80 718.23,473.80 718.49,473.80 718.74,473.80 719.00,473.80 719.25,473.80 719.50,473.80 719.76,473.80 720.01,473.80 720.27,473.80 720.52,473.80 720.77,473.80 721.03,473.80 721.28,473.80 721.54,473.80 721.79,473.80 722.05,473.80 722.30,473.80 722.55,473.80 722.81,473.80 723.06,473.80 723.32,473.80 723.57,473.80 723.83,473.80 724.08,473.80 724.33,473.80 724.59,473.80 724.84,473.80 725.10,473.80 725.35,473.80 725.60,473.80 725.86,473.80 726.11,473.80 726.37,473.80 726.62,473.80 726.88,473.80 727.13,473.80 727.38,473.80 727.64,473.80 727.89,473.80 728.15,473.80 728.40,473.80 728.65,473.80 728.91,473.80 729.16,473.80 729.42,473.80 729.67,473.80 729.92,473.80 730.18,473.80 730.43,473.80 730.69,473.80 730.94,473.80 731.20,473.80 731.45,473.80 731.70,473.80 731.96,473.80 732.21,473.80 732.47,473.80 732.72,473.80 732.98,473.80 733.23,473.80 733.48,473.80 733.74,473.80 733.99,473.80 734.25,473.80 734.50,473.80 734.75,473.80 735.01,473.80 735.26,473.80 735.52,473.80 735.77,473.80 736.02,473.80 736.28,473.80 736.53,473.80 736.79,473.80 737.04,473.80 737.30,473.80 737.55,473.80 737.80,473.80 738.06,473.80 738.31,473.80 738.57,473.80 738.82,473.80 739.08,473.80 739.33,473.80 739.58,473.80 739.84,473.80 740.09,473.80 740.35,473.80 740.60,473.80 740.85,473.80 741.11,473.80 741.36,473.80 741.62,473.80 741.87,473.80 742.12,473.80 742.38,473.80 742.63,473.80 742.89,473.80 743.14,473.80 743.40,473.80 743.65,473.80 743.90,473.80 744.16,473.80 744.41,473.80 744.67,473.80 744.92,473.80 745.17,473.80 745.43,473.80 745.68,473.80 745.94,473.80 746.19,473.80 746.45,473.80 746.70,473.80 746.95,473.80 747.21,473.80 747.46,473.80 747.72,473.80 747.97,473.80 748.23,473.80 748.48,473.80 748.73,473.80 748.99,473.80 749.24,473.80 749.50,473.80 749.75,473.80 750.00,473.80 750.26,473.80 750.51,473.80 750.77,473.80 751.02,473.80 751.27,473.80 751.53,473.80 751.78,473.80 752.04,473.80 752.29,473.80 752.55,473.80 752.80,473.80 753.05,473.80 753.31,473.80 753.56,473.80 753.82,473.80 754.07,473.80 754.33,473.80 754.58,473.80 754.83,473.80 755.09,473.80 755.34,473.80 755.60,473.80 755.85,473.80 756.10,473.80 756.36,473.80 756.61,473.80 756.87,473.80 757.12,473.80 757.38,473.80 757.63,473.80 757.88,473.80 758.14,473.80 758.39,473.80 758.65,473.80 758.90,473.80 759.15,473.80 759.41,473.80 759.66,473.80 759.92,473.80 760.17,473.80 760.42,473.80 760.68,473.80 760.93,473.80 761.19,473.80 761.44,473.80 761.70,473.80 761.95,473.80 762.20,473.80 762.46,473.80 762.71,473.80 762.97,473.80 763.22,473.80 763.48,473.80 763.73,473.80 763.98,473.80 764.24,473.80 764.49,473.80 764.75,473.80 765.00,473.80 765.25,473.80 765.51,473.80 765.76,473.80 766.02,473.80 766.27,473.80 766.52,473.80 766.78,473.80 767.03,473.80 767.29,473.80 767.54,473.80 767.80,473.80 768.05,473.80 768.30,473.80 768.56,473.80 768.81,473.80 769.07,473.80 769.32,473.80 769.58,473.80 769.83,473.80 770.08,473.80 770.34,473.80 770.59,473.80 770.85,473.80 771.10,473.80 771.35,473.80 771.61,473.80 771.86,473.80 772.12,473.80 772.37,473.80 772.62,473.80 772.88,473.80 773.13,473.80 773.39,473.80 773.64,473.80 773.90,473.80 774.15,473.80 774.40,473.80 774.66,473.80 774.91,473.80 775.17,473.80 775.42,473.80 775.67,473.80 775.93,473.80 776.18,473.80 776.44,473.80 776.69,473.80 776.95,473.80 777.20,473.80 777.45,473.80 777.71,473.80 777.96,473.80 778.22,473.80 778.47,473.80 778.73,473.80 778.98,473.80 779.23,473.80 779.49,473.80 779.74,473.80 780.00,473.80 780.25,473.80 780.50,473.80 780.76,473.80 781.01,473.80 781.27,473.80 781.52,473.80 781.77,473.80 782.03,473.80 782.28,473.80 782.54,473.80 782.79,473.80 783.05,473.80 783.30,473.80 783.55,473.80 783.81,473.80 784.06,473.80 784.32,473.80 784.57,473.80 784.83,473.80 785.08,473.80 785.33,473.80 785.59,473.80 785.84,473.80 786.10,473.80 786.35,473.80 786.60,473.80 786.86,473.80 787.11,473.80 787.37,473.80 787.62,473.80 787.88,473.80 788.13,473.80 788.38,473.80 788.64,473.80 788.89,473.80 789.15,473.80 789.40,473.80 789.65,473.80 789.91,473.80 790.16,473.80 790.42,473.80 790.67,473.80 790.92,473.80 791.18,473.80 791.43,473.80 791.69,473.80 791.94,473.80 792.20,473.80 792.45,473.80 792.70,473.80 792.96,473.80 793.21,473.80 793.47,473.80 793.72,473.80 793.98,473.80 794.23,473.80 794.48,473.80 794.74,473.80 794.99,473.80 795.25,473.80 795.50,473.80 795.75,473.80 796.01,473.80 796.26,473.80 796.52,473.80 796.77,473.80 797.02,473.80 797.28,473.80 797.53,473.80 797.79,473.80 798.04,473.80 798.30,473.80 798.55,473.80 798.80,473.80 799.06,473.80 799.31,473.80 799.57,473.80 799.82,473.80 800.08,473.80 800.33,473.80 800.58,473.80 800.84,473.80 801.09,473.80 801.35,473.80 801.60,473.80 801.85,473.80 802.11,473.80 802.36,473.80 802.62,473.80 802.87,473.80 803.12,473.80 803.38,473.80 803.63,473.80 803.89,473.80 804.14,473.80 804.40,473.80 804.65,473.80 804.90,473.80 805.16,473.80 805.41,473.80 805.67,473.80 805.92,473.80 806.17,473.80 806.43,473.80 806.68,473.80 806.94,473.80 807.19,473.80 807.45,473.80 807.70,473.80 807.95,473.80 808.21,473.80 808.46,473.80 808.72,473.80 808.97,473.80 809.23,473.80 809.48,473.80 809.73,473.80 809.99,473.80 810.24,473.80 810.50,473.80 810.75,473.80 811.00,473.80 811.26,473.80 811.51,473.80 811.77,473.80 812.02,473.80 812.27,473.80 812.53,473.80 812.78,473.80 813.04,473.80 813.29,473.80 813.55,473.80 813.80,473.80 814.05,473.80 814.31,473.80 814.56,473.80 814.82,473.80 815.07,473.80 815.33,473.80 815.58,473.80 815.83,473.80 816.09,473.80 816.34,473.80 816.60,473.80 816.85,473.80 817.10,473.80 817.36,473.80 817.61,473.80 817.87,473.80 818.12,473.80 818.38,473.80 818.63,473.80 818.88,473.80 819.14,473.80 819.39,473.80 819.65,473.80 819.90,473.80 820.15,473.80 820.41,473.80 820.66,473.80 820.92,473.80 821.17,473.80 821.42,473.80 821.68,473.80 821.93,473.80 822.19,473.80 822.44,473.80 822.70,473.80 822.95,473.80 823.20,473.80 823.46,473.80 823.71,473.80 823.97,473.80 824.22,473.80 824.48,473.80 824.73,473.80 824.98,473.80 825.24,473.80 825.49,473.80 825.75,473.80 826.00,473.80 826.25,473.80 826.51,473.80 826.76,473.80 827.02,473.80 827.27,473.80 827.52,473.80 827.78,473.80 828.03,473.80 828.29,473.80 828.54,473.80 828.80,473.80 829.05,473.80 829.30,473.80 829.56,473.80 829.81,473.80 830.07,473.80 830.32,473.80 830.58,473.80 830.83,473.80 831.08,473.80 831.34,473.80 831.59,473.80 831.85,473.80 832.10,473.80 832.35,473.80 832.61,473.80 832.86,473.80 833.12,473.80 833.37,473.80 833.62,473.79 833.88,473.79 834.13,473.79 834.39,473.79 834.64,473.79 834.90,473.79 835.15,473.79 835.40,473.79 835.66,473.79 835.91,473.79 836.17,473.79 836.42,473.79 836.67,473.79 836.93,473.79 837.18,473.79 837.44,473.79 837.69,473.79 837.95,473.79 838.20,473.79 838.45,473.79 838.71,473.79 838.96,473.79 839.22,473.79 839.47,473.79 839.73,473.79 839.98,473.79 840.23,473.79 840.49,473.79 840.74,473.79 841.00,473.79 841.25,473.79 841.50,473.79 841.76,473.79 842.01,473.79 842.27,473.79 842.52,473.79 842.77,473.79 843.03,473.79 843.28,473.79 843.54,473.79 843.79,473.79 844.05,473.79 844.30,473.79 844.55,473.79 844.81,473.78 845.06,473.78 845.32,473.78 845.57,473.78 845.83,473.78 846.08,473.78 846.33,473.78 846.59,473.78 846.84,473.78 847.10,473.78 847.35,473.78 847.60,473.78 847.86,473.78 848.11,473.78 848.37,473.78 848.62,473.78 848.88,473.78 849.13,473.78 849.38,473.78 849.64,473.78 849.89,473.78 850.15,473.77 850.40,473.77 850.65,473.77 850.91,473.77 851.16,473.77 851.42,473.77 851.67,473.77 851.92,473.77 852.18,473.77 852.43,473.77 852.69,473.77 852.94,473.77 853.20,473.77 853.45,473.76 853.70,473.76 853.96,473.76 854.21,473.76 854.47,473.76 854.72,473.76 854.98,473.76 855.23,473.76 855.48,473.76 855.74,473.76 855.99,473.75 856.25,473.75 856.50,473.75 856.75,473.75 857.01,473.75 857.26,473.75 857.52,473.75 857.77,473.75 858.02,473.74 858.28,473.74 858.53,473.74 858.79,473.74 859.04,473.74 859.30,473.74 859.55,473.74 859.80,473.73 860.06,473.73 860.31,473.73 860.57,473.73 860.82,473.73 861.08,473.73 861.33,473.72 861.58,473.72 861.84,473.72 862.09,473.72 862.35,473.72 862.60,473.71 862.85,473.71 863.11,473.71 863.36,473.71 863.62,473.70 863.87,473.70 864.12,473.70 864.38,473.70 864.63,473.69 864.89,473.69 865.14,473.69 865.40,473.69 865.65,473.68 865.90,473.68 866.16,473.68 866.41,473.67 866.67,473.67 866.92,473.67 867.17,473.66 867.43,473.66 867.68,473.66 867.94,473.65 868.19,473.65 868.45,473.65 868.70,473.64 868.95,473.64 869.21,473.63 869.46,473.63 869.72,473.62 869.97,473.62 870.23,473.62 870.48,473.61 870.73,473.61 870.99,473.60 871.24,473.60 871.50,473.59 871.75,473.59 872.00,473.58 872.26,473.58 872.51,473.57 872.77,473.56 873.02,473.56 873.27,473.55 873.53,473.55 873.78,473.54 874.04,473.53 874.29,473.53 874.55,473.52 874.80,473.51 875.05,473.50 875.31,473.50 875.56,473.49 875.82,473.48 876.07,473.47 876.33,473.46 876.58,473.46 876.83,473.45 877.09,473.44 877.34,473.43 877.60,473.42 877.85,473.41 878.10,473.40 878.36,473.39 878.61,473.38 878.87,473.37 879.12,473.36 879.38,473.35 879.63,473.34 879.88,473.32 880.14,473.31 880.39,473.30 880.65,473.28 880.90,473.27 881.15,473.25 881.41,473.23 881.66,473.22 881.92,473.20 882.17,473.18 882.42,473.17 882.68,473.15 882.93,473.13 883.19,473.11 883.44,473.09 883.70,473.07 883.95,473.04 884.20,473.02 884.46,473.00 884.71,472.98 884.97,472.95 885.22,472.93 885.48,472.90 885.73,472.88 885.98,472.85 886.24,472.82 886.49,472.79 886.75,472.76 887.00,472.73 887.25,472.70 887.51,472.67 887.76,472.63 888.02,472.60 888.27,472.57 888.52,472.53 888.78,472.49 889.03,472.45 889.29,472.41 889.54,472.38 889.80,472.34 890.05,472.30 890.30,472.26 890.56,472.23 890.81,472.19 891.07,472.15 891.32,472.10 891.58,472.06 891.83,472.02 892.08,471.97 892.34,471.93 892.59,471.88 892.85,471.83 893.10,471.78 893.35,471.73 893.61,471.68 893.86,471.62 894.12,471.57 894.37,471.51 894.62,471.45 894.88,471.39 895.13,471.33 895.39,471.27 895.64,471.21 895.90,471.14 896.15,471.07 896.40,471.01 896.66,470.93 896.91,470.86 897.17,470.79 897.42,470.71 897.67,470.63 897.93,470.55 898.18,470.47 898.44,470.39 898.69,470.30 898.95,470.21 899.20,470.13 899.45,470.05 899.71,469.97 899.96,469.89 900.22,469.80 900.47,469.72 900.72,469.63 900.98,469.54 901.23,469.44 901.49,469.35 901.74,469.25 902.00,469.16 902.25,469.05 902.50,468.95 902.76,468.85 903.01,468.74 903.27,468.63 903.52,468.52 903.77,468.40 904.03,468.29 904.28,468.17 904.54,468.05 904.79,467.92 905.05,467.79 905.30,467.66 905.55,467.53 905.81,467.40 906.06,467.26 906.32,467.12 906.57,466.97 906.83,466.82 907.08,466.67 907.33,466.52 907.59,466.36 907.84,466.20 908.10,466.03 908.35,465.87 908.60,465.69 908.86,465.52 909.11,465.34 909.37,465.16 909.62,464.97 909.88,464.78 910.13,464.58 910.38,464.38 910.64,464.18 910.89,463.97 911.15,463.76 911.40,463.54 911.65,463.32 911.91,463.10 912.16,462.86 912.42,462.63 912.67,462.39 912.92,462.14 913.18,461.89 913.43,461.63 913.69,461.37 913.94,461.10 914.20,460.83 914.45,460.54 914.70,460.26 914.96,459.97 915.21,459.67 915.47,459.30 915.72,458.91 915.98,458.51 916.23,458.10 916.48,457.68 916.74,457.25 916.99,456.81 917.25,456.35 917.50,455.89 917.75,455.41 918.01,454.91 918.26,454.41 918.52,453.89 918.77,453.36 919.03,452.81 919.28,452.25 919.53,451.67 919.79,451.08 920.04,450.53 920.30,450.05 920.55,449.56 920.80,449.06 921.06,448.55 921.31,448.03 921.57,447.49 921.82,446.95 922.08,446.40 922.33,445.83 922.58,445.14 922.84,444.40 923.09,443.64 923.35,442.86 923.60,442.07 923.85,441.25 924.11,440.41 924.36,439.55 924.62,438.66 924.87,437.76 925.12,436.83 925.38,435.87 925.63,434.90 925.89,433.97 926.14,433.07 926.40,432.15 926.65,431.21 926.90,430.24 927.16,429.26 927.41,428.26 927.67,427.23 927.92,426.17 928.17,425.10 928.43,424.00 928.68,422.76 928.94,421.34 929.19,419.88 929.45,418.39 929.70,416.85 929.95,415.26 930.21,413.64 930.46,411.97 930.72,410.25 930.97,408.48 931.22,406.62 931.48,404.67 931.73,402.67 931.99,400.61 932.24,398.49 932.50,396.31 932.75,394.07 933.00,391.98 933.26,390.15 933.51,388.29 933.77,386.39 934.02,384.44 934.27,382.45 934.53,380.42 934.78,378.34 935.04,376.21 935.29,374.04 935.55,371.82 935.80,369.55 936.05,366.16 936.31,362.66 936.56,359.05 936.82,355.32 937.07,351.47 937.33,347.91 937.58,344.73 937.83,341.47 938.09,338.12 938.34,334.69 938.60,331.23 938.85,327.95 939.10,324.59 939.36,321.16 939.61,317.41 939.87,313.31 940.12,309.10 940.38,304.79 940.63,300.35 940.88,295.81 941.14,291.33 941.39,286.75 941.65,282.06 941.90,277.25 942.15,272.12 942.41,266.75 942.66,261.24 942.92,255.56 943.17,249.23 943.42,242.72 943.68,236.31 943.93,230.46 944.19,224.46 944.44,217.57 944.70,209.76 944.95,202.33 945.20,195.11 945.46,187.71 945.71,180.11 945.97,172.30 946.22,164.29 946.48,156.07 946.73,147.63 946.98,138.96 947.24,130.06 947.49,120.93 947.75,111.55 948.00,101.93"/>
<polyline stroke="#7E2F8E" stroke-dasharray="2 6" points="643.00,473.80 643.25,473.80 643.51,473.80 643.76,473.80 644.02,473.80 644.27,473.80 644.52,473.80 644.78,473.80 645.03,473.80 645.29,473.80 645.54,473.80 645.80,473.80 646.05,473.80 646.30,473.80 646.56,473.80 646.81,473.80 647.07,473.80 647.32,473.80 647.58,473.80 647.83,473.80 648.08,473.80 648.34,473.80 648.59,473.80 648.85,473.80 649.10,473.80 649.35,473.80 649.61,473.80 649.86,473.80 650.12,473.80 650.37,473.80 650.62,473.80 650.88,473.80 651.13,473.80 651.39,473.80 651.64,473.80 651.90,473.80 652.15,473.80 652.40,473.80 652.66,473.80 652.91,473.80 653.17,473.80 653.42,473.80 653.67,473.80 653.93,473.80 654.18,473.80 654.44,473.80 654.69,473.80 654.95,473.80 655.20,473.80 655.45,473.80 655.71,473.80 655.96,473.80 656.22,473.80 656.47,473.80 656.73,473.80 656.98,473.80 657.23,473.80 657.49,473.80 657.74,473.80 658.00,473.80 658.25,473.80 658.50,473.80 658.76,473.80 659.01,473.80 659.27,473.80 659.52,473.80 659.77,473.80 660.03,473.80 660.28,473.80 660.54,473.80 660.79,473.80 661.05,473.80 661.30,473.80 661.55,473.80 661.81,473.80 662.06,473.80 662.32,473.80 662.57,473.80 662.83,473.80 663.08,473.80 663.33,473.80 663.59,473.80 663.84,473.80 664.10,473.80 664.35,473.80 664.60,473.80 664.86,473.80 665.11,473.80 665.37,473.80 665.62,473.80 665.88,473.80 666.13,473.80 666.38,473.80 666.64,473.80 666.89,473.80 667.15,473.80 667.40,473.80 667.65,473.80 667.91,473.80 668.16,473.80 668.42,473.80 668.67,473.80 668.92,473.80 669.18,473.80 669.43,473.80 669.69,473.80 669.94,473.80 670.20,473.80 670.45,473.80 670.70,473.80 670.96,473.80 671.21,473.80 671.47,473.80 671.72,473.80 671.98,473.80 672.23,473.80 672.48,473.80 672.74,473.80 672.99,473.80 673.25,473.80 673.50,473.80 673.75,473.80 674.01,473.80 674.26,473.80 674.52,473.80 674.77,473.80 675.02,473.80 675.28,473.80 675.53,473.80 675.79,473.80 676.04,473.80 676.30,473.80 676.55,473.80 676.80,473.80 677.06,473.80 677.31,473.80 677.57,473.80 677.82,473.80 678.08,473.80 678.33,473.80 678.58,473.80 678.84,473.80 679.09,473.80 679.35,473.80 679.60,473.80 679.85,473.80 680.11,473.80 680.36,473.80 680.62,473.80 680.87,473.80 681.12,473.80 681.38,473.80 681.63,473.80 681.89,473.80 682.14,473.80 682.40,473.80 682.65,473.80 682.90,473.80 683.16,473.80 683.41,473.80 683.67,473.80 683.92,473.80 684.17,473.80 684.43,473.80 684.68,473.80 684.94,473.80 685.19,473.80 685.45,473.80 685.70,473.80 685.95,473.80 686.21,473.80 686.46,473.80 686.72,473.80 686.97,473.80 687.23,473.80 687.48,473.80 687.73,473.80 687.99,473.80 688.24,473.80 688.50,473.80 688.75,473.80 689.00,473.80 689.26,473.80 689.51,473.80 689.77,473.80 690.02,473.80 690.27,473.80 690.53,473.80 690.78,473.80 691.04,473.80 691.29,473.80 691.55,473.80 691.80,473.80 692.05,473.80 692.31,473.80 692.56,473.80 692.82,473.80 693.07,473.80 693.33,473.80 693.58,473.80 693.83,473.80 694.09,473.80 694.34,473.80 694.60,473.80 694.85,473.80 695.10,473.80 695.36,473.80 695.61,473.80 695.87,473.80 696.12,473.80 696.38,473.80 696.63,473.80 696.88,473.80 697.14,473.80 697.39,473.80 697.65,473.80 697.90,473.80 698.15,473.80 698.41,473.80 698.66,473.80 698.92,473.80 699.17,473.80 699.42,473.80 699.68,473.80 699.93,473.80 700.19,473.80 700.44,473.80 700.70,473.80 700.95,473.80 701.20,473.80 701.46,473.80 701.71,473.80 701.97,473.80 702.22,473.80 702.48,473.80 702.73,473.80 702.98,473.80 703.24,473.80 703.49,473.80 703.75,473.80 704.00,473.80 704.25,473.80 704.51,473.80 704.76,473.80 705.02,473.80 705.27,473.80 705.52,473.80 705.78,473.80 706.03,473.80 706.29,473.80 706.54,473.80 706.80,473.80 707.05,473.80 707.30,473.80 707.56,473.80 707.81,473.80 708.07,473.80 708.32,473.80 708.58,473.80 708.83,473.80 709.08,473.80 709.34,473.80 709.59,473.80 709.85,473.80 710.10,473.80 710.35,473.80 710.61,473.80 710.86,473.80 711.12,473.80 711.37,473.80 711.62,473.80 711.88,473.80 712.13,473.80 712.39,473.80 712.64,473.80 712.90,473.80 713.15,473.80 713.40,473.80 713.66,473.80 713.91,473.80 714.17,473.80 714.42,473.80 714.67,473.80 714.93,473.80 715.18,473.80 715.44,473.80 715.69,473.80 715.95,473.80 716.20,473.80 716.45,473.80 716.71,473.80 716.96,473.80 717.22,473.80 717.47,473.80 717.73,473.80 717.98,473.80 718.23,473.80 718.49,473.80 718.74,473.80 719.00,473.80 719.25,473.80 719.50,473.80 719.76,473.80 720.01,473.80 720.27,473.80 720.52,473.80 720.77,473.80 721.03,473.80 721.28,473.80 721.54,473.80 721.79,473.80 722.05,473.80 722.30,473.80 722.55,473.80 722.81,473.80 723.06,473.80 723.32,473.80 723.57,473.80 723.83,473.80 724.08,473.80 724.33,473.80 724.59,473.80 724.84,473.80 725.10,473.80 725.35,473.80 725.60,473.80 725.86,473.80 726.11,473.80 726.37,473.80 726.62,473.80 726.88,473.80 727.13,473.80 727.38,473.80 727.64,473.80 727.89,473.80 728.15,473.80 728.40,473.80 728.65,473.80 728.91,473.80 729.16,473.80 729.42,473.80 729.67,473.80 729.92,473.80 730.18,473.80 730.43,473.80 730.69,473.80 730.94,473.80 731.20,473.80 731.45,473.80 731.70,473.80 731.96,473.80 732.21,473.80 732.47,473.80 732.72,473.80 732.98,473.80 733.23,473.80 733.48,473.80 733.74,473.80 733.99,473.80 734.25,473.80 734.50,473.80 734.75,473.80 735.01,473.80 735.26,473.80 735.52,473.80 735.77,473.80 736.02,473.80 736.28,473.80 736.53,473.80 736.79,473.80 737.04,473.80 737.30,473.80 737.55,473.80 737.80,473.80 738.06,473.80 738.31,473.80 738.57,473.80 738.82,473.80 739.08,473.80 739.33,473.80 739.58,473.80 739.84,473.80 740.09,473.80 740.35,473.80 740.60,473.80 740.85,473.80 741.11,473.80 741.36,473.80 741.62,473.80 741.87,473.80 742.12,473.80 742.38,473.80 742.63,473.80 742.89,473.80 743.14,473.80 743.40,473.80 743.65,473.80 743.90,473.80 744.16,473.80 744.41,473.80 744.67,473.80 744.92,473.80 745.17,473.80 745.43,473.80 745.68,473.80 745.94,473.80 746.19,473.80 746.45,473.80 746.70,473.80 746.95,473.80 747.21,473.80 747.46,473.80 747.72,473.80 747.97,473.80 748.23,473.80 748.48,473.80 748.73,473.80 748.99,473.80 749.24,473.80 749.50,473.80 749.75,473.80 750.00,473.80 750.26,473.80 750.51,473.80 750.77,473.80 751.02,473.80 751.27,473.80 751.53,473.80 751.78,473.80 752.04,473.80 752.29,473.80 752.55,473.80 752.80,473.80 753.05,473.80 753.31,473.80 753.56,473.80 753.82,473.80 754.07,473.80 754.33,473.80 754.58,473.80 754.83,473.80 755.09,473.80 755.34,473.80 755.60,473.80 755.85,473.80 756.10,473.80 756.36,473.80 756.61,473.80 756.87,473.80 757.12,473.80 757.38,473.80 757.63,473.80 757.88,473.80 758.14,473.80 758.39,473.80 758.65,473.80 758.90,473.80 759.15,473.80 759.41,473.80 759.66,473.80 759.92,473.80 760.17,473.80 760.42,473.80 760.68,473.80 760.93,473.80 761.19,473.80 761.44,473.80 761.70,473.80 761.95,473.80 762.20,473.80 762.46,473.80 762.71,473.80 762.97,473.80 763.22,473.80 763.48,473.80 763.73,473.80 763.98,473.80 764.24,473.80 764.49,473.80 764.75,473.80 765.00,473.80 765.25,473.80 765.51,473.80 765.76,473.80 766.02,473.80 766.27,473.80 766.52,473.80 766.78,473.80 767.03,473.80 767.29,473.80 767.54,473.80 767.80,473.80 768.05,473.80 768.30,473.80 768.56,473.80 768.81,473.80 769.07,473.80 769.32,473.80 769.58,473.80 769.83,473.80 770.08,473.80 770.34,473.80 770.59,473.80 770.85,473.80 771.10,473.80 771.35,473.80 771.61,473.80 771.86,473.80 772.12,473.80 772.37,473.80 772.62,473.80 772.88,473.80 773.13,473.80 773.39,473.80 773.64,473.80 773.90,473.80 774.15,473.80 774.40,473.80 774.66,473.80 774.91,473.80 775.17,473.80 775.42,473.80 775.67,473.80 775.93,473.80 776.18,473.80 776.44,473.80 776.69,473.80 776.95,473.80 777.20,473.80 777.45,473.80 777.71,473.80 777.96,473.80 778.22,473.80 778.47,473.80 778.73,473.80 778.98,473.80 779.23,473.80 779.49,473.80 779.74,473.80 780.00,473.80 780.25,473.80 780.50,473.80 780.76,473.80 781.01,473.80 781.27,473.80 781.52,473.80 781.77,473.80 782.03,473.80 782.28,473.80 782.54,473.80 782.79,473.80 783.05,473.80 783.30,473.80 783.55,473.80 783.81,473.80 784.06,473.80 784.32,473.80 784.57,473.80 784.83,473.80 785.08,473.80 785.33,473.80 785.59,473.80 785.84,473.80 786.10,473.80 786.35,473.80 786.60,473.80 786.86,473.80 787.11,473.80 787.37,473.80 787.62,473.80 787.88,473.80 788.13,473.80 788.38,473.80 788.64,473.80 788.89,473.80 789.15,473.80 789.40,473.80 789.65,473.80 789.91,473.80 790.16,473.80 790.42,473.80 790.67,473.80 790.92,473.80 791.18,473.80 791.43,473.80 791.69,473.80 791.94,473.80 792.20,473.80 792.45,473.80 792.70,473.80 792.96,473.80 793.21,473.80 793.47,473.80 793.72,473.80 793.98,473.80 794.23,473.80 794.48,473.80 794.74,473.80 794.99,473.80 795.25,473.80 795.50,473.80 795.75,473.80 796.01,473.80 796.26,473.80 796.52,473.80 796.77,473.80 797.02,473.80 797.28,473.80 797.53,473.80 797.79,473.80 798.04,473.80 798.30,473.80 798.55,473.80 798.80,473.80 799.06,473.80 799.31,473.80 799.57,473.80 799.82,473.80 800.08,473.80 800.33,473.80 800.58,473.80 800.84,473.80 801.09,473.80 801.35,473.80 801.60,473.80 801.85,473.80 802.11,473.80 802.36,473.80 802.62,473.80 802.87,473.80 803.12,473.80 803.38,473.80 803.63,473.80 803.89,473.80 804.14,473.80 804.40,473.80 804.65,473.80 804.90,473.80 805.16,473.80 805.41,473.80 805.67,473.80 805.92,473.80 806.17,473.80 806.43,473.80 806.68,473.80 806.94,473.80 807.19,473.80 807.45,473.80 807.70,473.80 807.95,473.80 808.21,473.80 808.46,473.80 808.72,473.80 808.97,473.80 809.23,473.80 809.48,473.80 809.73,473.80 809.99,473.80 810.24,473.80 810.50,473.80 810.75,473.80 811.00,473.80 811.26,473.80 811.51,473.80 811.77,473.80 812.02,473.80 812.27,473.80 812.53,473.80 812.78,473.80 813.04,473.80 813.29,473.80 813.55,473.80 813.80,473.80 814.05,473.80 814.31,473.80 814.56,473.80 814.82,473.80 815.07,473.80 815.33,473.80 815.58,473.80 815.83,473.80 816.09,473.80 816.34,473.80 816.60,473.80 816.85,473.80 817.10,473.80 817.36,473.80 817.61,473.80 817.87,473.80 818.12,473.80 818.38,473.80 818.63,473.80 818.88,473.80 819.14,473.80 819.39,473.80 819.65,473.80 819.90,473.80 820.15,473.80 820.41,473.80 820.66,473.80 820.92,473.80 821.17,473.80 821.42,473.80 821.68,473.80 821.93,473.80 822.19,473.80 822.44,473.80 822.70,473.80 822.95,473.80 823.20,473.80 823.46,473.80 823.71,473.80 823.97,473.80 824.22,473.80 824.48,473.80 824.73,473.80 824.98,473.80 825.24,473.80 825.49,473.80 825.75,473.80 826.00,473.80 826.25,473.80 826.51,473.80 826.76,473.80 827.02,473.80 827.27,473.80 827.52,473.80 827.78,473.80 828.03,473.80 828.29,473.80 828.54,473.80 828.80,473.80 829.05,473.80 829.30,473.80 829.56,473.80 829.81,473.80 830.07,473.80 830.32,473.80 830.58,473.80 830.83,473.80 831.08,473.80 831.34,473.80 831.59,473.80 831.85,473.80 832.10,473.80 832.35,473.80 832.61,473.80 832.86,473.80 833.12,473.80 833.37,473.80 833.62,473.80 833.88,473.80 834.13,473.80 834.39,473.80 834.64,473.80 834.90,473.80 835.15,473.80 835.40,473.79 835.66,473.79 835.91,473.79 836.17,473.79 836.42,473.79 836.67,473.79 836.93,473.79 837.18,473.79 837.44,473.79 837.69,473.79 837.95,473.79 838.20,473.79 838.45,473.79 838.71,473.79 838.96,473.79 839.22,473.79 839.47,473.79 839.73,473.79 839.98,473.79 840.23,473.79 840.49,473.79 840.74,473.79 841.00,473.79 841.25,473.79 841.50,473.79 841.76,473.79 842.01,473.79 842.27,473.79 842.52,473.79 842.77,473.79 843.03,473.79 843.28,473.79 843.54,473.79 843.79,473.79 844.05,473.79 844.30,473.79 844.55,473.79 844.81,473.79 845.06,473.79 845.32,473.79 845.57,473.79 845.83,473.79 846.08,473.79 846.33,473.78 846.59,473.78 846.84,473.78 847.10,473.78 847.35,473.78 847.60,473.78 847.86,473.78 848.11,473.78 848.37,473.78 848.62,473.78 848.88,473.78 849.13,473.78 849.38,473.78 849.64,473.78 849.89,473.78 850.15,473.78 850.40,473.78 850.65,473.78 850.91,473.78 851.16,473.78 851.42,473.78 851.67,473.77 851.92,473.77 852.18,473.77 852.43,473.77 852.69,473.77 852.94,473.77 853.20,473.77 853.45,473.77 853.70,473.77 853.96,473.77 854.21,473.77 854.47,473.77 854.72,473.77 854.98,473.76 855.23,473.76 855.48,473.76 855.74,473.76 855.99,473.76 856.25,473.76 856.50,473.76 856.75,473.76 857.01,473.76 857.26,473.76 857.52,473.75 857.77,473.75 858.02,473.75 858.28,473.75 858.53,473.75 858.79,473.75 859.04,473.75 859.30,473.75 859.55,473.74 859.80,473.74 860.06,473.74 860.31,473.74 860.57,473.74 860.82,473.74 861.08,473.74 861.33,473.73 861.58,473.73 861.84,473.73 862.09,473.73 862.35,473.73 862.60,473.73 862.85,473.72 863.11,473.72 863.36,473.72 863.62,473.72 863.87,473.72 864.12,473.71 864.38,473.71 864.63,473.71 864.89,473.71 865.14,473.70 865.40,473.70 865.65,473.70 865.90,473.70 866.16,473.69 866.41,473.69 866.67,473.69 866.92,473.69 867.17,473.68 867.43,473.68 867.68,473.68 867.94,473.67 868.19,473.67 868.45,473.67 868.70,473.66 868.95,473.66 869.21,473.66 869.46,473.65 869.72,473.65 869.97,473.65 870.23,473.64 870.48,473.64 870.73,473.63 870.99,473.63 871.24,473.63 871.50,473.62 871.75,473.62 872.00,473.61 872.26,473.61 872.51,473.60 872.77,473.60 873.02,473.59 873.27,473.59 873.53,473.58 873.78,473.58 874.04,473.57 874.29,473.57 874.55,473.56 874.80,473.55 875.05,473.55 875.31,473.54 875.56,473.53 875.82,473.53 876.07,473.52 876.33,473.51 876.58,473.51 876.83,473.50 877.09,473.49 877.34,473.48 877.60,473.48 877.85,473.47 878.10,473.46 878.36,473.45 878.61,473.44 878.87,473.43 879.12,473.42 879.38,473.41 879.63,473.40 879.88,473.39 880.14,473.38 880.39,473.37 880.65,473.36 880.90,473.34 881.15,473.33 881.41,473.32 881.66,473.30 881.92,473.29 882.17,473.27 882.42,473.26 882.68,473.24 882.93,473.23 883.19,473.21 883.44,473.19 883.70,473.17 883.95,473.15 884.20,473.14 884.46,473.12 884.71,473.10 884.97,473.08 885.22,473.05 885.48,473.03 885.73,473.01 885.98,472.99 886.24,472.96 886.49,472.94 886.75,472.91 887.00,472.89 887.25,472.86 887.51,472.83 887.76,472.80 888.02,472.77 888.27,472.74 888.52,472.71 888.78,472.68 889.03,472.65 889.29,472.62 889.54,472.58 889.80,472.55 890.05,472.52 890.30,472.49 890.56,472.45 890.81,472.42 891.07,472.39 891.32,472.35 891.58,472.31 891.83,472.28 892.08,472.24 892.34,472.20 892.59,472.16 892.85,472.12 893.10,472.07 893.35,472.03 893.61,471.98 893.86,471.94 894.12,471.89 894.37,471.84 894.62,471.79 894.88,471.74 895.13,471.69 895.39,471.64 895.64,471.58 895.90,471.53 896.15,471.47 896.40,471.41 896.66,471.35 896.91,471.29 897.17,471.23 897.42,471.16 897.67,471.09 897.93,471.03 898.18,470.96 898.44,470.88 898.69,470.81 898.95,470.73 899.20,470.66 899.45,470.60 899.71,470.53 899.96,470.46 900.22,470.38 900.47,470.31 900.72,470.23 900.98,470.16 901.23,470.08 901.49,470.00 901.74,469.91 902.00,469.83 902.25,469.74 902.50,469.66 902.76,469.57 903.01,469.48 903.27,469.38 903.52,469.29 903.77,469.19 904.03,469.09 904.28,468.99 904.54,468.88 904.79,468.78 905.05,468.67 905.30,468.56 905.55,468.44 905.81,468.33 906.06,468.21 906.32,468.09 906.57,467.96 906.83,467.84 907.08,467.71 907.33,467.58 907.59,467.44 907.84,467.30 908.10,467.16 908.35,467.02 908.60,466.87 908.86,466.72 909.11,466.57 909.37,466.41 909.62,466.25 909.88,466.09 910.13,465.92 910.38,465.75 910.64,465.58 910.89,465.40 911.15,465.22 911.40,465.03 911.65,464.85 911.91,464.65 912.16,464.45 912.42,464.25 912.67,464.05 912.92,463.83 913.18,463.62 913.43,463.40 913.69,463.17 913.94,462.94 914.20,462.71 914.45,462.47 914.70,462.23 914.96,461.98 915.21,461.72 915.47,461.40 915.72,461.07 915.98,460.73 916.23,460.38 916.48,460.02 916.74,459.66 916.99,459.28 917.25,458.89 917.50,458.49 917.75,458.08 918.01,457.66 918.26,457.23 918.52,456.78 918.77,456.33 919.03,455.86 919.28,455.38 919.53,454.89 919.79,454.38 920.04,453.91 920.30,453.50 920.55,453.08 920.80,452.65 921.06,452.22 921.31,451.77 921.57,451.32 921.82,450.85 922.08,450.38 922.33,449.90 922.58,449.30 922.84,448.67 923.09,448.02 923.35,447.36 923.60,446.68 923.85,445.98 924.11,445.26 924.36,444.52 924.62,443.77 924.87,442.99 925.12,442.20 925.38,441.38 925.63,440.55 925.89,439.75 926.14,438.99 926.40,438.20 926.65,437.40 926.90,436.57 927.16,435.73 927.41,434.87 927.67,433.99 927.92,433.09 928.17,432.18 928.43,431.24 928.68,430.18 928.94,428.96 929.19,427.72 929.45,426.44 929.70,425.12 929.95,423.77 930.21,422.38 930.46,420.95 930.72,419.48 930.97,417.97 931.22,416.38 931.48,414.72 931.73,413.01 931.99,411.25 932.24,409.44 932.50,407.57 932.75,405.66 933.00,403.86 933.26,402.31 933.51,400.72 933.77,399.09 934.02,397.42 934.27,395.72 934.53,393.99 934.78,392.21 935.04,390.39 935.29,388.53 935.55,386.64 935.80,384.70 936.05,381.80 936.31,378.81 936.56,375.72 936.82,372.53 937.07,369.24 937.33,366.21 937.58,363.48 937.83,360.69 938.09,357.83 938.34,354.90 938.60,351.95 938.85,349.14 939.10,346.27 939.36,343.34 939.61,340.14 939.87,336.63 940.12,333.03 940.38,329.34 940.63,325.56 940.88,321.67 941.14,317.84 941.39,313.93 941.65,309.92 941.90,305.81 942.15,301.43 942.41,296.84 942.66,292.12 942.92,287.27 943.17,281.86 943.42,276.30 943.68,270.81 943.93,265.81 944.19,260.69 944.44,254.80 944.70,248.12 944.95,241.77 945.20,235.61 945.46,229.28 945.71,222.78 945.97,216.11 946.22,209.26 946.48,202.23 946.73,195.02 946.98,187.61 947.24,180.01 947.49,172.20 947.75,164.19 948.00,155.96"/>
<polyline stroke="#77AC30" stroke-dasharray="2 6" points="643.00,473.80 643.25,473.80 643.51,473.80 643.76,473.80 644.02,473.80 644.27,473.80 644.52,473.80 644.78,473.80 645.03,473.80 645.29,473.80 645.54,473.80 645.80,473.80 646.05,473.80 646.30,473.80 646.56,473.80 646.81,473.80 647.07,473.80 647.32,473.80 647.58,473.80 647.83,473.80 648.08,473.80 648.34,473.80 648.59,473.80 648.85,473.80 649.10,473.80 649.35,473.80 649.61,473.80 649.86,473.80 650.12,473.80 650.37,473.80 650.62,473.80 650.88,473.80 651.13,473.80 651.39,473.80 651.64,473.80 651.90,473.80 652.15,473.80 652.40,473.80 652.66,473.80 652.91,473.80 653.17,473.80 653.42,473.80 653.67,473.80 653.93,473.80 654.18,473.80 654.44,473.80 654.69,473.80 654.95,473.80 655.20,473.80 655.45,473.80 655.71,473.80 655.96,473.80 656.22,473.80 656.47,473.80 656.73,473.80 656.98,473.80 657.23,473.80 657.49,473.80 657.74,473.80 658.00,473.80 658.25,473.80 658.50,473.80 658.76,473.80 659.01,473.80 659.27,473.80 659.52,473.80 659.77,473.80 660.03,473.80 660.28,473.80 660.54,473.80 660.79,473.80 661.05,473.80 661.30,473.80 661.55,473.80 661.81,473.80 662.06,473.80 662.32,473.80 662.57,473.80 662.83,473.80 663.08,473.80 663.33,473.80 663.59,473.80 663.84,473.80 664.10,473.80 664.35,473.80 664.60,473.80 664.86,473.80 665.11,473.80 665.37,473.80 665.62,473.80 665.88,473.80 666.13,473.80 666.38,473.80 666.64,473.80 666.89,473.80 667.15,473.80 667.40,473.80 667.65,473.80 667.91,473.80 668.16,473.80 668.42,473.80 668.67,473.80 668.92,473.80 669.18,473.80 669.43,473.80 669.69,473.80 669.94,473.80 670.20,473.80 670.45,473.80 670.70,473.80 670.96,473.80 671.21,473.80 671.47,473.80 671.72,473.80 671.98,473.80 672.23,473.80 672.48,473.80 672.74,473.80 672.99,473.80 673.25,473.80 673.50,473.80 673.75,473.80 674.01,473.80 674.26,473.80 674.52,473.80 674.77,473.80 675.02,473.80 675.28,473.80 675.53,473.80 675.79,473.80 676.04,473.80 676.30,473.80 676.55,473.80 676.80,473.80 677.06,473.80 677.31,473.80 677.57,473.80 677.82,473.80 678.08,473.80 678.33,473.80 678.58,473.80 678.84,473.80 679.09,473.80 679.35,473.80 679.60,473.80 679.85,473.80 680.11,473.80 680.36,473.80 680.62,473.80 680.87,473.80 681.12,473.80 681.38,473.80 681.63,473.80 681.89,473.80 682.14,473.80 682.40,473.80 682.65,473.80 682.90,473.80 683.16,473.80 683.41,473.80 683.67,473.80 683.92,473.80 684.17,473.80 684.43,473.80 684.68,473.80 684.94,473.80 685.19,473.80 685.45,473.80 685.70,473.80 685.95,473.80 686.21,473.80 686.46,473.80 686.72,473.80 686.97,473.80 687.23,473.80 687.48,473.80 687.73,473.80 687.99,473.80 688.24,473.80 688.50,473.80 688.75,473.80 689.00,473.80 689.26,473.80 689.51,473.80 689.77,473.80 690.02,473.80 690.27,473.80 690.53,473.80 690.78,473.80 691.04,473.80 691.29,473.80 691.55,473.80 691.80,473.80 692.05,473.80 692.31,473.80 692.56,473.80 692.82,473.80 693.07,473.80 693.33,473.80 693.58,473.80 693.83,473.80 694.09,473.80 694.34,473.80 694.60,473.80 694.85,473.80 695.10,473.80 695.36,473.80 695.61,473.80 695.87,473.80 696.12,473.80 696.38,473.80 696.63,473.80 696.88,473.80 697.14,473.80 697.39,473.80 697.65,473.80 697.90,473.80 698.15,473.80 698.41,473.80 698.66,473.80 698.92,473.80 699.17,473.80 699.42,473.80 699.68,473.80 699.93,473.80 700.19,473.80 700.44,473.80 700.70,473.80 700.95,473.80 701.20,473.80 701.46,473.80 701.71,473.80 701.97,473.80 702.22,473.80 702.48,473.80 702.73,473.80 702.98,473.80 703.24,473.80 703.49,473.80 703.75,473.80 704.00,473.80 704.25,473.80 704.51,473.80 704.76,473.80 705.02,473.80 705.27,473.80 705.52,473.80 705.78,473.80 706.03,473.80 706.29,473.80 706.54,473.80 706.80,473.80 707.05,473.80 707.30,473.80 707.56,473.80 707.81,473.80 708.07,473.80 708.32,473.80 708.58,473.80 708.83,473.80 709.08,473.80 709.34,473.80 709.59,473.80 709.85,473.80 710.10,473.80 710.35,473.80 710.61,473.80 710.86,473.80 711.12,473.80 711.37,473.80 711.62,473.80 711.88,473.80 712.13,473.80 712.39,473.80 712.64,473.80 712.90,473.80 713.15,473.80 713.40,473.80 713.66,473.80 713.91,473.80 714.17,473.80 714.42,473.80 714.67,473.80 714.93,473.80 715.18,473.80 715.44,473.80 715.69,473.80 715.95,473.80 716.20,473.80 716.45,473.80 716.71,473.80 716.96,473.80 717.22,473.80 717.47,473.80 717.73,473.80 717.98,473.80 718.23,473.80 718.49,473.80 718.74,473.80 719.00,473.80 719.25,473.80 719.50,473.80 719.76,473.80 720.01,473.80 720.27,473.80 720.52,473.80 720.77,473.80 721.03,473.80 721.28,473.80 721.54,473.80 721.79,473.80 722.05,473.80 722.30,473.80 722.55,473.80 722.81,473.80 723.06,473.80 723.32,473.80 723.57,473.80 723.83,473.80 724.08,473.80 724.33,473.80 724.59,473.80 724.84,473.80 725.10,473.80 725.35,473.80 725.60,473.80 725.86,473.80 726.11,473.80 726.37,473.80 726.62,473.80 726.88,473.80 727.13,473.80 727.38,473.80 727.64,473.80 727.89,473.80 728.15,473.80 728.40,473.80 728.65,473.80 728.91,473.80 729.16,473.80 729.42,473.80 729.67,473.80 729.92,473.80 730.18,473.80 730.43,473.80 730.69,473.80 730.94,473.80 731.20,473.80 731.45,473.80 731.70,473.80 731.96,473.80 732.21,473.80 732.47,473.80 732.72,473.80 732.98,473.80 733.23,473.80 733.48,473.80 733.74,473.80 733.99,473.80 734.25,473.80 734.50,473.80 734.75,473.80 735.01,473.80 735.26,473.80 735.52,473.80 735.77,473.80 736.02,473.80 736.28,473.80 736.53,473.80 736.79,473.80 737.04,473.80 737.30,473.80 737.55,473.80 737.80,473.80 738.06,473.80 738.31,473.80 738.57,473.80 738.82,473.80 739.08,473.80 739.33,473.80 739.58,473.80 739.84,473.80 740.09,473.80 740.35,473.80 740.60,473.80 740.85,473.80 741.11,473.80 741.36,473.80 741.62,473.80 741.87,473.80 742.12,473.80 742.38,473.80 742.63,473.80 742.89,473.80 743.14,473.80 743.40,473.80 743.65,473.80 743.90,473.80 744.16,473.80 744.41,473.80 744.67,473.80 744.92,473.80 745.17,473.80 745.43,473.80 745.68,473.80 745.94,473.80 746.19,473.80 746.45,473.80 746.70,473.80 746.95,473.80 747.21,473.80 747.46,473.80 747.72,473.80 747.97,473.80 748.23,473.80 748.48,473.80 748.73,473.80 748.99,473.80 749.24,473.80 749.50,473.80 749.75,473.80 750.00,473.80 750.26,473.80 750.51,473.80 750.77,473.80 751.02,473.80 751.27,473.80 751.53,473.80 751.78,473.80 752.04,473.80 752.29,473.80 752.55,473.80 752.80,473.80 753.05,473.80 753.31,473.80 753.56,473.80 753.82,473.80 754.07,473.80 754.33,473.80 754.58,473.80 754.83,473.80 755.09,473.80 755.34,473.80 755.60,473.80 755.85,473.80 756.10,473.80 756.36,473.80 756.61,473.80 756.87,473.80 757.12,473.80 757.38,473.80 757.63,473.80 757.88,473.80 758.14,473.80 758.39,473.80 758.65,473.80 758.90,473.80 759.15,473.80 759.41,473.80 759.66,473.80 759.92,473.80 760.17,473.80 760.42,473.80 760.68,473.80 760.93,473.80 761.19,473.80 761.44,473.80 761.70,473.80 761.95,473.80 762.20,473.80 762.46,473.80 762.71,473.80 762.97,473.80 763.22,473.80 763.48,473.80 763.73,473.80 763.98,473.80 764.24,473.80 764.49,473.80 764.75,473.80 765.00,473.80 765.25,473.80 765.51,473.80 765.76,473.80 766.02,473.80 766.27,473.80 766.52,473.80 766.78,473.80 767.03,473.80 767.29,473.80 767.54,473.80 767.80,473.80 768.05,473.80 768.30,473.80 768.56,473.80 768.81,473.80 769.07,473.80 769.32,473.80 769.58,473.80 769.83,473.80 770.08,473.80 770.34,473.80 770.59,473.80 770.85,473.80 771.10,473.80 771.35,473.80 771.61,473.80 771.86,473.80 772.12,473.80 772.37,473.80 772.62,473.80 772.88,473.80 773.13,473.80 773.39,473.80 773.64,473.80 773.90,473.80 774.15,473.80 774.40,473.80 774.66,473.80 774.91,473.80 775.17,473.80 775.42,473.80 775.67,473.80 775.93,473.80 776.18,473.80 776.44,473.80 776.69,473.80 776.95,473.80 777.20,473.80 777.45,473.80 777.71,473.80 777.96,473.80 778.22,473.80 778.47,473.80 778.73,473.80 778.98,473.80 779.23,473.80 779.49,473.80 779.74,473.80 780.00,473.80 780.25,473.80 780.50,473.80 780.76,473.80 781.01,473.80 781.27,473.80 781.52,473.80 781.77,473.80 782.03,473.80 782.28,473.80 782.54,473.80 782.79,473.80 783.05,473.80 783.30,473.80 783.55,473.80 783.81,473.80 784.06,473.80 784.32,473.80 784.57,473.80 784.83,473.80 785.08,473.80 785.33,473.80 785.59,473.80 785.84,473.80 786.10,473.80 786.35,473.80 786.60,473.80 786.86,473.80 787.11,473.80 787.37,473.80 787.62,473.80 787.88,473.80 788.13,473.80 788.38,473.80 788.64,473.80 788.89,473.80 789.15,473.80 789.40,473.80 789.65,473.80 789.91,473.80 790.16,473.80 790.42,473.80 790.67,473.80 790.92,473.80 791.18,473.80 791.43,473.80 791.69,473.80 791.94,473.80 792.20,473.80 792.45,473.80 792.70,473.80 792.96,473.80 793.21,473.80 793.47,473.80 793.72,473.80 793.98,473.80 794.23,473.80 794.48,473.80 794.74,473.80 794.99,473.80 795.25,473.80 795.50,473.80 795.75,473.80 796.01,473.80 796.26,473.80 796.52,473.80 796.77,473.80 797.02,473.80 797.28,473.80 797.53,473.80 797.79,473.80 798.04,473.80 798.30,473.80 798.55,473.80 798.80,473.80 799.06,473.80 799.31,473.80 799.57,473.80 799.82,473.80 800.08,473.80 800.33,473.80 800.58,473.80 800.84,473.80 801.09,473.80 801.35,473.80 801.60,473.80 801.85,473.80 802.11,473.80 802.36,473.80 802.62,473.80 802.87,473.80 803.12,473.80 803.38,473.80 803.63,473.80 803.89,473.80 804.14,473.80 804.40,473.80 804.65,473.80 804.90,473.80 805.16,473.80 805.41,473.80 805.67,473.80 805.92,473.80 806.17,473.80 806.43,473.80 806.68,473.80 806.94,473.80 807.19,473.80 807.45,473.80 807.70,473.80 807.95,473.80 808.21,473.80 808.46,473.80 808.72,473.80 808.97,473.80 809.23,473.80 809.48,473.80 809.73,473.80 809.99,473.80 810.24,473.80 810.50,473.80 810.75,473.80 811.00,473.80 811.26,473.80 811.51,473.80 811.77,473.80 812.02,473.80 812.27,473.80 812.53,473.80 812.78,473.80 813.04,473.80 813.29,473.80 813.55,473.80 813.80,473.80 814.05,473.80 814.31,473.80 814.56,473.80 814.82,473.80 815.07,473.80 815.33,473.80 815.58,473.80 815.83,473.80 816.09,473.80 816.34,473.80 816.60,473.80 816.85,473.80 817.10,473.80 817.36,473.80 817.61,473.80 817.87,473.80 818.12,473.80 818.38,473.80 818.63,473.80 818.88,473.80 819.14,473.80 819.39,473.80 819.65,473.80 819.90,473.80 820.15,473.80 820.41,473.80 820.66,473.80 820.92,473.80 821.17,473.80 821.42,473.80 821.68,473.80 821.93,473.80 822.19,473.80 822.44,473.80 822.70,473.80 822.95,473.80 823.20,473.80 823.46,473.80 823.71,473.80 823.97,473.80 824.22,473.80 824.48,473.80 824.73,473.80 824.98,473.80 825.24,473.80 825.49,473.80 825.75,473.80 826.00,473.80 826.25,473.80 826.51,473.80 826.76,473.80 827.02,473.80 827.27,473.80 827.52,473.80 827.78,473.80 828.03,473.80 828.29,473.80 828.54,473.80 828.80,473.80 829.05,473.80 829.30,473.80 829.56,473.80 829.81,473.80 830.07,473.80 830.32,473.80 830.58,473.80 830.83,473.80 831.08,473.80 831.34,473.80 831.59,473.80 831.85,473.80 832.10,473.80 832.35,473.80 832.61,473.80 832.86,473.80 833.12,473.80 833.37,473.80 833.62,473.80 833.88,473.80 834.13,473.80 834.39,473.80 834.64,473.80 834.90,473.80 835.15,473.80 835.40,473.80 835.66,473.80 835.91,473.80 836.17,473.80 836.42,473.80 836.67,473.80 836.93,473.80 837.18,473.80 837.44,473.80 837.69,473.80 837.95,473.80 838.20,473.80 838.45,473.80 838.71,473.80 838.96,473.80 839.22,473.80 839.47,473.80 839.73,473.80 839.98,473.80 840.23,473.80 840.49,473.80 840.74,473.80 841.00,473.80 841.25,473.80 841.50,473.80 841.76,473.80 842.01,473.80 842.27,473.80 842.52,473.80 842.77,473.80 843.03,473.80 843.28,473.80 843.54,473.80 843.79,473.80 844.05,473.80 844.30,473.80 844.55,473.80 844.81,473.80 845.06,473.80 845.32,473.80 845.57,473.80 845.83,473.80 846.08,473.80 846.33,473.80 846.59,473.80 846.84,473.80 847.10,473.80 847.35,473.80 847.60,473.80 847.86,473.80 848.11,473.80 848.37,473.80 848.62,473.80 848.88,473.80 849.13,473.80 849.38,473.80 849.64,473.80 849.89,473.80 850.15,473.80 850.40,473.80 850.65,473.80 850.91,473.80 851.16,473.80 851.42,473.80 851.67,473.80 851.92,473.80 852.18,473.80 852.43,473.80 852.69,473.80 852.94,473.80 853.20,473.80 853.45,473.80 853.70,473.80 853.96,473.80 854.21,473.80 854.47,473.80 854.72,473.80 854.98,473.80 855.23,473.80 855.48,473.80 855.74,473.80 855.99,473.80 856.25,473.80 856.50,473.80 856.75,473.80 857.01,473.80 857.26,473.80 857.52,473.80 857.77,473.80 858.02,473.80 858.28,473.80 858.53,473.80 858.79,473.80 859.04,473.80 859.30,473.80 859.55,473.80 859.80,473.80 860.06,473.80 860.31,473.80 860.57,473.80 860.82,473.80 861.08,473.80 861.33,473.80 861.58,473.80 861.84,473.80 862.09,473.80 862.35,473.80 862.60,473.80 862.85,473.81 863.11,473.81 863.36,473.81 863.62,473.81 863.87,473.81 864.12,473.81 864.38,473.81 864.63,473.81 864.89,473.81 865.14,473.81 865.40,473.81 865.65,473.81 865.90,473.81 866.16,473.81 866.41,473.81 866.67,473.81 866.92,473.81 867.17,473.81 867.43,473.81 867.68,473.81 867.94,473.81 868.19,473.81 868.45,473.81 868.70,473.81 868.95,473.81 869.21,473.81 869.46,473.81 869.72,473.81 869.97,473.81 870.23,473.81 870.48,473.81 870.73,473.81 870.99,473.81 871.24,473.82 871.50,473.82 871.75,473.82 872.00,473.82 872.26,473.82 872.51,473.82 872.77,473.82 873.02,473.82 873.27,473.82 873.53,473.82 873.78,473.82 874.04,473.82 874.29,473.82 874.55,473.82 874.80,473.82 875.05,473.83 875.31,473.83 875.56,473.83 875.82,473.83 876.07,473.83 876.33,473.83 876.58,473.83 876.83,473.83 877.09,473.83 877.34,473.83 877.60,473.84 877.85,473.84 878.10,473.84 878.36,473.84 878.61,473.84 878.87,473.84 879.12,473.84 879.38,473.84 879.63,473.85 879.88,473.85 880.14,473.85 880.39,473.85 880.65,473.85 880.90,473.85 881.15,473.86 881.41,473.86 881.66,473.86 881.92,473.86 882.17,473.86 882.42,473.87 882.68,473.87 882.93,473.87 883.19,473.87 883.44,473.88 883.70,473.88 883.95,473.88 884.20,473.88 884.46,473.89 884.71,473.89 884.97,473.89 885.22,473.90 885.48,473.90 885.73,473.90 885.98,473.91 886.24,473.91 886.49,473.91 886.75,473.92 887.00,473.92 887.25,473.93 887.51,473.93 887.76,473.93 888.02,473.94 888.27,473.94 888.52,473.95 888.78,473.95 889.03,473.96 889.29,473.96 889.54,473.97 889.80,473.98 890.05,473.98 890.30,473.99 890.56,473.99 890.81,474.00 891.07,474.01 891.32,474.01 891.58,474.02 891.83,474.03 892.08,474.04 892.34,474.04 892.59,474.05 892.85,474.06 893.10,474.07 893.35,474.08 893.61,474.09 893.86,474.10 894.12,474.11 894.37,474.12 894.62,474.13 894.88,474.14 895.13,474.15 895.39,474.17 895.64,474.18 895.90,474.19 896.15,474.20 896.40,474.22 896.66,474.23 896.91,474.25 897.17,474.26 897.42,474.28 897.67,474.29 897.93,474.31 898.18,474.33 898.44,474.35 898.69,474.36 898.95,474.38 899.20,474.40 899.45,474.42 899.71,474.44 899.96,474.47 900.22,474.49 900.47,474.51 900.72,474.54 900.98,474.56 901.23,474.59 901.49,474.61 901.74,474.64 902.00,474.67 902.25,474.70 902.50,474.73 902.76,474.76 903.01,474.79 903.27,474.83 903.52,474.86 903.77,474.90 904.03,474.93 904.28,474.97 904.54,475.01 904.79,475.05 905.05,475.10 905.30,475.14 905.55,475.19 905.81,475.23 906.06,475.28 906.32,475.33 906.57,475.38 906.83,475.44 907.08,475.49 907.33,475.55 907.59,475.61 907.84,475.67 908.10,475.73 908.35,475.80 908.60,475.87 908.86,475.94 909.11,476.01 909.37,476.08 909.62,476.16 909.88,476.24 910.13,476.32 910.38,476.41 910.64,476.50 910.89,476.59 911.15,476.68 911.40,476.78 911.65,476.88 911.91,476.99 912.16,477.09 912.42,477.21 912.67,477.32 912.92,477.44 913.18,477.56 913.43,477.69 913.69,477.82 913.94,477.96 914.20,478.10 914.45,478.24 914.70,478.39 914.96,478.55 915.21,478.71 915.47,478.87 915.72,479.05 915.98,479.22 916.23,479.41 916.48,479.60 916.74,479.79 916.99,480.00 917.25,480.20 917.50,480.42 917.75,480.64 918.01,480.87 918.26,481.10 918.52,481.35 918.77,481.60 919.03,481.86 919.28,482.13 919.53,482.41 919.79,482.69 920.04,482.99 920.30,483.30 920.55,483.61 920.80,483.94 921.06,484.28 921.31,484.63 921.57,484.99 921.82,485.36 922.08,485.75 922.33,486.15 922.58,486.56 922.84,486.98 923.09,487.39 923.35,487.79 923.60,488.20 923.85,488.62 924.11,489.06 924.36,489.51 924.62,489.98 924.87,490.45 925.12,490.94 925.38,491.45 925.63,491.97 925.89,492.51 926.14,493.06 926.40,493.63 926.65,494.21 926.90,494.82 927.16,495.53 927.41,496.26 927.67,497.02 927.92,497.80 928.17,498.61 928.43,499.45 928.68,500.32 928.94,501.21 929.19,502.14 929.45,503.07 929.70,503.93 929.95,504.81 930.21,505.73 930.46,506.67 930.72,507.63 930.97,508.63 931.22,509.65 931.48,510.70 931.73,511.77 931.99,512.86 932.24,513.98 932.50,515.14 932.75,516.33 933.00,517.55 933.26,518.81 933.51,520.24 933.77,521.74 934.02,523.30 934.27,524.91 934.53,526.56 934.78,528.24 935.04,529.97 935.29,531.75 935.55,533.59 935.80,535.42 936.05,537.20 936.31,539.02 936.56,540.91 936.82,542.84 937.07,544.83 937.33,546.88 937.58,548.99 937.83,551.15 938.09,553.38 938.34,555.68 938.60,558.04 938.85,560.47 939.10,562.97 939.36,565.54 939.61,568.31 939.87,571.31 940.12,574.40 940.38,577.60 940.63,580.89 940.88,584.29 941.14,587.79 941.39,591.41 941.65,595.14 941.90,598.99 942.15,602.28 942.41,605.66 942.66,609.13 942.92,612.69 943.17,616.35 943.42,620.10 943.68,624.18 943.93,629.03 944.19,634.03 944.44,639.19 944.70,644.52 944.95,650.11 945.20,655.95 945.46,661.99 945.71,668.22 945.97,674.67 946.22,680.12 946.48,685.61 946.73,691.25 946.98,697.03 947.24,702.98 947.49,709.08 947.75,715.34 948.00,721.77"/>
</g></g>
<g fill="none" stroke="#77AC30" stroke-width="2.1">
<circle cx="643.30" cy="473.80" r="5.5"/>
<circle cx="645.20" cy="473.80" r="5.5"/>
<circle cx="646.90" cy="473.80" r="5.5"/>
<circle cx="648.89" cy="473.80" r="5.5"/>
<circle cx="661.70" cy="473.80" r="5.5"/>
<circle cx="664.20" cy="473.80" r="5.5"/>
<circle cx="673.99" cy="473.80" r="5.5"/>
<circle cx="678.01" cy="473.80" r="5.5"/>
<circle cx="686.40" cy="473.80" r="5.5"/>
<circle cx="692.59" cy="473.80" r="5.5"/>
<circle cx="704.31" cy="473.80" r="5.5"/>
<circle cx="711.01" cy="473.80" r="5.5"/>
<circle cx="719.80" cy="473.80" r="5.5"/>
<circle cx="730.41" cy="473.80" r="5.5"/>
<circle cx="740.69" cy="473.80" r="5.5"/>
<circle cx="752.40" cy="473.80" r="5.5"/>
<circle cx="765.79" cy="473.80" r="5.5"/>
<circle cx="779.79" cy="473.80" r="5.5"/>
<circle cx="794.19" cy="473.80" r="5.5"/>
<circle cx="811.30" cy="473.80" r="5.5"/>
<circle cx="832.40" cy="473.80" r="5.5"/>
<circle cx="860.71" cy="473.80" r="5.5"/>
<circle cx="917.29" cy="480.24" r="5.5"/>
</g>
<g stroke-width="1" fill="none" stroke="#262626">
<rect x="643.5" y="63.5" width="305.0" height="685.0"/>
<path d="M643.5 748.5V741.65 M643.5 63.5V70.35 M795.5 748.5V741.65 M795.5 63.5V70.35 M948.5 748.5V741.65 M948.5 63.5V70.35 M643.5 748.5H650.35 M948.5 748.5H941.65 M643.5 611.5H650.35 M948.5 611.5H941.65 M643.5 474.5H650.35 M948.5 474.5H941.65 M643.5 337.5H650.35 M948.5 337.5H941.65 M643.5 200.5H650.35 M948.5 200.5H941.65 M643.5 63.5H650.35 M948.5 63.5H941.65 "/>
</g>
<g filter="url(#ga)">
<g font-size="20" fill="#262626" stroke="#262626" stroke-width="0.3" text-anchor="end">
<text x="634.3" y="756.0">-1000</text>
<text x="634.3" y="619.0">-500</text>
<text x="634.3" y="482.0">0</text>
<text x="634.3" y="345.0">500</text>
<text x="634.3" y="208.0">1000</text>
<text x="634.3" y="71.0">1500</text>
</g>
<g transform="translate(561.10,405.95) rotate(-90)">
<text xml:space="preserve" x="-82.88" y="0.00" font-size="22" fill="#262626" stroke="#262626" stroke-width="0.3">h,  </text>
<g transform="translate(-50.81,0.00) scale(0.900,1.000) translate(5.25,-7.85) skewX(-16.6)" fill="#262626" stroke="none"><path fill-rule="evenodd" d="M-4.60,0A4.60,8.20 0 1,0 4.60,0A4.60,8.20 0 1,0 -4.60,0Z M-2.90,0A2.90,7.35 0 1,0 2.90,0A2.90,7.35 0 1,0 -2.90,0Z"/><rect x="-3.3" y="-0.7" width="6.6" height="1.4"/></g>
<text xml:space="preserve" x="-41.08" y="10.52" font-size="17.6" fill="#262626" stroke="#262626" stroke-width="0.3">h</text>
<text xml:space="preserve" x="-30.29" y="0.00" font-size="22" fill="#262626" stroke="#262626" stroke-width="0.3">,  </text>
<text xml:space="preserve" x="-11.45" y="0.00" font-size="22" fill="#262626" stroke="#262626" stroke-width="0.3">d,  </text>
<text xml:space="preserve" x="20.02" y="0.00" font-size="22" fill="#262626" stroke="#262626" stroke-width="0.3">m</text>
<text xml:space="preserve" x="39.35" y="10.52" font-size="17.6" fill="#262626" stroke="#262626" stroke-width="0.3">h</text>
<text xml:space="preserve" x="50.14" y="0.00" font-size="22" fill="#262626" stroke="#262626" stroke-width="0.3">, </text>
<g transform="translate(63.36,0.00) scale(0.900,1.000) translate(5.25,-7.85) skewX(-16.6)" fill="#262626" stroke="none"><path fill-rule="evenodd" d="M-4.60,0A4.60,8.20 0 1,0 4.60,0A4.60,8.20 0 1,0 -4.60,0Z M-2.90,0A2.90,7.35 0 1,0 2.90,0A2.90,7.35 0 1,0 -2.90,0Z"/><rect x="-3.3" y="-0.7" width="6.6" height="1.4"/></g>
<text xml:space="preserve" x="73.09" y="10.52" font-size="17.6" fill="#262626" stroke="#262626" stroke-width="0.3">b</text>
</g>
<g>
<text xml:space="preserve" x="553.35" y="44.90" font-size="22" fill="#000" font-weight="bold" stroke="#000" stroke-width="0.45">h</text>
<text xml:space="preserve" x="567.79" y="56.45" font-size="17.6" fill="#000" font-weight="bold" stroke="#000" stroke-width="0.45">0</text>
<text xml:space="preserve" x="578.58" y="44.90" font-size="22" fill="#000" font-weight="bold" stroke="#000" stroke-width="0.45"> = 0.2, </text>
<g transform="translate(648.76,44.90) scale(1.000,1.000) translate(5.25,-7.85) skewX(-16.6)" fill="#000" stroke="none"><path fill-rule="evenodd" d="M-4.70,0A4.70,8.25 0 1,0 4.70,0A4.70,8.25 0 1,0 -4.70,0Z M-2.55,0A2.55,7.20 0 1,0 2.55,0A2.55,7.20 0 1,0 -2.55,0Z"/><rect x="-3.3" y="-0.7" width="6.6" height="1.4"/></g>
<text xml:space="preserve" x="659.46" y="56.45" font-size="17.6" fill="#000" font-weight="bold" stroke="#000" stroke-width="0.45">h0</text>
<text xml:space="preserve" x="681.00" y="44.90" font-size="22" fill="#000" font-weight="bold" stroke="#000" stroke-width="0.45"> = 0.5, d</text>
<text xml:space="preserve" x="763.31" y="56.45" font-size="17.6" fill="#000" font-weight="bold" stroke="#000" stroke-width="0.45">0</text>
<text xml:space="preserve" x="774.10" y="44.90" font-size="22" fill="#000" font-weight="bold" stroke="#000" stroke-width="0.45"> = 0.4, m</text>
<text xml:space="preserve" x="862.54" y="56.45" font-size="17.6" fill="#000" font-weight="bold" stroke="#000" stroke-width="0.45">h0</text>
<text xml:space="preserve" x="884.08" y="44.90" font-size="22" fill="#000" font-weight="bold" stroke="#000" stroke-width="0.45"> = 0.2, </text>
<g transform="translate(953.86,44.90) scale(1.000,1.000) translate(5.25,-7.85) skewX(-16.6)" fill="#000" stroke="none"><path fill-rule="evenodd" d="M-4.70,0A4.70,8.25 0 1,0 4.70,0A4.70,8.25 0 1,0 -4.70,0Z M-2.55,0A2.55,7.20 0 1,0 2.55,0A2.55,7.20 0 1,0 -2.55,0Z"/><rect x="-3.3" y="-0.7" width="6.6" height="1.4"/></g>
<text xml:space="preserve" x="964.56" y="56.45" font-size="17.6" fill="#000" font-weight="bold" stroke="#000" stroke-width="0.45">b0</text>
<text xml:space="preserve" x="986.10" y="44.90" font-size="22" fill="#000" font-weight="bold" stroke="#000" stroke-width="0.45"> = 0.1</text>
</g>
</g>
<rect x="822.5" y="83.5" width="106" height="146" fill="#fff" stroke="#262626" stroke-width="1" shape-rendering="crispEdges"/>
<path d="M830.5 98.4H890.5" stroke="#0072BD" stroke-width="1" fill="none"/>
<path d="M830.5 125.4H890.5" stroke="#D95319" stroke-width="1" fill="none" stroke-dasharray="20 12"/>
<path d="M830.5 152.4H890.5" stroke="#EDB120" stroke-width="1" fill="none" stroke-dasharray="16 6 4 6"/>
<path d="M830.5 179.4H890.5" stroke="#7E2F8E" stroke-width="1" fill="none" stroke-dasharray="2 6"/>
<path d="M830.5 210.6H890.5" stroke="#77AC30" stroke-width="1" fill="none" stroke-dasharray="2 6"/>
<circle cx="859.5" cy="210.6" r="5.5" fill="none" stroke="#77AC30" stroke-width="2.1"/>
<g filter="url(#ga)">
<g>
<text xml:space="preserve" x="896.20" y="104.80" font-size="18" fill="#000" stroke="#000" stroke-width="0.3">h</text>
</g>
<g>
<g transform="translate(896.60,127.60) scale(0.800,0.800) translate(5.25,-7.85) skewX(-16.6)" fill="#000" stroke="none"><path fill-rule="evenodd" d="M-4.60,0A4.60,8.20 0 1,0 4.60,0A4.60,8.20 0 1,0 -4.60,0Z M-2.90,0A2.90,7.35 0 1,0 2.90,0A2.90,7.35 0 1,0 -2.90,0Z"/><rect x="-3.3" y="-0.7" width="6.6" height="1.4"/></g>
<text xml:space="preserve" x="905.18" y="136.87" font-size="14.4" fill="#000" stroke="#000" stroke-width="0.3">h</text>
</g>
<g>
<text xml:space="preserve" x="896.20" y="158.80" font-size="18" fill="#000" stroke="#000" stroke-width="0.3">d</text>
</g>
<g>
<text xml:space="preserve" x="896.20" y="181.60" font-size="18" fill="#000" stroke="#000" stroke-width="0.3">m</text>
<text xml:space="preserve" x="912.01" y="190.87" font-size="14.4" fill="#000" stroke="#000" stroke-width="0.3">h</text>
</g>
<g>
<g transform="translate(896.60,212.70) scale(0.800,0.800) translate(5.25,-7.85) skewX(-16.6)" fill="#000" stroke="none"><path fill-rule="evenodd" d="M-4.60,0A4.60,8.20 0 1,0 4.60,0A4.60,8.20 0 1,0 -4.60,0Z M-2.90,0A2.90,7.35 0 1,0 2.90,0A2.90,7.35 0 1,0 -2.90,0Z"/><rect x="-3.3" y="-0.7" width="6.6" height="1.4"/></g>
<text xml:space="preserve" x="905.18" y="221.97" font-size="14.4" fill="#000" stroke="#000" stroke-width="0.3">b</text>
</g>
</g>
</svg></body></html>
